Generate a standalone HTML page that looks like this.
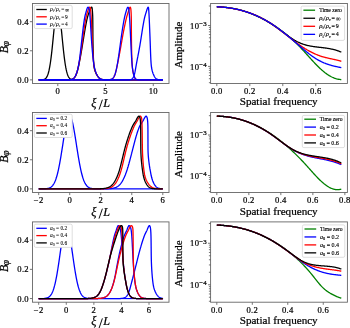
<!DOCTYPE html><html><head><meta charset="utf-8"><style>html,body{margin:0;padding:0;background:#fff;width:350px;height:328px;overflow:hidden}svg{display:block;will-change:transform}</style></head><body><svg width="350" height="328" viewBox="0 0 350 328">
<style>text{font-family:"Liberation Serif", serif;fill:#000;stroke:#000;stroke-width:0.22px}.t{font-size:8.6px;letter-spacing:0.25px}.l{font-size:10.8px}.lg{fill:#000;stroke-width:0.2px}</style>
<rect width="350" height="328" fill="#fff"/>
<clipPath id="cl0"><rect x="32.5" y="3.5" width="136.5" height="80.0"/></clipPath>
<path d="M38.7 79.86 L42.68 79.73 L43.08 79.63 L43.48 79.55 L43.88 79.44 L44.28 79.3 L44.68 79.12 L45.08 78.88 L45.48 78.58 L45.88 78.21 L46.28 77.73 L46.68 77.15 L47.08 76.43 L47.48 75.56 L47.88 74.52 L48.28 73.29 L48.68 71.83 L49.08 70.15 L49.48 68.2 L49.88 65.99 L50.28 63.51 L50.68 60.74 L51.08 57.7 L51.48 54.4 L51.88 50.85 L52.28 47.1 L52.68 43.18 L53.08 39.15 L53.48 35.06 L53.88 30.99 L54.28 27 L54.68 23.19 L55.08 19.62 L55.48 16.38 L55.88 13.54 L56.28 11.17 L56.68 9.33 L57.08 8.07 L57.48 7.42 L57.88 7.38 L58.28 7.97 L58.68 9.17 L59.08 10.95 L59.48 13.26 L59.88 16.05 L60.28 19.26 L60.68 22.79 L61.08 26.59 L61.48 30.56 L61.88 34.62 L62.28 38.71 L62.68 42.75 L63.08 46.69 L63.48 50.46 L63.88 54.03 L64.28 57.36 L64.68 60.43 L65.08 63.23 L65.48 65.74 L65.88 67.98 L66.28 69.95 L66.68 71.67 L67.08 73.14 L67.48 74.4 L67.88 75.46 L68.28 76.35 L68.68 77.08 L69.08 77.68 L69.48 78.16 L69.88 78.55 L70.28 78.86 L70.68 79.1 L71.08 79.29 L71.48 79.43 L71.88 79.54 L72.28 79.62 L72.68 79.73 L162.8 79.86" fill="none" stroke="#000" stroke-width="1.3" stroke-linejoin="round" stroke-linecap="butt" clip-path="url(#cl0)"/>
<path d="M38.7 79.86 L68.86 79.79 L69.31 79.76 L69.76 79.73 L70.21 79.68 L70.65 79.62 L71.1 79.53 L71.55 79.42 L71.93 79.31 L72.32 79.16 L72.7 78.99 L73.08 78.77 L73.47 78.51 L73.79 78.26 L74.11 77.96 L74.43 77.62 L74.68 77.31 L74.94 76.96 L75.19 76.57 L75.45 76.14 L75.7 75.67 L75.89 75.28 L76.08 74.86 L76.26 74.41 L76.45 73.93 L76.63 73.42 L76.81 72.88 L76.94 72.49 L77.06 72.09 L77.18 71.67 L77.31 71.24 L77.43 70.79 L77.56 70.32 L77.69 69.83 L77.82 69.32 L77.95 68.8 L78.08 68.25 L78.21 67.69 L78.35 67.11 L78.48 66.51 L78.62 65.89 L78.76 65.24 L78.9 64.58 L79.05 63.9 L79.19 63.2 L79.34 62.48 L79.49 61.74 L79.64 60.97 L79.79 60.19 L79.87 59.79 L79.95 59.39 L80.03 58.98 L80.1 58.57 L80.18 58.15 L80.26 57.73 L80.34 57.3 L80.42 56.87 L80.5 56.44 L80.58 55.99 L80.66 55.55 L80.74 55.1 L80.82 54.64 L80.9 54.19 L80.99 53.72 L81.07 53.26 L81.15 52.78 L81.23 52.31 L81.32 51.83 L81.4 51.35 L81.48 50.86 L81.57 50.37 L81.65 49.87 L81.74 49.37 L81.82 48.87 L81.91 48.37 L81.99 47.86 L82.08 47.35 L82.16 46.83 L82.25 46.31 L82.33 45.79 L82.42 45.27 L82.51 44.74 L82.59 44.22 L82.68 43.69 L82.77 43.15 L82.85 42.62 L82.94 42.08 L83.03 41.54 L83.12 41 L83.2 40.46 L83.29 39.92 L83.38 39.37 L83.47 38.83 L83.56 38.28 L83.64 37.73 L83.73 37.18 L83.82 36.64 L83.91 36.09 L84 35.54 L84.09 34.99 L84.18 34.44 L84.27 33.89 L84.36 33.35 L84.46 32.8 L84.55 32.25 L84.64 31.71 L84.73 31.17 L84.82 30.62 L84.92 30.08 L85.01 29.55 L85.1 29.01 L85.2 28.48 L85.29 27.94 L85.39 27.42 L85.48 26.89 L85.58 26.37 L85.67 25.85 L85.77 25.33 L85.87 24.82 L85.97 24.31 L86.06 23.8 L86.16 23.3 L86.26 22.8 L86.36 22.31 L86.46 21.83 L86.56 21.34 L86.66 20.87 L86.77 20.39 L86.87 19.93 L86.97 19.47 L87.07 19.01 L87.18 18.56 L87.28 18.12 L87.39 17.68 L87.5 17.25 L87.61 16.83 L87.73 16.41 L87.84 16.01 L87.96 15.6 L88.08 15.21 L88.2 14.82 L88.45 14.08 L88.69 13.36 L88.93 12.68 L89.16 12.03 L89.37 11.42 L89.58 10.84 L89.77 10.31 L89.95 9.81 L90.14 9.35 L90.32 8.94 L90.49 8.56 L90.75 8.08 L90.99 7.7 L91.29 7.34 L91.7 7.14 L91.95 7.5 L92.06 7.94 L92.14 8.39 L92.22 8.94 L92.27 9.35 L92.32 9.81 L92.36 10.31 L92.41 10.84 L92.45 11.42 L92.49 12.03 L92.53 12.68 L92.57 13.36 L92.61 14.08 L92.65 14.82 L92.68 15.6 L92.7 16.01 L92.71 16.41 L92.72 16.83 L92.73 17.25 L92.74 17.68 L92.75 18.12 L92.76 18.56 L92.77 19.01 L92.77 19.47 L92.78 19.93 L92.79 20.39 L92.79 20.87 L92.8 21.34 L92.8 21.83 L92.81 22.31 L92.81 22.8 L92.82 23.3 L92.82 23.8 L92.83 24.31 L92.83 24.82 L92.83 25.33 L92.84 25.85 L92.84 26.37 L92.84 26.89 L92.85 27.42 L92.85 27.94 L92.86 28.48 L92.86 29.01 L92.86 29.55 L92.87 30.08 L92.87 30.62 L92.87 31.17 L92.88 31.71 L92.88 32.25 L92.88 32.8 L92.89 33.35 L92.89 33.89 L92.89 34.44 L92.9 34.99 L92.9 35.54 L92.91 36.09 L92.91 36.64 L92.92 37.18 L92.92 37.73 L92.93 38.28 L92.94 38.83 L92.94 39.37 L92.95 39.92 L92.96 40.46 L92.97 41 L92.97 41.54 L92.98 42.08 L92.99 42.62 L93 43.15 L93.01 43.69 L93.02 44.22 L93.03 44.74 L93.04 45.27 L93.05 45.79 L93.06 46.31 L93.07 46.83 L93.08 47.35 L93.09 47.86 L93.1 48.37 L93.11 48.87 L93.13 49.37 L93.14 49.87 L93.15 50.37 L93.16 50.86 L93.18 51.35 L93.19 51.83 L93.21 52.31 L93.22 52.78 L93.23 53.26 L93.25 53.72 L93.27 54.19 L93.28 54.64 L93.3 55.1 L93.31 55.55 L93.33 55.99 L93.35 56.44 L93.37 56.87 L93.38 57.3 L93.4 57.73 L93.42 58.15 L93.44 58.57 L93.46 58.98 L93.48 59.39 L93.5 59.79 L93.54 60.59 L93.58 61.36 L93.63 62.11 L93.68 62.84 L93.72 63.55 L93.77 64.24 L93.83 64.92 L93.89 65.57 L93.97 66.2 L94.06 66.81 L94.15 67.4 L94.26 67.98 L94.38 68.53 L94.51 69.06 L94.64 69.58 L94.78 70.07 L94.93 70.55 L95.08 71.01 L95.24 71.46 L95.41 71.88 L95.57 72.29 L95.74 72.68 L95.91 73.06 L96.17 73.6 L96.43 74.1 L96.69 74.57 L96.94 75 L97.18 75.41 L97.42 75.79 L97.64 76.14 L97.93 76.57 L98.21 76.96 L98.5 77.31 L98.78 77.62 L99.14 77.96 L99.5 78.26 L99.85 78.51 L100.21 78.73 L100.57 78.92 L100.99 79.11 L101.42 79.26 L101.85 79.39 L102.28 79.49 L102.7 79.57 L103.13 79.64 L103.56 79.69 L103.98 79.73 L104.41 79.76 L104.84 79.78 L104.98 79.79 L162.8 79.86" fill="none" stroke="#000" stroke-width="1.3" stroke-linejoin="round" stroke-linecap="butt" clip-path="url(#cl0)"/>
<path d="M38.7 79.86 L68.76 79.79 L69.21 79.76 L69.66 79.73 L70.11 79.68 L70.55 79.62 L71 79.53 L71.45 79.42 L71.83 79.31 L72.22 79.16 L72.6 78.99 L72.98 78.77 L73.37 78.51 L73.69 78.26 L74.01 77.96 L74.33 77.62 L74.58 77.31 L74.84 76.96 L75.09 76.57 L75.35 76.14 L75.54 75.79 L75.73 75.41 L75.92 75 L76.11 74.57 L76.3 74.1 L76.49 73.6 L76.68 73.06 L76.87 72.49 L76.99 72.09 L77.12 71.67 L77.24 71.24 L77.37 70.79 L77.5 70.32 L77.63 69.83 L77.75 69.32 L77.88 68.8 L78.01 68.25 L78.14 67.69 L78.27 67.11 L78.4 66.51 L78.54 65.89 L78.67 65.24 L78.8 64.58 L78.94 63.9 L79.07 63.2 L79.21 62.48 L79.34 61.74 L79.48 60.97 L79.61 60.19 L79.68 59.79 L79.75 59.39 L79.82 58.98 L79.89 58.57 L79.95 58.15 L80.02 57.73 L80.09 57.3 L80.16 56.87 L80.23 56.44 L80.3 55.99 L80.37 55.55 L80.44 55.1 L80.51 54.64 L80.58 54.19 L80.65 53.72 L80.72 53.26 L80.79 52.78 L80.86 52.31 L80.93 51.83 L81 51.35 L81.07 50.86 L81.14 50.37 L81.21 49.87 L81.28 49.37 L81.36 48.87 L81.43 48.37 L81.5 47.86 L81.57 47.35 L81.64 46.83 L81.71 46.31 L81.79 45.79 L81.86 45.27 L81.93 44.74 L82 44.22 L82.08 43.69 L82.15 43.15 L82.22 42.62 L82.3 42.08 L82.37 41.54 L82.44 41 L82.52 40.46 L82.59 39.92 L82.67 39.37 L82.74 38.83 L82.82 38.28 L82.89 37.73 L82.96 37.18 L83.04 36.64 L83.11 36.09 L83.19 35.54 L83.26 34.99 L83.33 34.44 L83.41 33.89 L83.48 33.35 L83.56 32.8 L83.63 32.25 L83.71 31.71 L83.78 31.17 L83.86 30.62 L83.93 30.08 L84.01 29.55 L84.09 29.01 L84.16 28.48 L84.24 27.94 L84.32 27.42 L84.39 26.89 L84.47 26.37 L84.55 25.85 L84.63 25.33 L84.71 24.82 L84.79 24.31 L84.87 23.8 L84.95 23.3 L85.03 22.8 L85.12 22.31 L85.2 21.83 L85.28 21.34 L85.37 20.87 L85.45 20.39 L85.54 19.93 L85.62 19.47 L85.71 19.01 L85.8 18.56 L85.89 18.12 L85.98 17.68 L86.07 17.25 L86.16 16.83 L86.26 16.41 L86.36 16.01 L86.46 15.6 L86.57 15.21 L86.67 14.82 L86.88 14.08 L87.09 13.36 L87.3 12.68 L87.5 12.03 L87.69 11.42 L87.88 10.84 L88.05 10.31 L88.22 9.81 L88.39 9.35 L88.56 8.94 L88.72 8.56 L88.96 8.08 L89.19 7.7 L89.49 7.34 L89.9 7.14 L90.17 7.5 L90.3 7.94 L90.39 8.39 L90.48 8.94 L90.54 9.35 L90.59 9.81 L90.65 10.31 L90.71 10.84 L90.76 11.42 L90.81 12.03 L90.86 12.68 L90.91 13.36 L90.96 14.08 L91.01 14.82 L91.06 15.6 L91.08 16.01 L91.11 16.41 L91.13 16.83 L91.16 17.25 L91.18 17.68 L91.2 18.12 L91.23 18.56 L91.25 19.01 L91.28 19.47 L91.3 19.93 L91.32 20.39 L91.35 20.87 L91.37 21.34 L91.39 21.83 L91.42 22.31 L91.44 22.8 L91.46 23.3 L91.49 23.8 L91.51 24.31 L91.53 24.82 L91.55 25.33 L91.58 25.85 L91.6 26.37 L91.62 26.89 L91.65 27.42 L91.67 27.94 L91.69 28.48 L91.71 29.01 L91.74 29.55 L91.76 30.08 L91.78 30.62 L91.81 31.17 L91.83 31.71 L91.85 32.25 L91.88 32.8 L91.9 33.35 L91.93 33.89 L91.95 34.44 L91.97 34.99 L92 35.54 L92.02 36.09 L92.05 36.64 L92.07 37.18 L92.1 37.73 L92.12 38.28 L92.15 38.83 L92.18 39.37 L92.2 39.92 L92.23 40.46 L92.26 41 L92.28 41.54 L92.31 42.08 L92.33 42.62 L92.36 43.15 L92.39 43.69 L92.41 44.22 L92.44 44.74 L92.46 45.27 L92.49 45.79 L92.51 46.31 L92.54 46.83 L92.57 47.35 L92.59 47.86 L92.62 48.37 L92.64 48.87 L92.67 49.37 L92.7 49.87 L92.72 50.37 L92.75 50.86 L92.78 51.35 L92.81 51.83 L92.83 52.31 L92.86 52.78 L92.89 53.26 L92.92 53.72 L92.95 54.19 L92.97 54.64 L93 55.1 L93.03 55.55 L93.06 55.99 L93.09 56.44 L93.12 56.87 L93.16 57.3 L93.19 57.73 L93.22 58.15 L93.25 58.57 L93.28 58.98 L93.32 59.39 L93.35 59.79 L93.42 60.59 L93.49 61.36 L93.57 62.11 L93.64 62.84 L93.72 63.55 L93.81 64.24 L93.89 64.92 L93.99 65.57 L94.09 66.2 L94.2 66.81 L94.31 67.4 L94.43 67.98 L94.56 68.53 L94.69 69.06 L94.83 69.58 L94.97 70.07 L95.12 70.55 L95.27 71.01 L95.42 71.46 L95.57 71.88 L95.73 72.29 L95.89 72.68 L96.05 73.06 L96.29 73.6 L96.53 74.1 L96.77 74.57 L97.01 75 L97.25 75.41 L97.47 75.79 L97.69 76.14 L97.98 76.57 L98.26 76.96 L98.55 77.31 L98.83 77.62 L99.19 77.96 L99.55 78.26 L99.9 78.51 L100.26 78.73 L100.62 78.92 L101.04 79.11 L101.47 79.26 L101.9 79.39 L102.33 79.49 L102.75 79.57 L103.18 79.64 L103.61 79.69 L104.03 79.73 L104.46 79.76 L104.89 79.78 L105.03 79.79 L162.8 79.86" fill="none" stroke="#ff0000" stroke-width="1.3" stroke-linejoin="round" stroke-linecap="butt" clip-path="url(#cl0)"/>
<path d="M38.7 79.86 L108.51 79.79 L108.96 79.76 L109.42 79.72 L109.87 79.65 L110.27 79.58 L110.66 79.49 L111.06 79.37 L111.46 79.22 L111.85 79.02 L112.25 78.77 L112.59 78.51 L112.93 78.2 L113.21 77.9 L113.49 77.54 L113.78 77.14 L114 76.77 L114.23 76.36 L114.46 75.91 L114.62 75.54 L114.78 75.14 L114.94 74.71 L115.1 74.26 L115.26 73.77 L115.42 73.24 L115.58 72.68 L115.69 72.29 L115.79 71.88 L115.9 71.46 L116.01 71.01 L116.12 70.55 L116.23 70.07 L116.35 69.58 L116.46 69.06 L116.58 68.53 L116.7 67.98 L116.82 67.4 L116.94 66.81 L117.07 66.2 L117.2 65.57 L117.33 64.92 L117.47 64.24 L117.61 63.55 L117.75 62.84 L117.9 62.11 L118.05 61.36 L118.2 60.59 L118.28 60.19 L118.36 59.79 L118.44 59.39 L118.52 58.98 L118.6 58.57 L118.68 58.15 L118.76 57.73 L118.84 57.3 L118.92 56.87 L119.01 56.44 L119.09 55.99 L119.18 55.55 L119.26 55.1 L119.35 54.64 L119.43 54.19 L119.52 53.72 L119.61 53.26 L119.69 52.78 L119.78 52.31 L119.87 51.83 L119.96 51.35 L120.05 50.86 L120.14 50.37 L120.23 49.87 L120.32 49.37 L120.41 48.87 L120.5 48.37 L120.59 47.86 L120.68 47.35 L120.78 46.83 L120.87 46.31 L120.96 45.79 L121.05 45.27 L121.15 44.74 L121.24 44.22 L121.33 43.69 L121.43 43.15 L121.52 42.62 L121.61 42.08 L121.71 41.54 L121.8 41 L121.9 40.46 L121.99 39.92 L122.09 39.37 L122.18 38.83 L122.28 38.28 L122.37 37.73 L122.47 37.18 L122.57 36.64 L122.67 36.09 L122.77 35.54 L122.87 34.99 L122.97 34.44 L123.07 33.89 L123.17 33.35 L123.28 32.8 L123.38 32.25 L123.48 31.71 L123.59 31.17 L123.69 30.62 L123.8 30.08 L123.9 29.55 L124.01 29.01 L124.12 28.48 L124.22 27.94 L124.33 27.42 L124.44 26.89 L124.55 26.37 L124.65 25.85 L124.76 25.33 L124.87 24.82 L124.98 24.31 L125.08 23.8 L125.19 23.3 L125.3 22.8 L125.41 22.31 L125.52 21.83 L125.63 21.34 L125.73 20.87 L125.84 20.39 L125.95 19.93 L126.06 19.47 L126.17 19.01 L126.27 18.56 L126.38 18.12 L126.49 17.68 L126.6 17.25 L126.72 16.83 L126.83 16.41 L126.95 16.01 L127.07 15.6 L127.19 15.21 L127.31 14.82 L127.54 14.08 L127.78 13.36 L128 12.68 L128.21 12.03 L128.4 11.42 L128.58 10.84 L128.74 10.31 L128.89 9.81 L129.05 9.35 L129.19 8.94 L129.33 8.56 L129.54 8.08 L129.72 7.7 L129.94 7.34 L130.32 7.19 L130.54 7.59 L130.67 8.08 L130.76 8.56 L130.84 9.14 L130.89 9.58 L130.94 10.05 L130.98 10.57 L131.02 11.12 L131.06 11.72 L131.1 12.35 L131.14 13.01 L131.17 13.71 L131.2 14.45 L131.23 15.21 L131.26 16.01 L131.27 16.41 L131.28 16.83 L131.29 17.25 L131.29 17.68 L131.3 18.12 L131.31 18.56 L131.31 19.01 L131.32 19.47 L131.32 19.93 L131.33 20.39 L131.33 20.87 L131.34 21.34 L131.34 21.83 L131.34 22.31 L131.35 22.8 L131.35 23.3 L131.35 23.8 L131.36 24.31 L131.36 24.82 L131.36 25.33 L131.37 25.85 L131.37 26.37 L131.37 26.89 L131.37 27.42 L131.38 27.94 L131.38 28.48 L131.38 29.01 L131.38 29.55 L131.39 30.08 L131.39 30.62 L131.39 31.17 L131.39 31.71 L131.4 32.25 L131.4 32.8 L131.4 33.35 L131.41 33.89 L131.41 34.44 L131.41 34.99 L131.42 35.54 L131.42 36.09 L131.42 36.64 L131.43 37.18 L131.43 37.73 L131.44 38.28 L131.44 38.83 L131.45 39.37 L131.45 39.92 L131.46 40.46 L131.46 41 L131.47 41.54 L131.48 42.08 L131.48 42.62 L131.49 43.15 L131.5 43.69 L131.5 44.22 L131.51 44.74 L131.52 45.27 L131.53 45.79 L131.54 46.31 L131.55 46.83 L131.56 47.35 L131.57 47.86 L131.58 48.37 L131.59 48.87 L131.6 49.37 L131.61 49.87 L131.62 50.37 L131.63 50.86 L131.65 51.35 L131.66 51.83 L131.67 52.31 L131.68 52.78 L131.7 53.26 L131.71 53.72 L131.72 54.19 L131.74 54.64 L131.75 55.1 L131.76 55.55 L131.78 55.99 L131.79 56.44 L131.81 56.87 L131.82 57.3 L131.84 57.73 L131.85 58.15 L131.87 58.57 L131.88 58.98 L131.9 59.39 L131.92 59.79 L131.95 60.59 L131.99 61.36 L132.02 62.11 L132.06 62.84 L132.09 63.55 L132.13 64.24 L132.17 64.92 L132.21 65.57 L132.26 66.2 L132.31 66.81 L132.37 67.4 L132.43 67.98 L132.49 68.53 L132.56 69.06 L132.63 69.58 L132.7 70.07 L132.78 70.55 L132.85 71.01 L132.93 71.46 L133.01 71.88 L133.1 72.29 L133.18 72.68 L133.31 73.24 L133.43 73.77 L133.56 74.26 L133.69 74.71 L133.81 75.14 L133.93 75.54 L134.08 76.03 L134.23 76.47 L134.38 76.86 L134.56 77.31 L134.74 77.69 L134.96 78.08 L135.22 78.47 L135.47 78.77 L135.77 79.05 L136.09 79.29 L136.46 79.47 L136.86 79.62 L137.26 79.71 L137.67 79.77 L137.88 79.79 L162.8 79.86" fill="none" stroke="#ff0000" stroke-width="1.3" stroke-linejoin="round" stroke-linecap="butt" clip-path="url(#cl0)"/>
<path d="M38.7 79.86 L68.66 79.79 L69.11 79.76 L69.56 79.73 L70.01 79.68 L70.45 79.62 L70.9 79.53 L71.35 79.42 L71.73 79.31 L72.12 79.16 L72.5 78.99 L72.88 78.77 L73.27 78.51 L73.59 78.26 L73.91 77.96 L74.23 77.62 L74.48 77.31 L74.74 76.96 L74.99 76.57 L75.25 76.14 L75.44 75.79 L75.64 75.41 L75.83 75 L76.02 74.57 L76.22 74.1 L76.42 73.6 L76.61 73.06 L76.81 72.49 L76.94 72.09 L77.06 71.67 L77.19 71.24 L77.32 70.79 L77.45 70.32 L77.58 69.83 L77.71 69.32 L77.83 68.8 L77.96 68.25 L78.09 67.69 L78.21 67.11 L78.33 66.51 L78.46 65.89 L78.58 65.24 L78.7 64.58 L78.82 63.9 L78.94 63.2 L79.06 62.48 L79.17 61.74 L79.29 60.97 L79.4 60.19 L79.46 59.79 L79.52 59.39 L79.57 58.98 L79.63 58.57 L79.68 58.15 L79.74 57.73 L79.8 57.3 L79.85 56.87 L79.91 56.44 L79.96 55.99 L80.02 55.55 L80.07 55.1 L80.13 54.64 L80.18 54.19 L80.24 53.72 L80.29 53.26 L80.35 52.78 L80.41 52.31 L80.46 51.83 L80.52 51.35 L80.57 50.86 L80.63 50.37 L80.68 49.87 L80.74 49.37 L80.8 48.87 L80.85 48.37 L80.91 47.86 L80.97 47.35 L81.02 46.83 L81.08 46.31 L81.14 45.79 L81.2 45.27 L81.25 44.74 L81.31 44.22 L81.37 43.69 L81.43 43.15 L81.49 42.62 L81.55 42.08 L81.61 41.54 L81.67 41 L81.73 40.46 L81.79 39.92 L81.86 39.37 L81.92 38.83 L81.98 38.28 L82.04 37.73 L82.1 37.18 L82.16 36.64 L82.23 36.09 L82.29 35.54 L82.35 34.99 L82.41 34.44 L82.47 33.89 L82.54 33.35 L82.6 32.8 L82.66 32.25 L82.72 31.71 L82.79 31.17 L82.85 30.62 L82.91 30.08 L82.98 29.55 L83.04 29.01 L83.11 28.48 L83.17 27.94 L83.24 27.42 L83.3 26.89 L83.37 26.37 L83.44 25.85 L83.5 25.33 L83.57 24.82 L83.64 24.31 L83.71 23.8 L83.78 23.3 L83.85 22.8 L83.92 22.31 L83.99 21.83 L84.06 21.34 L84.14 20.87 L84.21 20.39 L84.28 19.93 L84.36 19.47 L84.43 19.01 L84.51 18.56 L84.59 18.12 L84.67 17.68 L84.75 17.25 L84.83 16.83 L84.92 16.41 L85.01 16.01 L85.11 15.6 L85.2 15.21 L85.39 14.45 L85.59 13.71 L85.78 13.01 L85.96 12.35 L86.14 11.72 L86.3 11.12 L86.46 10.57 L86.6 10.05 L86.74 9.58 L86.88 9.14 L87.02 8.74 L87.22 8.23 L87.4 7.81 L87.64 7.41 L87.95 7.14 L88.38 7.34 L88.61 7.7 L88.78 8.08 L88.94 8.56 L89.09 9.14 L89.19 9.58 L89.28 10.05 L89.37 10.57 L89.45 11.12 L89.53 11.72 L89.6 12.35 L89.68 13.01 L89.74 13.71 L89.81 14.45 L89.88 15.21 L89.94 16.01 L89.97 16.41 L90.01 16.83 L90.04 17.25 L90.07 17.68 L90.11 18.12 L90.14 18.56 L90.17 19.01 L90.21 19.47 L90.24 19.93 L90.27 20.39 L90.31 20.87 L90.34 21.34 L90.37 21.83 L90.4 22.31 L90.43 22.8 L90.47 23.3 L90.5 23.8 L90.53 24.31 L90.56 24.82 L90.59 25.33 L90.63 25.85 L90.66 26.37 L90.69 26.89 L90.72 27.42 L90.75 27.94 L90.78 28.48 L90.82 29.01 L90.85 29.55 L90.88 30.08 L90.91 30.62 L90.95 31.17 L90.98 31.71 L91.01 32.25 L91.04 32.8 L91.08 33.35 L91.11 33.89 L91.15 34.44 L91.18 34.99 L91.21 35.54 L91.25 36.09 L91.28 36.64 L91.32 37.18 L91.36 37.73 L91.39 38.28 L91.43 38.83 L91.47 39.37 L91.5 39.92 L91.54 40.46 L91.58 41 L91.62 41.54 L91.66 42.08 L91.69 42.62 L91.73 43.15 L91.77 43.69 L91.81 44.22 L91.85 44.74 L91.89 45.27 L91.93 45.79 L91.97 46.31 L92.01 46.83 L92.05 47.35 L92.09 47.86 L92.13 48.37 L92.17 48.87 L92.21 49.37 L92.25 49.87 L92.29 50.37 L92.33 50.86 L92.37 51.35 L92.42 51.83 L92.46 52.31 L92.5 52.78 L92.54 53.26 L92.59 53.72 L92.63 54.19 L92.68 54.64 L92.72 55.1 L92.76 55.55 L92.81 55.99 L92.85 56.44 L92.9 56.87 L92.95 57.3 L92.99 57.73 L93.04 58.15 L93.09 58.57 L93.13 58.98 L93.18 59.39 L93.23 59.79 L93.28 60.19 L93.38 60.97 L93.48 61.74 L93.58 62.48 L93.68 63.2 L93.79 63.9 L93.9 64.58 L94.01 65.24 L94.13 65.89 L94.25 66.51 L94.37 67.11 L94.5 67.69 L94.63 68.25 L94.77 68.8 L94.9 69.32 L95.05 69.83 L95.19 70.32 L95.33 70.79 L95.48 71.24 L95.63 71.67 L95.78 72.09 L95.93 72.49 L96.09 72.88 L96.32 73.42 L96.55 73.93 L96.78 74.41 L97 74.86 L97.23 75.28 L97.45 75.67 L97.67 76.03 L97.96 76.47 L98.24 76.86 L98.53 77.22 L98.81 77.54 L99.1 77.83 L99.45 78.14 L99.81 78.42 L100.17 78.65 L100.52 78.85 L100.95 79.05 L101.38 79.22 L101.81 79.35 L102.23 79.46 L102.66 79.55 L103.09 79.62 L103.52 79.67 L103.94 79.72 L104.37 79.75 L104.8 79.78 L105.08 79.79 L162.8 79.86" fill="none" stroke="#0000ff" stroke-width="1.3" stroke-linejoin="round" stroke-linecap="butt" clip-path="url(#cl0)"/>
<path d="M38.7 79.86 L108.41 79.79 L108.86 79.76 L109.32 79.72 L109.77 79.65 L110.17 79.58 L110.56 79.49 L110.96 79.37 L111.36 79.22 L111.75 79.02 L112.15 78.77 L112.49 78.51 L112.83 78.2 L113.11 77.9 L113.39 77.54 L113.68 77.14 L113.9 76.77 L114.13 76.36 L114.36 75.91 L114.52 75.54 L114.69 75.14 L114.86 74.71 L115.02 74.26 L115.19 73.77 L115.35 73.24 L115.52 72.68 L115.63 72.29 L115.74 71.88 L115.85 71.46 L115.96 71.01 L116.08 70.55 L116.19 70.07 L116.3 69.58 L116.42 69.06 L116.53 68.53 L116.65 67.98 L116.76 67.4 L116.88 66.81 L117 66.2 L117.12 65.57 L117.24 64.92 L117.36 64.24 L117.49 63.55 L117.61 62.84 L117.73 62.11 L117.86 61.36 L117.98 60.59 L118.11 59.79 L118.17 59.39 L118.23 58.98 L118.3 58.57 L118.36 58.15 L118.43 57.73 L118.49 57.3 L118.55 56.87 L118.62 56.44 L118.68 55.99 L118.75 55.55 L118.81 55.1 L118.88 54.64 L118.94 54.19 L119.01 53.72 L119.08 53.26 L119.14 52.78 L119.21 52.31 L119.27 51.83 L119.34 51.35 L119.41 50.86 L119.48 50.37 L119.54 49.87 L119.61 49.37 L119.68 48.87 L119.75 48.37 L119.82 47.86 L119.89 47.35 L119.96 46.83 L120.03 46.31 L120.1 45.79 L120.17 45.27 L120.24 44.74 L120.31 44.22 L120.38 43.69 L120.45 43.15 L120.53 42.62 L120.6 42.08 L120.67 41.54 L120.75 41 L120.82 40.46 L120.89 39.92 L120.97 39.37 L121.04 38.83 L121.12 38.28 L121.19 37.73 L121.27 37.18 L121.35 36.64 L121.43 36.09 L121.5 35.54 L121.58 34.99 L121.66 34.44 L121.74 33.89 L121.82 33.35 L121.9 32.8 L121.98 32.25 L122.06 31.71 L122.15 31.17 L122.23 30.62 L122.31 30.08 L122.39 29.55 L122.48 29.01 L122.56 28.48 L122.64 27.94 L122.73 27.42 L122.81 26.89 L122.9 26.37 L122.98 25.85 L123.07 25.33 L123.16 24.82 L123.24 24.31 L123.33 23.8 L123.42 23.3 L123.5 22.8 L123.59 22.31 L123.68 21.83 L123.76 21.34 L123.85 20.87 L123.94 20.39 L124.03 19.93 L124.12 19.47 L124.21 19.01 L124.3 18.56 L124.39 18.12 L124.48 17.68 L124.57 17.25 L124.66 16.83 L124.76 16.41 L124.86 16.01 L124.96 15.6 L125.06 15.21 L125.26 14.45 L125.46 13.71 L125.65 13.01 L125.84 12.35 L126.03 11.72 L126.2 11.12 L126.36 10.57 L126.51 10.05 L126.66 9.58 L126.81 9.14 L126.96 8.74 L127.17 8.23 L127.36 7.81 L127.61 7.41 L127.95 7.14 L128.3 7.41 L128.46 7.81 L128.58 8.23 L128.69 8.74 L128.76 9.14 L128.84 9.58 L128.91 10.05 L128.97 10.57 L129.04 11.12 L129.11 11.72 L129.17 12.35 L129.23 13.01 L129.29 13.71 L129.35 14.45 L129.41 15.21 L129.46 16.01 L129.49 16.41 L129.52 16.83 L129.55 17.25 L129.58 17.68 L129.6 18.12 L129.63 18.56 L129.66 19.01 L129.69 19.47 L129.72 19.93 L129.74 20.39 L129.77 20.87 L129.8 21.34 L129.82 21.83 L129.85 22.31 L129.88 22.8 L129.9 23.3 L129.93 23.8 L129.96 24.31 L129.98 24.82 L130.01 25.33 L130.04 25.85 L130.06 26.37 L130.09 26.89 L130.11 27.42 L130.14 27.94 L130.16 28.48 L130.19 29.01 L130.22 29.55 L130.24 30.08 L130.27 30.62 L130.29 31.17 L130.32 31.71 L130.34 32.25 L130.37 32.8 L130.39 33.35 L130.42 33.89 L130.45 34.44 L130.47 34.99 L130.5 35.54 L130.52 36.09 L130.55 36.64 L130.57 37.18 L130.6 37.73 L130.62 38.28 L130.65 38.83 L130.68 39.37 L130.7 39.92 L130.73 40.46 L130.75 41 L130.78 41.54 L130.81 42.08 L130.83 42.62 L130.86 43.15 L130.88 43.69 L130.91 44.22 L130.93 44.74 L130.95 45.27 L130.98 45.79 L131 46.31 L131.03 46.83 L131.05 47.35 L131.08 47.86 L131.1 48.37 L131.12 48.87 L131.15 49.37 L131.17 49.87 L131.2 50.37 L131.22 50.86 L131.25 51.35 L131.27 51.83 L131.29 52.31 L131.32 52.78 L131.34 53.26 L131.37 53.72 L131.39 54.19 L131.42 54.64 L131.44 55.1 L131.47 55.55 L131.49 55.99 L131.52 56.44 L131.54 56.87 L131.57 57.3 L131.59 57.73 L131.62 58.15 L131.65 58.57 L131.67 58.98 L131.7 59.39 L131.73 59.79 L131.78 60.59 L131.84 61.36 L131.89 62.11 L131.95 62.84 L132.01 63.55 L132.07 64.24 L132.13 64.92 L132.19 65.57 L132.26 66.2 L132.33 66.81 L132.4 67.4 L132.47 67.98 L132.54 68.53 L132.62 69.06 L132.69 69.58 L132.77 70.07 L132.84 70.55 L132.92 71.01 L133 71.46 L133.08 71.88 L133.16 72.29 L133.24 72.68 L133.37 73.24 L133.49 73.77 L133.61 74.26 L133.73 74.71 L133.85 75.14 L133.97 75.54 L134.13 76.03 L134.29 76.47 L134.44 76.86 L134.63 77.31 L134.82 77.69 L135.05 78.08 L135.28 78.42 L135.55 78.73 L135.86 79.02 L136.2 79.26 L136.59 79.46 L136.97 79.59 L137.39 79.69 L137.81 79.76 L138.12 79.79 L162.8 79.86" fill="none" stroke="#0000ff" stroke-width="1.3" stroke-linejoin="round" stroke-linecap="butt" clip-path="url(#cl0)"/>
<path d="M38.7 79.86 L129.13 79.79 L129.54 79.76 L129.95 79.7 L130.36 79.63 L130.78 79.52 L131.19 79.37 L131.55 79.19 L131.92 78.95 L132.24 78.69 L132.56 78.36 L132.83 78.02 L133.06 77.69 L133.29 77.31 L133.52 76.86 L133.7 76.47 L133.88 76.03 L134.06 75.54 L134.18 75.14 L134.31 74.71 L134.44 74.26 L134.56 73.77 L134.68 73.24 L134.81 72.68 L134.89 72.29 L134.98 71.88 L135.06 71.46 L135.15 71.01 L135.24 70.55 L135.33 70.07 L135.42 69.58 L135.51 69.06 L135.61 68.53 L135.71 67.98 L135.81 67.4 L135.91 66.81 L136.02 66.2 L136.13 65.57 L136.24 64.92 L136.36 64.24 L136.49 63.55 L136.62 62.84 L136.75 62.11 L136.9 61.36 L137.04 60.59 L137.12 60.19 L137.2 59.79 L137.27 59.39 L137.35 58.98 L137.43 58.57 L137.51 58.15 L137.6 57.73 L137.68 57.3 L137.76 56.87 L137.85 56.44 L137.93 55.99 L138.02 55.55 L138.1 55.1 L138.19 54.64 L138.28 54.19 L138.37 53.72 L138.46 53.26 L138.55 52.78 L138.63 52.31 L138.72 51.83 L138.82 51.35 L138.91 50.86 L139 50.37 L139.09 49.87 L139.18 49.37 L139.27 48.87 L139.36 48.37 L139.45 47.86 L139.54 47.35 L139.63 46.83 L139.73 46.31 L139.82 45.79 L139.91 45.27 L140 44.74 L140.09 44.22 L140.18 43.69 L140.27 43.15 L140.36 42.62 L140.44 42.08 L140.53 41.54 L140.62 41 L140.71 40.46 L140.79 39.92 L140.88 39.37 L140.96 38.83 L141.05 38.28 L141.13 37.73 L141.22 37.18 L141.3 36.64 L141.39 36.09 L141.47 35.54 L141.56 34.99 L141.64 34.44 L141.73 33.89 L141.81 33.35 L141.9 32.8 L141.98 32.25 L142.07 31.71 L142.15 31.17 L142.24 30.62 L142.32 30.08 L142.41 29.55 L142.49 29.01 L142.58 28.48 L142.67 27.94 L142.75 27.42 L142.84 26.89 L142.93 26.37 L143.02 25.85 L143.1 25.33 L143.19 24.82 L143.28 24.31 L143.37 23.8 L143.46 23.3 L143.55 22.8 L143.64 22.31 L143.73 21.83 L143.82 21.34 L143.92 20.87 L144.01 20.39 L144.1 19.93 L144.2 19.47 L144.29 19.01 L144.39 18.56 L144.48 18.12 L144.58 17.68 L144.68 17.25 L144.79 16.83 L144.9 16.41 L145.01 16.01 L145.12 15.6 L145.23 15.21 L145.34 14.82 L145.57 14.08 L145.79 13.36 L146.01 12.68 L146.22 12.03 L146.41 11.42 L146.58 10.84 L146.74 10.31 L146.89 9.81 L147.04 9.35 L147.18 8.94 L147.39 8.39 L147.59 7.94 L147.82 7.5 L148.12 7.16 L148.4 7.5 L148.49 7.94 L148.56 8.39 L148.63 8.94 L148.67 9.35 L148.72 9.81 L148.76 10.31 L148.81 10.84 L148.85 11.42 L148.89 12.03 L148.93 12.68 L148.97 13.36 L149.01 14.08 L149.04 14.82 L149.08 15.6 L149.1 16.01 L149.12 16.41 L149.14 16.83 L149.16 17.25 L149.18 17.68 L149.2 18.12 L149.22 18.56 L149.24 19.01 L149.27 19.47 L149.29 19.93 L149.31 20.39 L149.33 20.87 L149.35 21.34 L149.37 21.83 L149.39 22.31 L149.41 22.8 L149.43 23.3 L149.46 23.8 L149.48 24.31 L149.5 24.82 L149.52 25.33 L149.54 25.85 L149.56 26.37 L149.59 26.89 L149.61 27.42 L149.63 27.94 L149.65 28.48 L149.67 29.01 L149.69 29.55 L149.72 30.08 L149.74 30.62 L149.76 31.17 L149.78 31.71 L149.8 32.25 L149.82 32.8 L149.85 33.35 L149.87 33.89 L149.89 34.44 L149.91 34.99 L149.93 35.54 L149.95 36.09 L149.98 36.64 L150 37.18 L150.02 37.73 L150.04 38.28 L150.06 38.83 L150.08 39.37 L150.1 39.92 L150.12 40.46 L150.14 41 L150.16 41.54 L150.18 42.08 L150.2 42.62 L150.22 43.15 L150.24 43.69 L150.26 44.22 L150.28 44.74 L150.29 45.27 L150.31 45.79 L150.33 46.31 L150.35 46.83 L150.36 47.35 L150.38 47.86 L150.4 48.37 L150.42 48.87 L150.43 49.37 L150.45 49.87 L150.47 50.37 L150.49 50.86 L150.5 51.35 L150.52 51.83 L150.54 52.31 L150.55 52.78 L150.57 53.26 L150.59 53.72 L150.61 54.19 L150.63 54.64 L150.64 55.1 L150.66 55.55 L150.68 55.99 L150.7 56.44 L150.72 56.87 L150.74 57.3 L150.76 57.73 L150.78 58.15 L150.8 58.57 L150.82 58.98 L150.84 59.39 L150.86 59.79 L150.91 60.59 L150.96 61.36 L151.01 62.11 L151.06 62.84 L151.11 63.55 L151.17 64.24 L151.23 64.92 L151.3 65.57 L151.37 66.2 L151.45 66.81 L151.54 67.4 L151.63 67.98 L151.73 68.53 L151.84 69.06 L151.95 69.58 L152.06 70.07 L152.17 70.55 L152.29 71.01 L152.42 71.46 L152.54 71.88 L152.67 72.29 L152.8 72.68 L152.99 73.24 L153.19 73.77 L153.39 74.26 L153.58 74.71 L153.77 75.14 L153.96 75.54 L154.14 75.91 L154.37 76.36 L154.6 76.77 L154.82 77.14 L155.11 77.54 L155.39 77.9 L155.67 78.2 L156.01 78.51 L156.35 78.77 L156.69 78.99 L157.09 79.19 L157.48 79.35 L157.88 79.47 L158.28 79.57 L158.67 79.65 L159.07 79.7 L159.52 79.75 L159.98 79.78 L160.09 79.79 L162.8 79.86" fill="none" stroke="#0000ff" stroke-width="1.3" stroke-linejoin="round" stroke-linecap="butt" clip-path="url(#cl0)"/>
<rect x="32.5" y="3.5" width="136.5" height="80.0" fill="none" stroke="#666" stroke-width="0.9"/>
<line x1="57.8" y1="83.5" x2="57.8" y2="86.1" stroke="#666" stroke-width="0.9"/>
<text x="57.8" y="94.3" text-anchor="middle" class="t">0</text>
<line x1="105.52" y1="83.5" x2="105.52" y2="86.1" stroke="#666" stroke-width="0.9"/>
<text x="105.52" y="94.3" text-anchor="middle" class="t">5</text>
<line x1="153.25" y1="83.5" x2="153.25" y2="86.1" stroke="#666" stroke-width="0.9"/>
<text x="153.25" y="94.3" text-anchor="middle" class="t">10</text>
<line x1="29.9" y1="79.86" x2="32.5" y2="79.86" stroke="#666" stroke-width="0.9"/>
<text x="28.85" y="82.86" text-anchor="end" class="t">0.0</text>
<line x1="29.9" y1="50.77" x2="32.5" y2="50.77" stroke="#666" stroke-width="0.9"/>
<text x="28.85" y="53.77" text-anchor="end" class="t">0.2</text>
<line x1="29.9" y1="21.68" x2="32.5" y2="21.68" stroke="#666" stroke-width="0.9"/>
<text x="28.85" y="24.68" text-anchor="end" class="t">0.4</text>
<text transform="translate(7.8 53.3) rotate(-90)" style="font-size:11.8px"><tspan font-style="italic">B</tspan><tspan font-style="italic" font-size="10" dx="-0.5" dy="1.0">φ</tspan></text>
<text y="106.7" style="font-size:12.2px"><tspan x="91.2" font-style="italic">ξ</tspan><tspan x="103.2" font-style="italic">L</tspan></text>
<line x1="102.4" y1="99.7" x2="99.0" y2="109.6" stroke="#000" stroke-width="0.95"/>
<rect x="34.3" y="5.4" width="37.9" height="23.2" rx="1.5" fill="#fff" stroke="#d6d6d6" stroke-width="0.8"/>
<line x1="36.3" y1="9.5" x2="46.8" y2="9.5" stroke="#000" stroke-width="1.3"/>
<text x="50" y="11.28" font-size="5.4" class="lg" style="stroke-width:0.06px"><tspan font-style="italic" font-size="6.05">ρ</tspan><tspan font-size="3.89" dy="1.08">i</tspan><tspan dy="-1.08" dx="0.2">/</tspan><tspan font-style="italic" font-size="6.05" dx="0.2">ρ</tspan><tspan font-size="3.89" dy="1.08">e</tspan><tspan dy="-1.08" dx="0.6">=</tspan><tspan dx="0.8"><tspan font-size="6.05" dy="0.3">∞</tspan></tspan></text>
<line x1="36.3" y1="16.8" x2="46.8" y2="16.8" stroke="#ff0000" stroke-width="1.3"/>
<text x="50" y="18.58" font-size="5.4" class="lg" style="stroke-width:0.06px"><tspan font-style="italic" font-size="6.05">ρ</tspan><tspan font-size="3.89" dy="1.08">i</tspan><tspan dy="-1.08" dx="0.2">/</tspan><tspan font-style="italic" font-size="6.05" dx="0.2">ρ</tspan><tspan font-size="3.89" dy="1.08">e</tspan><tspan dy="-1.08" dx="0.6">=</tspan><tspan dx="0.8">9</tspan></text>
<line x1="36.3" y1="24.1" x2="46.8" y2="24.1" stroke="#0000ff" stroke-width="1.3"/>
<text x="50" y="25.88" font-size="5.4" class="lg" style="stroke-width:0.06px"><tspan font-style="italic" font-size="6.05">ρ</tspan><tspan font-size="3.89" dy="1.08">i</tspan><tspan dy="-1.08" dx="0.2">/</tspan><tspan font-style="italic" font-size="6.05" dx="0.2">ρ</tspan><tspan font-size="3.89" dy="1.08">e</tspan><tspan dy="-1.08" dx="0.6">=</tspan><tspan dx="0.8">4</tspan></text>
<clipPath id="cl1"><rect x="32.5" y="112.5" width="136.5" height="80.0"/></clipPath>
<path d="M38.7 188.86 L45.6 188.74 L46 188.67 L46.4 188.62 L46.8 188.57 L47.2 188.52 L47.6 188.44 L48 188.36 L48.4 188.26 L48.8 188.14 L49.2 188.01 L49.6 187.85 L50 187.66 L50.4 187.44 L50.8 187.2 L51.2 186.91 L51.6 186.58 L52 186.21 L52.4 185.78 L52.8 185.3 L53.2 184.75 L53.6 184.15 L54 183.46 L54.4 182.7 L54.8 181.86 L55.2 180.93 L55.6 179.91 L56 178.79 L56.4 177.57 L56.8 176.24 L57.2 174.81 L57.6 173.26 L58 171.61 L58.4 169.84 L58.8 167.97 L59.2 165.99 L59.6 163.9 L60 161.72 L60.4 159.45 L60.8 157.1 L61.2 154.68 L61.6 152.2 L62 149.67 L62.4 147.11 L62.8 144.54 L63.2 141.97 L63.6 139.42 L64 136.9 L64.4 134.45 L64.8 132.07 L65.2 129.8 L65.6 127.64 L66 125.62 L66.4 123.75 L66.8 122.06 L67.2 120.55 L67.6 119.26 L68 118.18 L68.4 117.32 L68.8 116.71 L69.2 116.34 L69.6 116.22 L70 116.34 L70.4 116.7 L70.8 117.31 L71.2 118.16 L71.6 119.23 L72 120.52 L72.4 122.02 L72.8 123.71 L73.2 125.57 L73.6 127.59 L74 129.75 L74.4 132.02 L74.8 134.4 L75.2 136.85 L75.6 139.36 L76 141.91 L76.4 144.49 L76.8 147.06 L77.2 149.62 L77.6 152.15 L78 154.63 L78.4 157.05 L78.8 159.4 L79.2 161.68 L79.6 163.86 L80 165.94 L80.4 167.93 L80.8 169.8 L81.2 171.57 L81.6 173.23 L82 174.77 L82.4 176.21 L82.8 177.54 L83.2 178.76 L83.6 179.89 L84 180.91 L84.4 181.84 L84.8 182.69 L85.2 183.45 L85.6 184.13 L86 184.74 L86.4 185.29 L86.8 185.77 L87.2 186.2 L87.6 186.57 L88 186.9 L88.4 187.19 L88.8 187.44 L89.2 187.66 L89.6 187.84 L90 188 L90.4 188.14 L90.8 188.26 L91.2 188.36 L91.6 188.44 L92 188.51 L92.4 188.57 L92.8 188.62 L93.2 188.67 L93.6 188.74 L162.8 188.86" fill="none" stroke="#0000ff" stroke-width="1.3" stroke-linejoin="round" stroke-linecap="butt" clip-path="url(#cl1)"/>
<path d="M38.7 188.86 L106.88 188.79 L107.36 188.78 L107.84 188.76 L108.32 188.74 L108.81 188.72 L109.29 188.69 L109.77 188.65 L110.25 188.62 L110.73 188.57 L111.22 188.52 L111.7 188.46 L112.18 188.39 L112.66 188.31 L113.15 188.22 L113.63 188.11 L114.11 187.99 L114.59 187.85 L115.07 187.69 L115.56 187.51 L116.04 187.31 L116.52 187.08 L116.88 186.9 L117.24 186.69 L117.61 186.47 L117.97 186.22 L118.33 185.96 L118.69 185.67 L119.05 185.36 L119.41 185.03 L119.77 184.67 L120.13 184.28 L120.49 183.86 L120.85 183.41 L121.21 182.93 L121.45 182.6 L121.68 182.24 L121.92 181.88 L122.16 181.49 L122.4 181.09 L122.64 180.67 L122.88 180.24 L123.12 179.79 L123.36 179.32 L123.6 178.83 L123.84 178.32 L124.08 177.8 L124.33 177.25 L124.57 176.69 L124.81 176.11 L125.06 175.51 L125.31 174.89 L125.55 174.24 L125.8 173.58 L126.05 172.9 L126.3 172.2 L126.55 171.48 L126.8 170.74 L127.05 169.97 L127.17 169.59 L127.3 169.19 L127.42 168.79 L127.55 168.39 L127.67 167.98 L127.8 167.57 L127.92 167.15 L128.05 166.73 L128.17 166.3 L128.3 165.87 L128.42 165.44 L128.55 164.99 L128.68 164.55 L128.8 164.1 L128.93 163.64 L129.06 163.19 L129.18 162.72 L129.31 162.26 L129.44 161.78 L129.57 161.31 L129.7 160.83 L129.83 160.35 L129.95 159.86 L130.08 159.37 L130.21 158.87 L130.35 158.37 L130.48 157.87 L130.61 157.37 L130.74 156.86 L130.87 156.35 L131.01 155.83 L131.14 155.31 L131.27 154.79 L131.41 154.27 L131.54 153.74 L131.68 153.22 L131.81 152.69 L131.95 152.15 L132.09 151.62 L132.23 151.08 L132.37 150.54 L132.51 150 L132.65 149.46 L132.79 148.92 L132.93 148.37 L133.07 147.83 L133.21 147.28 L133.35 146.73 L133.49 146.18 L133.63 145.64 L133.78 145.09 L133.92 144.54 L134.06 143.99 L134.2 143.44 L134.35 142.89 L134.49 142.35 L134.63 141.8 L134.78 141.25 L134.92 140.71 L135.07 140.17 L135.22 139.62 L135.36 139.08 L135.51 138.55 L135.66 138.01 L135.81 137.48 L135.96 136.94 L136.11 136.42 L136.27 135.89 L136.42 135.37 L136.58 134.85 L136.73 134.33 L136.89 133.82 L137.05 133.31 L137.21 132.8 L137.37 132.3 L137.54 131.8 L137.7 131.31 L137.87 130.83 L138.04 130.34 L138.21 129.87 L138.38 129.39 L138.55 128.93 L138.73 128.47 L138.91 128.01 L139.09 127.56 L139.27 127.12 L139.46 126.68 L139.66 126.25 L139.87 125.83 L140.09 125.41 L140.32 125.01 L140.56 124.6 L140.8 124.21 L141.05 123.82 L141.29 123.45 L141.54 123.08 L141.78 122.71 L142.02 122.36 L142.25 122.01 L142.47 121.68 L142.89 121.03 L143.26 120.42 L143.57 119.84 L143.82 119.31 L144.07 118.81 L144.32 118.35 L144.55 117.94 L144.78 117.56 L145.09 117.08 L145.36 116.7 L145.65 116.34 L146.07 116.16 L146.47 116.41 L146.76 116.81 L146.95 117.23 L147.13 117.74 L147.23 118.14 L147.32 118.58 L147.41 119.05 L147.48 119.57 L147.54 120.12 L147.59 120.72 L147.65 121.35 L147.7 122.01 L147.75 122.71 L147.79 123.45 L147.82 124.21 L147.85 125.01 L147.87 125.41 L147.88 125.83 L147.89 126.25 L147.9 126.68 L147.9 127.12 L147.91 127.56 L147.91 128.01 L147.91 128.47 L147.92 128.93 L147.92 129.39 L147.92 129.87 L147.93 130.34 L147.93 130.83 L147.93 131.31 L147.93 131.8 L147.94 132.3 L147.94 132.8 L147.94 133.31 L147.94 133.82 L147.94 134.33 L147.94 134.85 L147.95 135.37 L147.95 135.89 L147.95 136.42 L147.95 136.94 L147.95 137.48 L147.95 138.01 L147.95 138.55 L147.96 139.08 L147.96 139.62 L147.96 140.17 L147.96 140.71 L147.96 141.25 L147.96 141.8 L147.97 142.35 L147.97 142.89 L147.97 143.44 L147.97 143.99 L147.97 144.54 L147.98 145.09 L147.98 145.64 L147.98 146.18 L147.99 146.73 L147.99 147.28 L147.99 147.83 L148 148.37 L148 148.92 L148.01 149.46 L148.02 150 L148.03 150.54 L148.04 151.08 L148.06 151.62 L148.08 152.15 L148.11 152.69 L148.13 153.22 L148.16 153.74 L148.19 154.27 L148.22 154.79 L148.26 155.31 L148.3 155.83 L148.34 156.35 L148.38 156.86 L148.42 157.37 L148.47 157.87 L148.52 158.37 L148.57 158.87 L148.62 159.37 L148.67 159.86 L148.73 160.35 L148.78 160.83 L148.84 161.31 L148.9 161.78 L148.96 162.26 L149.02 162.72 L149.08 163.19 L149.14 163.64 L149.21 164.1 L149.27 164.55 L149.34 164.99 L149.4 165.44 L149.47 165.87 L149.53 166.3 L149.6 166.73 L149.67 167.15 L149.74 167.57 L149.81 167.98 L149.87 168.39 L149.94 168.79 L150.01 169.19 L150.15 169.97 L150.28 170.74 L150.42 171.48 L150.55 172.2 L150.67 172.9 L150.8 173.58 L150.92 174.24 L151.05 174.89 L151.18 175.51 L151.32 176.11 L151.46 176.69 L151.6 177.25 L151.74 177.8 L151.89 178.32 L152.03 178.83 L152.19 179.32 L152.34 179.79 L152.49 180.24 L152.65 180.67 L152.8 181.09 L152.96 181.49 L153.12 181.88 L153.28 182.24 L153.52 182.77 L153.75 183.26 L153.99 183.71 L154.23 184.14 L154.46 184.54 L154.69 184.91 L154.92 185.25 L155.22 185.67 L155.52 186.05 L155.82 186.39 L156.12 186.69 L156.41 186.96 L156.79 187.26 L157.16 187.51 L157.54 187.73 L157.91 187.92 L158.29 188.08 L158.74 188.24 L159.19 188.37 L159.63 188.47 L160.08 188.56 L160.53 188.63 L160.98 188.68 L161.43 188.72 L161.88 188.76 L162.33 188.78 L162.56 188.79 L162.8 188.86" fill="none" stroke="#0000ff" stroke-width="1.3" stroke-linejoin="round" stroke-linecap="butt" clip-path="url(#cl1)"/>
<path d="M38.7 188.86 L102.32 188.79 L102.78 188.78 L103.23 188.76 L103.68 188.74 L104.14 188.72 L104.59 188.69 L105.04 188.65 L105.49 188.62 L105.95 188.57 L106.4 188.52 L106.85 188.46 L107.31 188.39 L107.76 188.31 L108.21 188.22 L108.67 188.11 L109.12 187.99 L109.57 187.85 L110.02 187.69 L110.48 187.51 L110.93 187.31 L111.38 187.08 L111.84 186.83 L112.18 186.62 L112.52 186.39 L112.86 186.14 L113.19 185.86 L113.53 185.57 L113.87 185.25 L114.21 184.91 L114.55 184.54 L114.89 184.14 L115.23 183.71 L115.57 183.26 L115.91 182.77 L116.13 182.42 L116.36 182.06 L116.58 181.68 L116.81 181.29 L117.03 180.88 L117.26 180.46 L117.49 180.01 L117.71 179.55 L117.94 179.07 L118.17 178.58 L118.39 178.06 L118.62 177.53 L118.85 176.98 L119.07 176.4 L119.3 175.81 L119.53 175.2 L119.76 174.57 L119.99 173.92 L120.22 173.24 L120.44 172.55 L120.67 171.84 L120.89 171.11 L121.11 170.36 L121.33 169.59 L121.44 169.19 L121.55 168.79 L121.65 168.39 L121.76 167.98 L121.87 167.57 L121.98 167.15 L122.09 166.73 L122.19 166.3 L122.3 165.87 L122.41 165.44 L122.52 164.99 L122.63 164.55 L122.74 164.1 L122.85 163.64 L122.96 163.19 L123.07 162.72 L123.18 162.26 L123.29 161.78 L123.4 161.31 L123.51 160.83 L123.63 160.35 L123.74 159.86 L123.86 159.37 L123.97 158.87 L124.09 158.37 L124.2 157.87 L124.32 157.37 L124.44 156.86 L124.56 156.35 L124.68 155.83 L124.81 155.31 L124.93 154.79 L125.06 154.27 L125.18 153.74 L125.31 153.22 L125.44 152.69 L125.57 152.15 L125.7 151.62 L125.84 151.08 L125.97 150.54 L126.11 150 L126.25 149.46 L126.39 148.92 L126.53 148.37 L126.67 147.83 L126.82 147.28 L126.97 146.73 L127.12 146.18 L127.28 145.64 L127.44 145.09 L127.59 144.54 L127.76 143.99 L127.92 143.44 L128.09 142.89 L128.25 142.35 L128.42 141.8 L128.59 141.25 L128.76 140.71 L128.94 140.17 L129.11 139.62 L129.29 139.08 L129.47 138.55 L129.65 138.01 L129.83 137.48 L130.01 136.94 L130.19 136.42 L130.38 135.89 L130.56 135.37 L130.75 134.85 L130.93 134.33 L131.12 133.82 L131.31 133.31 L131.5 132.8 L131.69 132.3 L131.88 131.8 L132.06 131.31 L132.25 130.83 L132.44 130.34 L132.63 129.87 L132.82 129.39 L133.01 128.93 L133.2 128.47 L133.39 128.01 L133.58 127.56 L133.77 127.12 L133.96 126.68 L134.16 126.25 L134.37 125.83 L134.58 125.41 L134.79 125.01 L135.01 124.6 L135.24 124.21 L135.46 123.82 L135.68 123.45 L135.9 123.08 L136.12 122.71 L136.34 122.36 L136.55 122.01 L136.94 121.35 L137.31 120.72 L137.63 120.12 L137.9 119.57 L138.15 119.05 L138.4 118.58 L138.64 118.14 L138.87 117.74 L139.09 117.39 L139.39 116.94 L139.66 116.59 L139.96 116.28 L140.37 116.16 L140.79 116.41 L141.08 116.81 L141.28 117.23 L141.46 117.74 L141.56 118.14 L141.65 118.58 L141.72 119.05 L141.78 119.57 L141.83 120.12 L141.87 120.72 L141.91 121.35 L141.94 122.01 L141.97 122.71 L142 123.45 L142.03 124.21 L142.05 125.01 L142.06 125.41 L142.07 125.83 L142.08 126.25 L142.09 126.68 L142.1 127.12 L142.11 127.56 L142.12 128.01 L142.13 128.47 L142.14 128.93 L142.15 129.39 L142.15 129.87 L142.16 130.34 L142.17 130.83 L142.17 131.31 L142.18 131.8 L142.19 132.3 L142.19 132.8 L142.2 133.31 L142.21 133.82 L142.21 134.33 L142.22 134.85 L142.22 135.37 L142.23 135.89 L142.23 136.42 L142.24 136.94 L142.24 137.48 L142.25 138.01 L142.25 138.55 L142.26 139.08 L142.26 139.62 L142.27 140.17 L142.28 140.71 L142.28 141.25 L142.29 141.8 L142.29 142.35 L142.3 142.89 L142.31 143.44 L142.32 143.99 L142.32 144.54 L142.33 145.09 L142.34 145.64 L142.35 146.18 L142.36 146.73 L142.37 147.28 L142.38 147.83 L142.39 148.37 L142.4 148.92 L142.41 149.46 L142.43 150 L142.44 150.54 L142.46 151.08 L142.48 151.62 L142.49 152.15 L142.51 152.69 L142.53 153.22 L142.56 153.74 L142.58 154.27 L142.6 154.79 L142.63 155.31 L142.65 155.83 L142.68 156.35 L142.71 156.86 L142.74 157.37 L142.77 157.87 L142.8 158.37 L142.83 158.87 L142.87 159.37 L142.9 159.86 L142.93 160.35 L142.97 160.83 L143.01 161.31 L143.04 161.78 L143.08 162.26 L143.12 162.72 L143.16 163.19 L143.2 163.64 L143.24 164.1 L143.28 164.55 L143.33 164.99 L143.37 165.44 L143.41 165.87 L143.46 166.3 L143.5 166.73 L143.55 167.15 L143.59 167.57 L143.64 167.98 L143.69 168.39 L143.74 168.79 L143.79 169.19 L143.88 169.97 L143.98 170.74 L144.09 171.48 L144.19 172.2 L144.29 172.9 L144.4 173.58 L144.51 174.24 L144.63 174.89 L144.77 175.51 L144.91 176.11 L145.07 176.69 L145.23 177.25 L145.4 177.8 L145.58 178.32 L145.77 178.83 L145.96 179.32 L146.16 179.79 L146.36 180.24 L146.57 180.67 L146.78 181.09 L146.99 181.49 L147.21 181.88 L147.42 182.24 L147.64 182.6 L147.86 182.93 L148.18 183.41 L148.51 183.86 L148.82 184.28 L149.13 184.67 L149.43 185.03 L149.72 185.36 L150 185.67 L150.29 185.96 L150.67 186.31 L151.05 186.62 L151.43 186.9 L151.81 187.14 L152.19 187.36 L152.57 187.56 L152.95 187.73 L153.33 187.89 L153.71 188.02 L154.18 188.16 L154.66 188.29 L155.13 188.39 L155.61 188.47 L156.08 188.55 L156.56 188.61 L157.03 188.65 L157.5 188.69 L157.98 188.73 L158.45 188.76 L158.93 188.78 L159.31 188.79 L162.8 188.86" fill="none" stroke="#ff0000" stroke-width="1.3" stroke-linejoin="round" stroke-linecap="butt" clip-path="url(#cl1)"/>
<path d="M38.7 188.86 L99.38 188.79 L99.86 188.78 L100.34 188.76 L100.82 188.74 L101.31 188.72 L101.79 188.69 L102.27 188.65 L102.75 188.62 L103.23 188.57 L103.72 188.52 L104.2 188.46 L104.68 188.39 L105.16 188.31 L105.65 188.22 L106.13 188.11 L106.61 187.99 L107.09 187.85 L107.57 187.69 L108.06 187.51 L108.54 187.31 L109.02 187.08 L109.38 186.9 L109.74 186.69 L110.11 186.47 L110.47 186.22 L110.83 185.96 L111.19 185.67 L111.55 185.36 L111.91 185.03 L112.28 184.67 L112.64 184.28 L113 183.86 L113.36 183.41 L113.72 182.93 L113.97 182.6 L114.21 182.24 L114.45 181.88 L114.69 181.49 L114.93 181.09 L115.17 180.67 L115.42 180.24 L115.66 179.79 L115.9 179.32 L116.14 178.83 L116.38 178.32 L116.62 177.8 L116.86 177.25 L117.1 176.69 L117.34 176.11 L117.58 175.51 L117.82 174.89 L118.06 174.24 L118.3 173.58 L118.54 172.9 L118.78 172.2 L119.01 171.48 L119.24 170.74 L119.46 169.97 L119.58 169.59 L119.69 169.19 L119.8 168.79 L119.91 168.39 L120.02 167.98 L120.14 167.57 L120.25 167.15 L120.36 166.73 L120.47 166.3 L120.58 165.87 L120.69 165.44 L120.8 164.99 L120.92 164.55 L121.03 164.1 L121.14 163.64 L121.25 163.19 L121.37 162.72 L121.48 162.26 L121.59 161.78 L121.71 161.31 L121.82 160.83 L121.94 160.35 L122.05 159.86 L122.17 159.37 L122.29 158.87 L122.41 158.37 L122.53 157.87 L122.65 157.37 L122.77 156.86 L122.89 156.35 L123.01 155.83 L123.14 155.31 L123.26 154.79 L123.39 154.27 L123.52 153.74 L123.65 153.22 L123.78 152.69 L123.91 152.15 L124.04 151.62 L124.18 151.08 L124.32 150.54 L124.45 150 L124.59 149.46 L124.74 148.92 L124.88 148.37 L125.03 147.83 L125.17 147.28 L125.32 146.73 L125.48 146.18 L125.63 145.64 L125.79 145.09 L125.94 144.54 L126.1 143.99 L126.26 143.44 L126.43 142.89 L126.59 142.35 L126.76 141.8 L126.93 141.25 L127.1 140.71 L127.27 140.17 L127.44 139.62 L127.61 139.08 L127.79 138.55 L127.96 138.01 L128.14 137.48 L128.32 136.94 L128.5 136.42 L128.68 135.89 L128.86 135.37 L129.04 134.85 L129.23 134.33 L129.41 133.82 L129.6 133.31 L129.79 132.8 L129.97 132.3 L130.16 131.8 L130.35 131.31 L130.54 130.83 L130.73 130.34 L130.92 129.87 L131.11 129.39 L131.3 128.93 L131.49 128.47 L131.68 128.01 L131.88 127.56 L132.07 127.12 L132.26 126.68 L132.47 126.25 L132.68 125.83 L132.91 125.41 L133.13 125.01 L133.36 124.6 L133.6 124.21 L133.83 123.82 L134.07 123.45 L134.31 123.08 L134.54 122.71 L134.76 122.36 L134.99 122.01 L135.41 121.35 L135.79 120.72 L136.12 120.12 L136.4 119.57 L136.66 119.05 L136.91 118.58 L137.15 118.14 L137.39 117.74 L137.61 117.39 L137.92 116.94 L138.19 116.59 L138.47 116.28 L138.87 116.16 L139.28 116.41 L139.57 116.81 L139.77 117.23 L139.94 117.74 L140.04 118.14 L140.14 118.58 L140.21 119.05 L140.28 119.57 L140.33 120.12 L140.38 120.72 L140.43 121.35 L140.47 122.01 L140.51 122.71 L140.55 123.45 L140.58 124.21 L140.6 125.01 L140.62 125.41 L140.63 125.83 L140.64 126.25 L140.64 126.68 L140.65 127.12 L140.66 127.56 L140.66 128.01 L140.67 128.47 L140.67 128.93 L140.68 129.39 L140.68 129.87 L140.69 130.34 L140.69 130.83 L140.69 131.31 L140.7 131.8 L140.7 132.3 L140.7 132.8 L140.71 133.31 L140.71 133.82 L140.71 134.33 L140.71 134.85 L140.72 135.37 L140.72 135.89 L140.72 136.42 L140.72 136.94 L140.73 137.48 L140.73 138.01 L140.73 138.55 L140.73 139.08 L140.73 139.62 L140.74 140.17 L140.74 140.71 L140.74 141.25 L140.74 141.8 L140.75 142.35 L140.75 142.89 L140.75 143.44 L140.76 143.99 L140.76 144.54 L140.76 145.09 L140.77 145.64 L140.77 146.18 L140.78 146.73 L140.78 147.28 L140.79 147.83 L140.79 148.37 L140.8 148.92 L140.81 149.46 L140.82 150 L140.83 150.54 L140.84 151.08 L140.86 151.62 L140.88 152.15 L140.89 152.69 L140.92 153.22 L140.94 153.74 L140.96 154.27 L140.99 154.79 L141.02 155.31 L141.04 155.83 L141.07 156.35 L141.11 156.86 L141.14 157.37 L141.17 157.87 L141.21 158.37 L141.25 158.87 L141.29 159.37 L141.33 159.86 L141.37 160.35 L141.41 160.83 L141.45 161.31 L141.49 161.78 L141.54 162.26 L141.59 162.72 L141.63 163.19 L141.68 163.64 L141.73 164.1 L141.78 164.55 L141.83 164.99 L141.88 165.44 L141.93 165.87 L141.98 166.3 L142.03 166.73 L142.08 167.15 L142.14 167.57 L142.19 167.98 L142.24 168.39 L142.3 168.79 L142.35 169.19 L142.46 169.97 L142.57 170.74 L142.68 171.48 L142.78 172.2 L142.89 172.9 L143 173.58 L143.11 174.24 L143.22 174.89 L143.35 175.51 L143.47 176.11 L143.61 176.69 L143.75 177.25 L143.89 177.8 L144.04 178.32 L144.19 178.83 L144.34 179.32 L144.5 179.79 L144.66 180.24 L144.82 180.67 L144.99 181.09 L145.15 181.49 L145.32 181.88 L145.49 182.24 L145.74 182.77 L146 183.26 L146.25 183.71 L146.5 184.14 L146.74 184.54 L146.98 184.91 L147.22 185.25 L147.52 185.67 L147.83 186.05 L148.14 186.39 L148.44 186.69 L148.75 186.96 L149.14 187.26 L149.52 187.51 L149.9 187.73 L150.29 187.92 L150.67 188.08 L151.05 188.22 L151.44 188.33 L151.9 188.44 L152.36 188.53 L152.82 188.61 L153.28 188.66 L153.74 188.71 L154.2 188.74 L154.66 188.77 L155.04 188.79 L162.8 188.86" fill="none" stroke="#000" stroke-width="1.3" stroke-linejoin="round" stroke-linecap="butt" clip-path="url(#cl1)"/>
<rect x="32.5" y="112.5" width="136.5" height="80.0" fill="none" stroke="#666" stroke-width="0.9"/>
<line x1="38.7" y1="192.5" x2="38.7" y2="195.1" stroke="#666" stroke-width="0.9"/>
<text x="38.7" y="203.3" text-anchor="middle" class="t">−2</text>
<line x1="69.73" y1="192.5" x2="69.73" y2="195.1" stroke="#666" stroke-width="0.9"/>
<text x="69.73" y="203.3" text-anchor="middle" class="t">0</text>
<line x1="100.75" y1="192.5" x2="100.75" y2="195.1" stroke="#666" stroke-width="0.9"/>
<text x="100.75" y="203.3" text-anchor="middle" class="t">2</text>
<line x1="131.77" y1="192.5" x2="131.77" y2="195.1" stroke="#666" stroke-width="0.9"/>
<text x="131.77" y="203.3" text-anchor="middle" class="t">4</text>
<line x1="162.8" y1="192.5" x2="162.8" y2="195.1" stroke="#666" stroke-width="0.9"/>
<text x="162.8" y="203.3" text-anchor="middle" class="t">6</text>
<line x1="29.9" y1="188.86" x2="32.5" y2="188.86" stroke="#666" stroke-width="0.9"/>
<text x="28.85" y="191.86" text-anchor="end" class="t">0.0</text>
<line x1="29.9" y1="159.77" x2="32.5" y2="159.77" stroke="#666" stroke-width="0.9"/>
<text x="28.85" y="162.77" text-anchor="end" class="t">0.2</text>
<line x1="29.9" y1="130.68" x2="32.5" y2="130.68" stroke="#666" stroke-width="0.9"/>
<text x="28.85" y="133.68" text-anchor="end" class="t">0.4</text>
<text transform="translate(7.8 162.7) rotate(-90)" style="font-size:11.8px"><tspan font-style="italic">B</tspan><tspan font-style="italic" font-size="10" dx="-0.5" dy="1.0">φ</tspan></text>
<text y="215.7" style="font-size:12.2px"><tspan x="91.2" font-style="italic">ξ</tspan><tspan x="103.2" font-style="italic">L</tspan></text>
<line x1="102.4" y1="208.7" x2="99.0" y2="218.6" stroke="#000" stroke-width="0.95"/>
<rect x="34.3" y="114.3" width="37.9" height="23.2" rx="1.5" fill="#fff" stroke="#d6d6d6" stroke-width="0.8"/>
<line x1="36.3" y1="118.4" x2="46.8" y2="118.4" stroke="#0000ff" stroke-width="1.3"/>
<text x="50" y="120.18" font-size="5.4" class="lg" style="stroke-width:0.06px"><tspan font-style="italic">a</tspan><tspan font-size="3.89" dy="1.08">0</tspan><tspan dy="-1.08"> = 0.2</tspan></text>
<line x1="36.3" y1="125.7" x2="46.8" y2="125.7" stroke="#ff0000" stroke-width="1.3"/>
<text x="50" y="127.48" font-size="5.4" class="lg" style="stroke-width:0.06px"><tspan font-style="italic">a</tspan><tspan font-size="3.89" dy="1.08">0</tspan><tspan dy="-1.08"> = 0.4</tspan></text>
<line x1="36.3" y1="133" x2="46.8" y2="133" stroke="#000" stroke-width="1.3"/>
<text x="50" y="134.78" font-size="5.4" class="lg" style="stroke-width:0.06px"><tspan font-style="italic">a</tspan><tspan font-size="3.89" dy="1.08">0</tspan><tspan dy="-1.08"> = 0.6</tspan></text>
<clipPath id="cl2"><rect x="32.5" y="221.9" width="136.5" height="80.3"/></clipPath>
<path d="M38.7 298.55 L44.24 298.43 L44.64 298.35 L45.04 298.29 L45.44 298.24 L45.84 298.17 L46.24 298.09 L46.64 297.99 L47.04 297.87 L47.44 297.73 L47.84 297.56 L48.24 297.36 L48.64 297.13 L49.04 296.85 L49.44 296.53 L49.84 296.17 L50.24 295.74 L50.64 295.25 L51.04 294.69 L51.44 294.06 L51.84 293.35 L52.24 292.54 L52.64 291.64 L53.04 290.63 L53.44 289.51 L53.84 288.28 L54.24 286.92 L54.64 285.45 L55.04 283.84 L55.44 282.1 L55.84 280.23 L56.24 278.23 L56.64 276.1 L57.04 273.85 L57.44 271.48 L57.84 269.01 L58.24 266.44 L58.64 263.78 L59.04 261.06 L59.44 258.29 L59.84 255.49 L60.24 252.68 L60.64 249.88 L61.04 247.12 L61.44 244.43 L61.84 241.82 L62.24 239.32 L62.64 236.97 L63.04 234.78 L63.44 232.78 L63.84 230.99 L64.24 229.43 L64.64 228.12 L65.04 227.08 L65.44 226.31 L65.84 225.83 L66.24 225.65 L66.64 225.75 L67.04 226.14 L67.44 226.83 L67.84 227.79 L68.24 229.03 L68.64 230.51 L69.04 232.24 L69.44 234.18 L69.84 236.32 L70.24 238.63 L70.64 241.08 L71.04 243.66 L71.44 246.33 L71.84 249.08 L72.24 251.87 L72.64 254.67 L73.04 257.48 L73.44 260.26 L73.84 263 L74.24 265.67 L74.64 268.27 L75.04 270.77 L75.44 273.17 L75.84 275.46 L76.24 277.62 L76.64 279.66 L77.04 281.57 L77.44 283.35 L77.84 284.99 L78.24 286.51 L78.64 287.9 L79.04 289.17 L79.44 290.32 L79.84 291.36 L80.24 292.29 L80.64 293.12 L81.04 293.86 L81.44 294.52 L81.84 295.1 L82.24 295.61 L82.64 296.05 L83.04 296.43 L83.44 296.77 L83.84 297.05 L84.24 297.3 L84.64 297.51 L85.04 297.68 L85.44 297.83 L85.84 297.96 L86.24 298.06 L86.64 298.15 L87.04 298.22 L87.44 298.28 L87.84 298.33 L88.24 298.4 L162.8 298.55" fill="none" stroke="#0000ff" stroke-width="1.3" stroke-linejoin="round" stroke-linecap="butt" clip-path="url(#cl2)"/>
<path d="M38.7 298.55 L87.92 298.48 L88.41 298.46 L88.9 298.44 L89.4 298.41 L89.89 298.37 L90.38 298.33 L90.88 298.28 L91.37 298.22 L91.86 298.14 L92.26 298.07 L92.65 297.99 L93.05 297.9 L93.44 297.79 L93.84 297.67 L94.23 297.53 L94.62 297.37 L95.02 297.2 L95.41 296.99 L95.81 296.76 L96.2 296.51 L96.6 296.22 L96.99 295.9 L97.39 295.54 L97.68 295.24 L97.98 294.93 L98.27 294.58 L98.57 294.21 L98.86 293.81 L99.15 293.38 L99.43 292.92 L99.72 292.43 L100.01 291.9 L100.2 291.54 L100.39 291.15 L100.59 290.75 L100.78 290.33 L100.97 289.89 L101.17 289.44 L101.36 288.97 L101.56 288.48 L101.76 287.97 L101.96 287.44 L102.16 286.9 L102.36 286.33 L102.57 285.75 L102.77 285.14 L102.98 284.52 L103.19 283.88 L103.4 283.21 L103.62 282.53 L103.84 281.82 L104.06 281.1 L104.28 280.35 L104.51 279.59 L104.63 279.2 L104.74 278.8 L104.86 278.41 L104.97 278 L105.09 277.59 L105.21 277.18 L105.32 276.76 L105.44 276.33 L105.56 275.91 L105.68 275.47 L105.8 275.03 L105.92 274.59 L106.04 274.14 L106.16 273.69 L106.28 273.24 L106.4 272.78 L106.52 272.31 L106.64 271.84 L106.76 271.37 L106.88 270.89 L107 270.41 L107.12 269.92 L107.24 269.44 L107.36 268.94 L107.48 268.45 L107.6 267.95 L107.72 267.44 L107.83 266.93 L107.95 266.42 L108.07 265.91 L108.19 265.39 L108.31 264.87 L108.43 264.35 L108.54 263.83 L108.66 263.3 L108.78 262.77 L108.89 262.24 L109.01 261.7 L109.12 261.16 L109.24 260.63 L109.35 260.08 L109.47 259.54 L109.58 259 L109.69 258.45 L109.8 257.91 L109.91 257.36 L110.02 256.81 L110.13 256.26 L110.24 255.71 L110.35 255.16 L110.45 254.61 L110.56 254.06 L110.67 253.51 L110.77 252.96 L110.88 252.41 L110.98 251.86 L111.09 251.31 L111.19 250.76 L111.3 250.21 L111.4 249.67 L111.51 249.13 L111.61 248.58 L111.72 248.04 L111.82 247.51 L111.92 246.97 L112.03 246.44 L112.13 245.9 L112.24 245.38 L112.34 244.85 L112.45 244.33 L112.55 243.81 L112.66 243.3 L112.76 242.79 L112.87 242.28 L112.97 241.78 L113.08 241.28 L113.19 240.78 L113.3 240.29 L113.4 239.81 L113.51 239.33 L113.62 238.86 L113.73 238.39 L113.84 237.93 L113.96 237.47 L114.07 237.02 L114.18 236.57 L114.3 236.14 L114.42 235.7 L114.54 235.28 L114.66 234.86 L114.79 234.45 L114.92 234.05 L115.05 233.65 L115.18 233.27 L115.31 232.89 L115.57 232.15 L115.82 231.45 L116.06 230.78 L116.29 230.15 L116.49 229.55 L116.66 229 L116.83 228.48 L117 228 L117.16 227.56 L117.31 227.16 L117.53 226.65 L117.74 226.23 L117.98 225.83 L118.3 225.55 L118.75 225.69 L119.09 226.01 L119.34 226.36 L119.57 226.81 L119.79 227.36 L119.93 227.77 L120.06 228.23 L120.19 228.73 L120.32 229.27 L120.43 229.85 L120.54 230.46 L120.65 231.11 L120.75 231.8 L120.85 232.51 L120.95 233.27 L121.04 234.05 L121.09 234.45 L121.13 234.86 L121.18 235.28 L121.22 235.7 L121.26 236.14 L121.31 236.57 L121.35 237.02 L121.39 237.47 L121.43 237.93 L121.48 238.39 L121.52 238.86 L121.55 239.33 L121.59 239.81 L121.63 240.29 L121.67 240.78 L121.71 241.28 L121.74 241.78 L121.78 242.28 L121.82 242.79 L121.85 243.3 L121.89 243.81 L121.92 244.33 L121.96 244.85 L121.99 245.38 L122.03 245.9 L122.06 246.44 L122.1 246.97 L122.13 247.51 L122.17 248.04 L122.2 248.58 L122.24 249.13 L122.27 249.67 L122.31 250.21 L122.34 250.76 L122.38 251.31 L122.42 251.86 L122.45 252.41 L122.49 252.96 L122.53 253.51 L122.57 254.06 L122.61 254.61 L122.65 255.16 L122.69 255.71 L122.73 256.26 L122.77 256.81 L122.82 257.36 L122.86 257.91 L122.9 258.45 L122.95 259 L123 259.54 L123.04 260.08 L123.09 260.63 L123.14 261.16 L123.19 261.7 L123.24 262.24 L123.29 262.77 L123.34 263.3 L123.39 263.83 L123.45 264.35 L123.5 264.87 L123.55 265.39 L123.61 265.91 L123.66 266.42 L123.72 266.93 L123.77 267.44 L123.83 267.95 L123.88 268.45 L123.94 268.94 L124 269.44 L124.06 269.92 L124.11 270.41 L124.17 270.89 L124.23 271.37 L124.29 271.84 L124.35 272.31 L124.41 272.78 L124.47 273.24 L124.53 273.69 L124.59 274.14 L124.65 274.59 L124.71 275.03 L124.77 275.47 L124.83 275.91 L124.89 276.33 L124.96 276.76 L125.02 277.18 L125.08 277.59 L125.14 278 L125.2 278.41 L125.26 278.8 L125.39 279.59 L125.51 280.35 L125.63 281.1 L125.76 281.82 L125.88 282.53 L126 283.21 L126.12 283.88 L126.24 284.52 L126.37 285.14 L126.49 285.75 L126.61 286.33 L126.74 286.9 L126.87 287.44 L126.99 287.97 L127.12 288.48 L127.25 288.97 L127.38 289.44 L127.51 289.89 L127.64 290.33 L127.76 290.75 L127.89 291.15 L128.02 291.54 L128.22 292.08 L128.42 292.6 L128.61 293.08 L128.81 293.53 L129 293.95 L129.19 294.34 L129.39 294.7 L129.64 295.14 L129.9 295.54 L130.15 295.9 L130.41 296.22 L130.73 296.57 L131.05 296.88 L131.37 297.15 L131.75 297.42 L132.14 297.64 L132.52 297.82 L132.9 297.97 L133.29 298.09 L133.73 298.2 L134.18 298.29 L134.63 298.36 L135.08 298.41 L135.52 298.45 L135.97 298.47 L136.04 298.48 L162.8 298.55" fill="none" stroke="#0000ff" stroke-width="1.3" stroke-linejoin="round" stroke-linecap="butt" clip-path="url(#cl2)"/>
<path d="M38.7 298.55 L97.92 298.48 L98.41 298.46 L98.9 298.44 L99.4 298.41 L99.89 298.37 L100.38 298.33 L100.88 298.28 L101.37 298.22 L101.86 298.14 L102.26 298.07 L102.65 297.99 L103.05 297.9 L103.44 297.79 L103.84 297.67 L104.23 297.53 L104.62 297.37 L105.02 297.2 L105.41 296.99 L105.81 296.76 L106.2 296.51 L106.6 296.22 L106.99 295.9 L107.39 295.54 L107.68 295.24 L107.98 294.93 L108.27 294.58 L108.57 294.21 L108.87 293.81 L109.17 293.38 L109.47 292.92 L109.77 292.43 L110.06 291.9 L110.26 291.54 L110.46 291.15 L110.66 290.75 L110.86 290.33 L111.06 289.89 L111.26 289.44 L111.46 288.97 L111.65 288.48 L111.85 287.97 L112.05 287.44 L112.24 286.9 L112.44 286.33 L112.63 285.75 L112.83 285.14 L113.02 284.52 L113.21 283.88 L113.4 283.21 L113.59 282.53 L113.78 281.82 L113.96 281.1 L114.14 280.35 L114.32 279.59 L114.5 278.8 L114.58 278.41 L114.67 278 L114.76 277.59 L114.85 277.18 L114.93 276.76 L115.02 276.33 L115.11 275.91 L115.19 275.47 L115.28 275.03 L115.37 274.59 L115.45 274.14 L115.54 273.69 L115.62 273.24 L115.71 272.78 L115.8 272.31 L115.89 271.84 L115.97 271.37 L116.06 270.89 L116.15 270.41 L116.24 269.92 L116.33 269.44 L116.42 268.94 L116.51 268.45 L116.6 267.95 L116.69 267.44 L116.78 266.93 L116.88 266.42 L116.97 265.91 L117.07 265.39 L117.16 264.87 L117.26 264.35 L117.35 263.83 L117.45 263.3 L117.55 262.77 L117.65 262.24 L117.75 261.7 L117.86 261.16 L117.96 260.63 L118.07 260.08 L118.17 259.54 L118.28 259 L118.39 258.45 L118.5 257.91 L118.61 257.36 L118.73 256.81 L118.84 256.26 L118.96 255.71 L119.07 255.16 L119.19 254.61 L119.31 254.06 L119.44 253.51 L119.56 252.96 L119.68 252.41 L119.81 251.86 L119.94 251.31 L120.06 250.76 L120.19 250.21 L120.32 249.67 L120.45 249.13 L120.59 248.58 L120.72 248.04 L120.85 247.51 L120.99 246.97 L121.12 246.44 L121.26 245.9 L121.4 245.38 L121.54 244.85 L121.68 244.33 L121.82 243.81 L121.96 243.3 L122.1 242.79 L122.24 242.28 L122.38 241.78 L122.52 241.28 L122.67 240.78 L122.81 240.29 L122.96 239.81 L123.1 239.33 L123.25 238.86 L123.39 238.39 L123.54 237.93 L123.68 237.47 L123.83 237.02 L123.98 236.57 L124.12 236.14 L124.28 235.7 L124.45 235.28 L124.62 234.86 L124.79 234.45 L124.97 234.05 L125.15 233.65 L125.33 233.27 L125.51 232.89 L125.69 232.51 L125.87 232.15 L126.21 231.45 L126.53 230.78 L126.82 230.15 L127.07 229.55 L127.27 229 L127.46 228.48 L127.64 228 L127.82 227.56 L127.99 227.16 L128.23 226.65 L128.44 226.23 L128.67 225.83 L129 225.56 L129.41 225.69 L129.78 226.01 L130.04 226.36 L130.29 226.81 L130.52 227.36 L130.65 227.77 L130.78 228.23 L130.9 228.73 L131.01 229.27 L131.11 229.85 L131.21 230.46 L131.3 231.11 L131.38 231.8 L131.46 232.51 L131.53 233.27 L131.6 234.05 L131.64 234.45 L131.67 234.86 L131.7 235.28 L131.74 235.7 L131.77 236.14 L131.81 236.57 L131.84 237.02 L131.87 237.47 L131.9 237.93 L131.94 238.39 L131.97 238.86 L132 239.33 L132.03 239.81 L132.06 240.29 L132.09 240.78 L132.11 241.28 L132.14 241.78 L132.17 242.28 L132.2 242.79 L132.22 243.3 L132.25 243.81 L132.28 244.33 L132.3 244.85 L132.33 245.38 L132.36 245.9 L132.38 246.44 L132.41 246.97 L132.44 247.51 L132.46 248.04 L132.49 248.58 L132.51 249.13 L132.54 249.67 L132.57 250.21 L132.59 250.76 L132.62 251.31 L132.65 251.86 L132.68 252.41 L132.7 252.96 L132.73 253.51 L132.76 254.06 L132.79 254.61 L132.82 255.16 L132.85 255.71 L132.88 256.26 L132.91 256.81 L132.94 257.36 L132.97 257.91 L133 258.45 L133.04 259 L133.07 259.54 L133.1 260.08 L133.13 260.63 L133.17 261.16 L133.2 261.7 L133.23 262.24 L133.27 262.77 L133.3 263.3 L133.33 263.83 L133.37 264.35 L133.4 264.87 L133.44 265.39 L133.47 265.91 L133.5 266.42 L133.54 266.93 L133.57 267.44 L133.61 267.95 L133.64 268.45 L133.68 268.94 L133.72 269.44 L133.75 269.92 L133.79 270.41 L133.82 270.89 L133.86 271.37 L133.9 271.84 L133.94 272.31 L133.97 272.78 L134.01 273.24 L134.05 273.69 L134.09 274.14 L134.13 274.59 L134.17 275.03 L134.21 275.47 L134.25 275.91 L134.29 276.33 L134.33 276.76 L134.37 277.18 L134.41 277.59 L134.45 278 L134.5 278.41 L134.54 278.8 L134.63 279.59 L134.72 280.35 L134.81 281.1 L134.9 281.82 L135 282.53 L135.1 283.21 L135.2 283.88 L135.31 284.52 L135.42 285.14 L135.54 285.75 L135.66 286.33 L135.79 286.9 L135.92 287.44 L136.05 287.97 L136.19 288.48 L136.33 288.97 L136.47 289.44 L136.62 289.89 L136.76 290.33 L136.91 290.75 L137.06 291.15 L137.21 291.54 L137.44 292.08 L137.67 292.6 L137.89 293.08 L138.12 293.53 L138.34 293.95 L138.56 294.34 L138.78 294.7 L139.05 295.14 L139.33 295.54 L139.61 295.9 L139.89 296.22 L140.23 296.57 L140.58 296.88 L140.93 297.15 L141.28 297.37 L141.69 297.6 L142.11 297.79 L142.52 297.95 L142.94 298.07 L143.36 298.17 L143.77 298.26 L144.19 298.32 L144.61 298.37 L145.02 298.41 L145.44 298.45 L145.86 298.47 L146 298.48 L162.8 298.55" fill="none" stroke="#0000ff" stroke-width="1.3" stroke-linejoin="round" stroke-linecap="butt" clip-path="url(#cl2)"/>
<path d="M38.7 298.55 L120.5 298.48 L120.92 298.45 L121.34 298.43 L121.75 298.39 L122.17 298.34 L122.59 298.28 L123 298.2 L123.42 298.11 L123.84 297.99 L124.25 297.85 L124.67 297.67 L125.09 297.46 L125.43 297.24 L125.78 296.99 L126.13 296.7 L126.47 296.37 L126.75 296.06 L127.03 295.72 L127.31 295.35 L127.58 294.93 L127.79 294.58 L127.99 294.21 L128.19 293.81 L128.38 293.38 L128.57 292.92 L128.77 292.43 L128.96 291.9 L129.15 291.34 L129.28 290.95 L129.41 290.54 L129.54 290.11 L129.67 289.67 L129.8 289.21 L129.94 288.72 L130.08 288.23 L130.22 287.71 L130.37 287.17 L130.51 286.62 L130.67 286.04 L130.82 285.45 L130.98 284.83 L131.15 284.2 L131.32 283.55 L131.49 282.87 L131.67 282.18 L131.86 281.46 L132.05 280.73 L132.25 279.97 L132.45 279.2 L132.55 278.8 L132.66 278.41 L132.76 278 L132.87 277.59 L132.98 277.18 L133.09 276.76 L133.2 276.33 L133.31 275.91 L133.42 275.47 L133.54 275.03 L133.65 274.59 L133.77 274.14 L133.88 273.69 L134 273.24 L134.12 272.78 L134.24 272.31 L134.36 271.84 L134.48 271.37 L134.6 270.89 L134.72 270.41 L134.85 269.92 L134.97 269.44 L135.09 268.94 L135.22 268.45 L135.35 267.95 L135.47 267.44 L135.6 266.93 L135.73 266.42 L135.85 265.91 L135.98 265.39 L136.11 264.87 L136.24 264.35 L136.37 263.83 L136.5 263.3 L136.63 262.77 L136.76 262.24 L136.89 261.7 L137.03 261.16 L137.16 260.63 L137.29 260.08 L137.42 259.54 L137.55 259 L137.69 258.45 L137.82 257.91 L137.96 257.36 L138.09 256.81 L138.23 256.26 L138.37 255.71 L138.51 255.16 L138.65 254.61 L138.79 254.06 L138.94 253.51 L139.08 252.96 L139.23 252.41 L139.38 251.86 L139.52 251.31 L139.67 250.76 L139.82 250.21 L139.97 249.67 L140.13 249.13 L140.28 248.58 L140.43 248.04 L140.59 247.51 L140.74 246.97 L140.9 246.44 L141.05 245.9 L141.21 245.38 L141.37 244.85 L141.53 244.33 L141.68 243.81 L141.84 243.3 L142 242.79 L142.16 242.28 L142.32 241.78 L142.48 241.28 L142.64 240.78 L142.8 240.29 L142.96 239.81 L143.12 239.33 L143.28 238.86 L143.44 238.39 L143.6 237.93 L143.76 237.47 L143.91 237.02 L144.07 236.57 L144.23 236.14 L144.4 235.7 L144.57 235.28 L144.75 234.86 L144.93 234.45 L145.11 234.05 L145.3 233.65 L145.48 233.27 L145.67 232.89 L145.85 232.51 L146.03 232.15 L146.38 231.45 L146.71 230.78 L147 230.15 L147.26 229.55 L147.48 229 L147.68 228.48 L147.88 228 L148.07 227.56 L148.26 227.16 L148.52 226.65 L148.75 226.23 L149.01 225.83 L149.37 225.56 L149.75 225.83 L149.98 226.23 L150.13 226.65 L150.28 227.16 L150.36 227.56 L150.44 228 L150.51 228.48 L150.58 229 L150.63 229.55 L150.69 230.15 L150.74 230.78 L150.78 231.45 L150.83 232.15 L150.87 232.89 L150.9 233.65 L150.94 234.45 L150.95 234.86 L150.96 235.28 L150.98 235.7 L150.99 236.14 L151 236.57 L151.01 237.02 L151.02 237.47 L151.03 237.93 L151.04 238.39 L151.05 238.86 L151.06 239.33 L151.07 239.81 L151.07 240.29 L151.08 240.78 L151.09 241.28 L151.09 241.78 L151.1 242.28 L151.11 242.79 L151.11 243.3 L151.12 243.81 L151.12 244.33 L151.13 244.85 L151.13 245.38 L151.14 245.9 L151.14 246.44 L151.15 246.97 L151.15 247.51 L151.16 248.04 L151.17 248.58 L151.17 249.13 L151.18 249.67 L151.18 250.21 L151.19 250.76 L151.19 251.31 L151.2 251.86 L151.21 252.41 L151.21 252.96 L151.22 253.51 L151.23 254.06 L151.23 254.61 L151.24 255.16 L151.25 255.71 L151.26 256.26 L151.27 256.81 L151.28 257.36 L151.29 257.91 L151.3 258.45 L151.31 259 L151.33 259.54 L151.34 260.08 L151.35 260.63 L151.37 261.16 L151.39 261.7 L151.41 262.24 L151.42 262.77 L151.44 263.3 L151.46 263.83 L151.49 264.35 L151.51 264.87 L151.53 265.39 L151.55 265.91 L151.58 266.42 L151.6 266.93 L151.63 267.44 L151.66 267.95 L151.68 268.45 L151.71 268.94 L151.74 269.44 L151.77 269.92 L151.8 270.41 L151.83 270.89 L151.87 271.37 L151.9 271.84 L151.93 272.31 L151.96 272.78 L152 273.24 L152.03 273.69 L152.07 274.14 L152.1 274.59 L152.14 275.03 L152.18 275.47 L152.22 275.91 L152.25 276.33 L152.29 276.76 L152.33 277.18 L152.37 277.59 L152.41 278 L152.45 278.41 L152.49 278.8 L152.57 279.59 L152.65 280.35 L152.74 281.1 L152.82 281.82 L152.91 282.53 L153 283.21 L153.09 283.88 L153.19 284.52 L153.3 285.14 L153.41 285.75 L153.53 286.33 L153.66 286.9 L153.79 287.44 L153.93 287.97 L154.08 288.48 L154.22 288.97 L154.38 289.44 L154.53 289.89 L154.69 290.33 L154.85 290.75 L155.01 291.15 L155.17 291.54 L155.34 291.9 L155.59 292.43 L155.84 292.92 L156.08 293.38 L156.32 293.81 L156.56 294.21 L156.79 294.58 L157.02 294.93 L157.31 295.35 L157.6 295.72 L157.89 296.06 L158.19 296.37 L158.55 296.7 L158.92 296.99 L159.28 297.24 L159.65 297.46 L160.01 297.64 L160.45 297.82 L160.89 297.97 L161.33 298.09 L161.77 298.19 L162.2 298.27 L162.64 298.33 L162.8 298.55" fill="none" stroke="#0000ff" stroke-width="1.3" stroke-linejoin="round" stroke-linecap="butt" clip-path="url(#cl2)"/>
<path d="M38.7 298.55 L87.92 298.48 L88.41 298.46 L88.9 298.44 L89.4 298.41 L89.89 298.37 L90.38 298.33 L90.88 298.28 L91.37 298.22 L91.86 298.14 L92.26 298.07 L92.65 297.99 L93.05 297.9 L93.44 297.79 L93.84 297.67 L94.23 297.53 L94.62 297.37 L95.02 297.2 L95.41 296.99 L95.81 296.76 L96.2 296.51 L96.6 296.22 L96.99 295.9 L97.39 295.54 L97.68 295.24 L97.98 294.93 L98.27 294.58 L98.57 294.21 L98.86 293.81 L99.15 293.38 L99.43 292.92 L99.72 292.43 L100.01 291.9 L100.2 291.54 L100.39 291.15 L100.59 290.75 L100.78 290.33 L100.97 289.89 L101.17 289.44 L101.36 288.97 L101.56 288.48 L101.76 287.97 L101.96 287.44 L102.16 286.9 L102.36 286.33 L102.57 285.75 L102.77 285.14 L102.98 284.52 L103.19 283.88 L103.4 283.21 L103.62 282.53 L103.83 281.82 L104.05 281.1 L104.27 280.35 L104.49 279.59 L104.61 279.2 L104.72 278.8 L104.83 278.41 L104.94 278 L105.06 277.59 L105.17 277.18 L105.28 276.76 L105.4 276.33 L105.51 275.91 L105.63 275.47 L105.74 275.03 L105.86 274.59 L105.97 274.14 L106.09 273.69 L106.21 273.24 L106.32 272.78 L106.44 272.31 L106.56 271.84 L106.68 271.37 L106.79 270.89 L106.91 270.41 L107.03 269.92 L107.15 269.44 L107.27 268.94 L107.39 268.45 L107.51 267.95 L107.63 267.44 L107.75 266.93 L107.87 266.42 L107.99 265.91 L108.11 265.39 L108.23 264.87 L108.35 264.35 L108.47 263.83 L108.59 263.3 L108.71 262.77 L108.83 262.24 L108.96 261.7 L109.08 261.16 L109.2 260.63 L109.32 260.08 L109.44 259.54 L109.57 259 L109.69 258.45 L109.81 257.91 L109.93 257.36 L110.06 256.81 L110.18 256.26 L110.31 255.71 L110.43 255.16 L110.56 254.61 L110.68 254.06 L110.81 253.51 L110.94 252.96 L111.06 252.41 L111.19 251.86 L111.32 251.31 L111.45 250.76 L111.57 250.21 L111.7 249.67 L111.83 249.13 L111.96 248.58 L112.09 248.04 L112.22 247.51 L112.35 246.97 L112.48 246.44 L112.61 245.9 L112.74 245.38 L112.87 244.85 L113 244.33 L113.13 243.81 L113.26 243.3 L113.39 242.79 L113.52 242.28 L113.65 241.78 L113.78 241.28 L113.91 240.78 L114.04 240.29 L114.17 239.81 L114.3 239.33 L114.43 238.86 L114.56 238.39 L114.69 237.93 L114.82 237.47 L114.95 237.02 L115.08 236.57 L115.21 236.14 L115.34 235.7 L115.47 235.28 L115.61 234.86 L115.75 234.45 L115.88 234.05 L116.02 233.65 L116.16 233.27 L116.3 232.89 L116.57 232.15 L116.84 231.45 L117.09 230.78 L117.34 230.15 L117.57 229.55 L117.78 229 L117.98 228.48 L118.18 228 L118.38 227.56 L118.57 227.16 L118.84 226.65 L119.1 226.23 L119.34 225.91 L119.64 225.64 L120.08 225.57 L120.49 225.83 L120.79 226.23 L121 226.65 L121.18 227.16 L121.3 227.56 L121.4 228 L121.49 228.48 L121.57 229 L121.64 229.55 L121.71 230.15 L121.76 230.78 L121.82 231.45 L121.86 232.15 L121.91 232.89 L121.95 233.65 L122 234.45 L122.02 234.86 L122.04 235.28 L122.06 235.7 L122.08 236.14 L122.1 236.57 L122.13 237.02 L122.15 237.47 L122.17 237.93 L122.19 238.39 L122.21 238.86 L122.23 239.33 L122.25 239.81 L122.27 240.29 L122.28 240.78 L122.3 241.28 L122.32 241.78 L122.34 242.28 L122.36 242.79 L122.37 243.3 L122.39 243.81 L122.41 244.33 L122.42 244.85 L122.44 245.38 L122.46 245.9 L122.48 246.44 L122.49 246.97 L122.51 247.51 L122.53 248.04 L122.55 248.58 L122.56 249.13 L122.58 249.67 L122.6 250.21 L122.62 250.76 L122.64 251.31 L122.66 251.86 L122.68 252.41 L122.7 252.96 L122.72 253.51 L122.75 254.06 L122.77 254.61 L122.79 255.16 L122.82 255.71 L122.84 256.26 L122.87 256.81 L122.9 257.36 L122.92 257.91 L122.95 258.45 L122.98 259 L123.02 259.54 L123.05 260.08 L123.08 260.63 L123.12 261.16 L123.16 261.7 L123.2 262.24 L123.24 262.77 L123.29 263.3 L123.33 263.83 L123.38 264.35 L123.43 264.87 L123.47 265.39 L123.53 265.91 L123.58 266.42 L123.63 266.93 L123.68 267.44 L123.74 267.95 L123.79 268.45 L123.85 268.94 L123.91 269.44 L123.97 269.92 L124.03 270.41 L124.09 270.89 L124.15 271.37 L124.21 271.84 L124.27 272.31 L124.33 272.78 L124.39 273.24 L124.46 273.69 L124.52 274.14 L124.59 274.59 L124.65 275.03 L124.72 275.47 L124.78 275.91 L124.85 276.33 L124.91 276.76 L124.98 277.18 L125.04 277.59 L125.11 278 L125.17 278.41 L125.24 278.8 L125.31 279.2 L125.44 279.97 L125.56 280.73 L125.69 281.46 L125.82 282.18 L125.94 282.87 L126.06 283.55 L126.18 284.2 L126.3 284.83 L126.42 285.45 L126.55 286.04 L126.67 286.62 L126.8 287.17 L126.93 287.71 L127.05 288.23 L127.18 288.72 L127.31 289.21 L127.44 289.67 L127.57 290.11 L127.7 290.54 L127.83 290.95 L127.96 291.34 L128.15 291.9 L128.35 292.43 L128.54 292.92 L128.74 293.38 L128.93 293.81 L129.13 294.21 L129.32 294.58 L129.58 295.03 L129.83 295.44 L130.09 295.81 L130.35 296.14 L130.67 296.51 L130.98 296.82 L131.3 297.1 L131.69 297.37 L132.07 297.6 L132.46 297.79 L132.84 297.95 L133.22 298.07 L133.67 298.19 L134.12 298.28 L134.56 298.35 L135.01 298.4 L135.46 298.44 L135.91 298.47 L136.04 298.48 L162.8 298.55" fill="none" stroke="#ff0000" stroke-width="1.3" stroke-linejoin="round" stroke-linecap="butt" clip-path="url(#cl2)"/>
<path d="M38.7 298.55 L97.73 298.48 L98.13 298.46 L98.53 298.45 L98.94 298.43 L99.34 298.4 L99.74 298.37 L100.14 298.34 L100.54 298.3 L100.94 298.26 L101.35 298.2 L101.75 298.14 L102.15 298.07 L102.55 297.99 L102.95 297.9 L103.36 297.79 L103.76 297.67 L104.16 297.53 L104.56 297.37 L104.96 297.2 L105.37 296.99 L105.77 296.76 L106.17 296.51 L106.57 296.22 L106.97 295.9 L107.27 295.63 L107.58 295.35 L107.88 295.03 L108.18 294.7 L108.48 294.34 L108.78 293.95 L109.08 293.53 L109.38 293.08 L109.68 292.6 L109.98 292.08 L110.18 291.72 L110.38 291.34 L110.58 290.95 L110.78 290.54 L110.98 290.11 L111.18 289.67 L111.38 289.21 L111.58 288.72 L111.78 288.23 L111.98 287.71 L112.19 287.17 L112.39 286.62 L112.59 286.04 L112.79 285.45 L112.99 284.83 L113.2 284.2 L113.4 283.55 L113.6 282.87 L113.81 282.18 L114.01 281.46 L114.2 280.73 L114.4 279.97 L114.59 279.2 L114.69 278.8 L114.79 278.41 L114.89 278 L114.98 277.59 L115.08 277.18 L115.18 276.76 L115.27 276.33 L115.37 275.91 L115.47 275.47 L115.56 275.03 L115.66 274.59 L115.76 274.14 L115.86 273.69 L115.95 273.24 L116.05 272.78 L116.15 272.31 L116.25 271.84 L116.35 271.37 L116.45 270.89 L116.55 270.41 L116.65 269.92 L116.75 269.44 L116.86 268.94 L116.96 268.45 L117.06 267.95 L117.17 267.44 L117.27 266.93 L117.38 266.42 L117.48 265.91 L117.59 265.39 L117.7 264.87 L117.81 264.35 L117.92 263.83 L118.03 263.3 L118.14 262.77 L118.26 262.24 L118.37 261.7 L118.49 261.16 L118.61 260.63 L118.72 260.08 L118.84 259.54 L118.97 259 L119.09 258.45 L119.21 257.91 L119.34 257.36 L119.47 256.81 L119.6 256.26 L119.73 255.71 L119.86 255.16 L119.99 254.61 L120.13 254.06 L120.27 253.51 L120.41 252.96 L120.55 252.41 L120.69 251.86 L120.83 251.31 L120.98 250.76 L121.12 250.21 L121.27 249.67 L121.42 249.13 L121.57 248.58 L121.72 248.04 L121.87 247.51 L122.02 246.97 L122.18 246.44 L122.33 245.9 L122.49 245.38 L122.64 244.85 L122.8 244.33 L122.96 243.81 L123.12 243.3 L123.27 242.79 L123.43 242.28 L123.59 241.78 L123.75 241.28 L123.91 240.78 L124.08 240.29 L124.24 239.81 L124.4 239.33 L124.56 238.86 L124.72 238.39 L124.89 237.93 L125.05 237.47 L125.21 237.02 L125.37 236.57 L125.54 236.14 L125.71 235.7 L125.89 235.28 L126.07 234.86 L126.26 234.45 L126.45 234.05 L126.64 233.65 L126.83 233.27 L127.03 232.89 L127.22 232.51 L127.41 232.15 L127.59 231.8 L127.96 231.11 L128.29 230.46 L128.6 229.85 L128.87 229.27 L129.11 228.73 L129.34 228.23 L129.57 227.77 L129.78 227.36 L129.99 226.98 L130.29 226.5 L130.56 226.11 L130.87 225.75 L131.3 225.56 L131.76 225.75 L132.1 226.11 L132.32 226.5 L132.51 226.98 L132.68 227.56 L132.76 228 L132.83 228.48 L132.89 229 L132.92 229.55 L132.95 230.15 L132.98 230.78 L133 231.45 L133.02 232.15 L133.04 232.89 L133.05 233.65 L133.07 234.45 L133.07 234.86 L133.08 235.28 L133.09 235.7 L133.09 236.14 L133.1 236.57 L133.11 237.02 L133.11 237.47 L133.12 237.93 L133.13 238.39 L133.13 238.86 L133.14 239.33 L133.14 239.81 L133.14 240.29 L133.15 240.78 L133.15 241.28 L133.16 241.78 L133.16 242.28 L133.17 242.79 L133.17 243.3 L133.17 243.81 L133.18 244.33 L133.18 244.85 L133.18 245.38 L133.19 245.9 L133.19 246.44 L133.19 246.97 L133.2 247.51 L133.2 248.04 L133.2 248.58 L133.21 249.13 L133.21 249.67 L133.21 250.21 L133.22 250.76 L133.22 251.31 L133.23 251.86 L133.23 252.41 L133.24 252.96 L133.24 253.51 L133.25 254.06 L133.25 254.61 L133.26 255.16 L133.26 255.71 L133.27 256.26 L133.28 256.81 L133.29 257.36 L133.29 257.91 L133.3 258.45 L133.31 259 L133.32 259.54 L133.33 260.08 L133.35 260.63 L133.36 261.16 L133.38 261.7 L133.4 262.24 L133.41 262.77 L133.43 263.3 L133.46 263.83 L133.48 264.35 L133.5 264.87 L133.53 265.39 L133.56 265.91 L133.58 266.42 L133.61 266.93 L133.64 267.44 L133.67 267.95 L133.7 268.45 L133.74 268.94 L133.77 269.44 L133.81 269.92 L133.84 270.41 L133.88 270.89 L133.91 271.37 L133.95 271.84 L133.99 272.31 L134.03 272.78 L134.07 273.24 L134.11 273.69 L134.15 274.14 L134.19 274.59 L134.24 275.03 L134.28 275.47 L134.32 275.91 L134.37 276.33 L134.41 276.76 L134.46 277.18 L134.5 277.59 L134.55 278 L134.59 278.41 L134.64 278.8 L134.73 279.59 L134.82 280.35 L134.92 281.1 L135.01 281.82 L135.11 282.53 L135.2 283.21 L135.3 283.88 L135.4 284.52 L135.51 285.14 L135.62 285.75 L135.74 286.33 L135.86 286.9 L135.99 287.44 L136.13 287.97 L136.26 288.48 L136.4 288.97 L136.55 289.44 L136.69 289.89 L136.84 290.33 L136.99 290.75 L137.14 291.15 L137.29 291.54 L137.45 291.9 L137.68 292.43 L137.91 292.92 L138.14 293.38 L138.36 293.81 L138.59 294.21 L138.8 294.58 L139.02 294.93 L139.29 295.35 L139.57 295.72 L139.85 296.06 L140.13 296.37 L140.47 296.7 L140.82 296.99 L141.17 297.24 L141.51 297.46 L141.93 297.67 L142.35 297.85 L142.76 297.99 L143.18 298.11 L143.6 298.2 L144.01 298.28 L144.43 298.34 L144.85 298.39 L145.26 298.43 L145.68 298.45 L146.1 298.48 L146.1 298.48 L162.8 298.55" fill="none" stroke="#ff0000" stroke-width="1.3" stroke-linejoin="round" stroke-linecap="butt" clip-path="url(#cl2)"/>
<path d="M38.7 298.55 L87.92 298.48 L88.41 298.46 L88.9 298.44 L89.4 298.41 L89.89 298.37 L90.38 298.33 L90.88 298.28 L91.37 298.22 L91.86 298.14 L92.26 298.07 L92.65 297.99 L93.05 297.9 L93.44 297.79 L93.84 297.67 L94.23 297.53 L94.62 297.37 L95.02 297.2 L95.41 296.99 L95.81 296.76 L96.2 296.51 L96.6 296.22 L96.99 295.9 L97.39 295.54 L97.68 295.24 L97.98 294.93 L98.27 294.58 L98.57 294.21 L98.86 293.81 L99.15 293.38 L99.43 292.92 L99.72 292.43 L100.01 291.9 L100.2 291.54 L100.39 291.15 L100.59 290.75 L100.78 290.33 L100.97 289.89 L101.17 289.44 L101.36 288.97 L101.56 288.48 L101.76 287.97 L101.96 287.44 L102.16 286.9 L102.36 286.33 L102.57 285.75 L102.77 285.14 L102.98 284.52 L103.19 283.88 L103.4 283.21 L103.62 282.53 L103.83 281.82 L104.04 281.1 L104.26 280.35 L104.48 279.59 L104.58 279.2 L104.69 278.8 L104.8 278.41 L104.91 278 L105.02 277.59 L105.13 277.18 L105.24 276.76 L105.35 276.33 L105.46 275.91 L105.57 275.47 L105.68 275.03 L105.79 274.59 L105.91 274.14 L106.02 273.69 L106.13 273.24 L106.24 272.78 L106.36 272.31 L106.47 271.84 L106.59 271.37 L106.7 270.89 L106.82 270.41 L106.94 269.92 L107.05 269.44 L107.17 268.94 L107.29 268.45 L107.41 267.95 L107.53 267.44 L107.65 266.93 L107.77 266.42 L107.89 265.91 L108.02 265.39 L108.14 264.87 L108.26 264.35 L108.39 263.83 L108.52 263.3 L108.64 262.77 L108.77 262.24 L108.9 261.7 L109.03 261.16 L109.16 260.63 L109.29 260.08 L109.42 259.54 L109.55 259 L109.69 258.45 L109.82 257.91 L109.96 257.36 L110.1 256.81 L110.24 256.26 L110.39 255.71 L110.54 255.16 L110.69 254.61 L110.84 254.06 L110.99 253.51 L111.15 252.96 L111.3 252.41 L111.46 251.86 L111.62 251.31 L111.78 250.76 L111.94 250.21 L112.11 249.67 L112.27 249.13 L112.43 248.58 L112.6 248.04 L112.77 247.51 L112.93 246.97 L113.1 246.44 L113.26 245.9 L113.43 245.38 L113.59 244.85 L113.76 244.33 L113.93 243.81 L114.09 243.3 L114.25 242.79 L114.42 242.28 L114.58 241.78 L114.74 241.28 L114.9 240.78 L115.06 240.29 L115.22 239.81 L115.38 239.33 L115.53 238.86 L115.68 238.39 L115.83 237.93 L115.98 237.47 L116.13 237.02 L116.28 236.57 L116.42 236.14 L116.56 235.7 L116.71 235.28 L116.85 234.86 L116.99 234.45 L117.14 234.05 L117.28 233.65 L117.42 233.27 L117.56 232.89 L117.83 232.15 L118.1 231.45 L118.36 230.78 L118.61 230.15 L118.86 229.55 L119.08 229 L119.31 228.48 L119.53 228 L119.74 227.56 L119.95 227.16 L120.16 226.81 L120.46 226.36 L120.74 226.01 L121.1 225.69 L121.5 225.55 L121.89 225.75 L122.13 226.11 L122.29 226.5 L122.42 226.98 L122.54 227.56 L122.6 228 L122.65 228.48 L122.69 229 L122.72 229.55 L122.74 230.15 L122.76 230.78 L122.77 231.45 L122.79 232.15 L122.8 232.89 L122.81 233.65 L122.83 234.45 L122.83 234.86 L122.84 235.28 L122.84 235.7 L122.85 236.14 L122.85 236.57 L122.86 237.02 L122.86 237.47 L122.86 237.93 L122.87 238.39 L122.87 238.86 L122.88 239.33 L122.88 239.81 L122.88 240.29 L122.89 240.78 L122.89 241.28 L122.89 241.78 L122.9 242.28 L122.9 242.79 L122.9 243.3 L122.9 243.81 L122.91 244.33 L122.91 244.85 L122.91 245.38 L122.91 245.9 L122.92 246.44 L122.92 246.97 L122.92 247.51 L122.92 248.04 L122.93 248.58 L122.93 249.13 L122.93 249.67 L122.93 250.21 L122.94 250.76 L122.94 251.31 L122.94 251.86 L122.95 252.41 L122.95 252.96 L122.95 253.51 L122.96 254.06 L122.96 254.61 L122.97 255.16 L122.97 255.71 L122.98 256.26 L122.98 256.81 L122.99 257.36 L122.99 257.91 L123 258.45 L123.01 259 L123.02 259.54 L123.04 260.08 L123.05 260.63 L123.08 261.16 L123.1 261.7 L123.13 262.24 L123.16 262.77 L123.19 263.3 L123.23 263.83 L123.26 264.35 L123.31 264.87 L123.35 265.39 L123.39 265.91 L123.44 266.42 L123.49 266.93 L123.54 267.44 L123.59 267.95 L123.65 268.45 L123.71 268.94 L123.76 269.44 L123.82 269.92 L123.89 270.41 L123.95 270.89 L124.01 271.37 L124.08 271.84 L124.14 272.31 L124.21 272.78 L124.28 273.24 L124.35 273.69 L124.42 274.14 L124.49 274.59 L124.56 275.03 L124.63 275.47 L124.7 275.91 L124.77 276.33 L124.84 276.76 L124.92 277.18 L124.99 277.59 L125.06 278 L125.13 278.41 L125.2 278.8 L125.27 279.2 L125.41 279.97 L125.55 280.73 L125.68 281.46 L125.81 282.18 L125.94 282.87 L126.06 283.55 L126.18 284.2 L126.3 284.83 L126.42 285.45 L126.55 286.04 L126.67 286.62 L126.79 287.17 L126.92 287.71 L127.05 288.23 L127.18 288.72 L127.3 289.21 L127.43 289.67 L127.56 290.11 L127.69 290.54 L127.82 290.95 L127.95 291.34 L128.15 291.9 L128.35 292.43 L128.54 292.92 L128.74 293.38 L128.93 293.81 L129.13 294.21 L129.32 294.58 L129.58 295.03 L129.83 295.44 L130.09 295.81 L130.35 296.14 L130.67 296.51 L130.98 296.82 L131.3 297.1 L131.69 297.37 L132.07 297.6 L132.46 297.79 L132.84 297.95 L133.22 298.07 L133.67 298.19 L134.12 298.28 L134.56 298.35 L135.01 298.4 L135.46 298.44 L135.91 298.47 L136.04 298.48 L162.8 298.55" fill="none" stroke="#000" stroke-width="1.3" stroke-linejoin="round" stroke-linecap="butt" clip-path="url(#cl2)"/>
<rect x="32.5" y="221.9" width="136.5" height="80.3" fill="none" stroke="#666" stroke-width="0.9"/>
<line x1="38.7" y1="302.2" x2="38.7" y2="304.8" stroke="#666" stroke-width="0.9"/>
<text x="38.7" y="313" text-anchor="middle" class="t">−2</text>
<line x1="66.28" y1="302.2" x2="66.28" y2="304.8" stroke="#666" stroke-width="0.9"/>
<text x="66.28" y="313" text-anchor="middle" class="t">0</text>
<line x1="93.86" y1="302.2" x2="93.86" y2="304.8" stroke="#666" stroke-width="0.9"/>
<text x="93.86" y="313" text-anchor="middle" class="t">2</text>
<line x1="121.43" y1="302.2" x2="121.43" y2="304.8" stroke="#666" stroke-width="0.9"/>
<text x="121.43" y="313" text-anchor="middle" class="t">4</text>
<line x1="149.01" y1="302.2" x2="149.01" y2="304.8" stroke="#666" stroke-width="0.9"/>
<text x="149.01" y="313" text-anchor="middle" class="t">6</text>
<line x1="29.9" y1="298.55" x2="32.5" y2="298.55" stroke="#666" stroke-width="0.9"/>
<text x="28.85" y="301.55" text-anchor="end" class="t">0.0</text>
<line x1="29.9" y1="269.35" x2="32.5" y2="269.35" stroke="#666" stroke-width="0.9"/>
<text x="28.85" y="272.35" text-anchor="end" class="t">0.2</text>
<line x1="29.9" y1="240.15" x2="32.5" y2="240.15" stroke="#666" stroke-width="0.9"/>
<text x="28.85" y="243.15" text-anchor="end" class="t">0.4</text>
<text transform="translate(7.8 272.1) rotate(-90)" style="font-size:11.8px"><tspan font-style="italic">B</tspan><tspan font-style="italic" font-size="10" dx="-0.5" dy="1.0">φ</tspan></text>
<text y="325.4" style="font-size:12.2px"><tspan x="91.2" font-style="italic">ξ</tspan><tspan x="103.2" font-style="italic">L</tspan></text>
<line x1="102.4" y1="318.4" x2="99.0" y2="328.3" stroke="#000" stroke-width="0.95"/>
<rect x="34.3" y="224.2" width="37.9" height="23.2" rx="1.5" fill="#fff" stroke="#d6d6d6" stroke-width="0.8"/>
<line x1="36.3" y1="228.3" x2="46.8" y2="228.3" stroke="#0000ff" stroke-width="1.3"/>
<text x="50" y="230.08" font-size="5.4" class="lg" style="stroke-width:0.06px"><tspan font-style="italic">a</tspan><tspan font-size="3.89" dy="1.08">0</tspan><tspan dy="-1.08"> = 0.2</tspan></text>
<line x1="36.3" y1="235.6" x2="46.8" y2="235.6" stroke="#ff0000" stroke-width="1.3"/>
<text x="50" y="237.38" font-size="5.4" class="lg" style="stroke-width:0.06px"><tspan font-style="italic">a</tspan><tspan font-size="3.89" dy="1.08">0</tspan><tspan dy="-1.08"> = 0.4</tspan></text>
<line x1="36.3" y1="242.9" x2="46.8" y2="242.9" stroke="#000" stroke-width="1.3"/>
<text x="50" y="244.68" font-size="5.4" class="lg" style="stroke-width:0.06px"><tspan font-style="italic">a</tspan><tspan font-size="3.89" dy="1.08">0</tspan><tspan dy="-1.08"> = 0.6</tspan></text>
<clipPath id="cr0"><rect x="210.6" y="3.5" width="136.79999999999998" height="80.0"/></clipPath>
<path d="M216.82 6.85 L217.32 6.86 L217.82 6.87 L218.32 6.88 L218.82 6.89 L219.32 6.91 L219.82 6.93 L220.32 6.95 L220.82 6.98 L221.32 7.01 L221.82 7.04 L222.32 7.07 L222.82 7.11 L223.32 7.15 L223.82 7.19 L224.32 7.23 L224.82 7.28 L225.32 7.33 L225.82 7.38 L226.32 7.44 L226.82 7.49 L227.32 7.55 L227.82 7.62 L228.32 7.68 L228.82 7.75 L229.32 7.82 L229.82 7.9 L230.32 7.97 L230.82 8.05 L231.32 8.13 L231.82 8.22 L232.32 8.31 L232.82 8.4 L233.32 8.49 L233.82 8.59 L234.32 8.68 L234.82 8.78 L235.32 8.89 L235.82 9 L236.32 9.1 L236.82 9.22 L237.32 9.33 L237.82 9.45 L238.32 9.57 L238.82 9.69 L239.32 9.82 L239.82 9.95 L240.32 10.08 L240.82 10.21 L241.32 10.35 L241.82 10.49 L242.32 10.63 L242.82 10.78 L243.32 10.93 L243.82 11.08 L244.32 11.23 L244.82 11.39 L245.32 11.55 L245.82 11.71 L246.32 11.87 L246.82 12.04 L247.32 12.21 L247.82 12.39 L248.32 12.56 L248.82 12.74 L249.32 12.92 L249.82 13.11 L250.32 13.29 L250.82 13.49 L251.32 13.68 L251.82 13.87 L252.32 14.07 L252.82 14.27 L253.32 14.48 L253.82 14.69 L254.32 14.9 L254.82 15.11 L255.32 15.32 L255.82 15.54 L256.32 15.76 L256.82 15.99 L257.32 16.22 L257.82 16.45 L258.32 16.68 L258.82 16.91 L259.32 17.15 L259.82 17.39 L260.32 17.64 L260.82 17.88 L261.32 18.13 L261.82 18.39 L262.32 18.64 L262.82 18.9 L263.32 19.16 L263.82 19.43 L264.32 19.69 L264.82 19.96 L265.32 20.24 L265.82 20.51 L266.32 20.79 L266.82 21.07 L267.32 21.36 L267.82 21.65 L268.32 21.94 L268.82 22.23 L269.32 22.53 L269.82 22.82 L270.32 23.13 L270.82 23.43 L271.32 23.74 L271.82 24.05 L272.32 24.36 L272.82 24.68 L273.32 25 L273.82 25.32 L274.32 25.65 L274.82 25.98 L275.32 26.31 L275.82 26.64 L276.32 26.98 L276.82 27.32 L277.32 27.66 L277.82 28.01 L278.32 28.36 L278.82 28.72 L279.32 29.07 L279.82 29.43 L280.32 29.8 L280.82 30.16 L281.32 30.53 L281.82 30.91 L282.32 31.28 L282.82 31.66 L283.32 32.05 L283.82 32.44 L284.32 32.83 L284.82 33.22 L285.32 33.62 L285.82 34.02 L286.32 34.43 L286.82 34.84 L287.32 35.25 L287.82 35.67 L288.32 36.09 L288.82 36.51 L289.32 36.94 L289.82 37.37 L290.32 37.81 L290.82 38.25 L291.32 38.69 L291.82 39.14 L292.32 39.59 L292.82 40.05 L293.32 40.51 L293.82 40.97 L294.32 41.44 L294.82 41.91 L295.32 42.39 L295.82 42.87 L296.32 43.36 L296.82 43.84 L297.32 44.34 L297.82 44.84 L298.32 45.34 L298.82 45.85 L299.32 46.36 L299.82 46.87 L300.32 47.39 L300.82 47.92 L301.32 48.44 L301.82 48.98 L302.32 49.51 L302.82 50.05 L303.32 50.59 L303.82 51.14 L304.32 51.68 L304.82 52.23 L305.32 52.78 L305.82 53.33 L306.32 53.89 L306.82 54.44 L307.32 54.99 L307.82 55.55 L308.32 56.1 L308.82 56.66 L309.32 57.21 L309.82 57.76 L310.32 58.31 L310.82 58.86 L311.32 59.41 L311.82 59.96 L312.32 60.5 L312.82 61.04 L313.32 61.58 L313.82 62.12 L314.32 62.65 L314.82 63.18 L315.32 63.7 L315.82 64.22 L316.32 64.74 L316.82 65.25 L317.32 65.75 L317.82 66.25 L318.32 66.74 L318.82 67.23 L319.32 67.71 L319.82 68.19 L320.32 68.66 L320.82 69.12 L321.32 69.57 L321.82 70.02 L322.32 70.45 L322.82 70.88 L323.32 71.3 L323.82 71.71 L324.32 72.12 L324.82 72.51 L325.32 72.9 L325.82 73.27 L326.32 73.64 L326.82 74 L327.32 74.35 L327.82 74.68 L328.32 75.01 L328.82 75.33 L329.32 75.64 L329.82 75.93 L330.32 76.22 L330.82 76.5 L331.32 76.76 L331.82 77.02 L332.32 77.26 L332.82 77.49 L333.32 77.71 L333.82 77.92 L334.32 78.12 L334.82 78.3 L335.32 78.48 L335.82 78.64 L336.32 78.78 L336.82 78.92 L337.32 79.04 L337.82 79.15 L338.32 79.25 L338.82 79.34 L339.32 79.41 L339.82 79.46 L340.32 79.51 L340.82 79.54 L341.32 79.55" fill="none" stroke="#008000" stroke-width="1.3" stroke-linejoin="round" stroke-linecap="butt" clip-path="url(#cr0)"/>
<path d="M216.82 6.77 L217.32 6.79 L217.82 6.82 L218.32 6.84 L218.82 6.86 L219.32 6.89 L219.82 6.92 L220.32 6.95 L220.82 6.99 L221.32 7.02 L221.82 7.06 L222.32 7.1 L222.82 7.14 L223.32 7.19 L223.82 7.23 L224.32 7.28 L224.82 7.33 L225.32 7.39 L225.82 7.44 L226.32 7.5 L226.82 7.56 L227.32 7.62 L227.82 7.68 L228.32 7.75 L228.82 7.82 L229.32 7.89 L229.82 7.96 L230.32 8.04 L230.82 8.12 L231.32 8.2 L231.82 8.28 L232.32 8.37 L232.82 8.46 L233.32 8.55 L233.82 8.64 L234.32 8.73 L234.82 8.83 L235.32 8.93 L235.82 9.04 L236.32 9.14 L236.82 9.25 L237.32 9.36 L237.82 9.47 L238.32 9.59 L238.82 9.71 L239.32 9.83 L239.82 9.95 L240.32 10.08 L240.82 10.21 L241.32 10.34 L241.82 10.48 L242.32 10.61 L242.82 10.75 L243.32 10.9 L243.82 11.04 L244.32 11.19 L244.82 11.34 L245.32 11.5 L245.82 11.65 L246.32 11.82 L246.82 11.98 L247.32 12.14 L247.82 12.31 L248.32 12.49 L248.82 12.66 L249.32 12.84 L249.82 13.02 L250.32 13.2 L250.82 13.39 L251.32 13.58 L251.82 13.77 L252.32 13.97 L252.82 14.17 L253.32 14.37 L253.82 14.58 L254.32 14.78 L254.82 15 L255.32 15.21 L255.82 15.43 L256.32 15.65 L256.82 15.87 L257.32 16.1 L257.82 16.33 L258.32 16.57 L258.82 16.81 L259.32 17.05 L259.82 17.29 L260.32 17.54 L260.82 17.79 L261.32 18.04 L261.82 18.3 L262.32 18.56 L262.82 18.83 L263.32 19.09 L263.82 19.37 L264.32 19.64 L264.82 19.92 L265.32 20.2 L265.82 20.49 L266.32 20.78 L266.82 21.07 L267.32 21.36 L267.82 21.66 L268.32 21.97 L268.82 22.27 L269.32 22.59 L269.82 22.9 L270.32 23.22 L270.82 23.54 L271.32 23.86 L271.82 24.19 L272.32 24.53 L272.82 24.86 L273.32 25.2 L273.82 25.55 L274.32 25.89 L274.82 26.24 L275.32 26.6 L275.82 26.95 L276.32 27.31 L276.82 27.67 L277.32 28.03 L277.82 28.4 L278.32 28.76 L278.82 29.13 L279.32 29.5 L279.82 29.87 L280.32 30.24 L280.82 30.61 L281.32 30.98 L281.82 31.36 L282.32 31.73 L282.82 32.1 L283.32 32.47 L283.82 32.84 L284.32 33.21 L284.82 33.58 L285.32 33.94 L285.82 34.31 L286.32 34.67 L286.82 35.03 L287.32 35.39 L287.82 35.75 L288.32 36.1 L288.82 36.46 L289.32 36.81 L289.82 37.15 L290.32 37.49 L290.82 37.83 L291.32 38.16 L291.82 38.49 L292.32 38.82 L292.82 39.14 L293.32 39.45 L293.82 39.76 L294.32 40.06 L294.82 40.36 L295.32 40.64 L295.82 40.93 L296.32 41.2 L296.82 41.47 L297.32 41.73 L297.82 41.98 L298.32 42.23 L298.82 42.46 L299.32 42.69 L299.82 42.91 L300.32 43.12 L300.82 43.33 L301.32 43.53 L301.82 43.72 L302.32 43.9 L302.82 44.08 L303.32 44.25 L303.82 44.41 L304.32 44.57 L304.82 44.72 L305.32 44.86 L305.82 45 L306.32 45.14 L306.82 45.27 L307.32 45.39 L307.82 45.51 L308.32 45.62 L308.82 45.73 L309.32 45.83 L309.82 45.93 L310.32 46.03 L310.82 46.12 L311.32 46.21 L311.82 46.3 L312.32 46.38 L312.82 46.46 L313.32 46.53 L313.82 46.61 L314.32 46.68 L314.82 46.75 L315.32 46.81 L315.82 46.88 L316.32 46.94 L316.82 47 L317.32 47.06 L317.82 47.12 L318.32 47.18 L318.82 47.24 L319.32 47.3 L319.82 47.35 L320.32 47.41 L320.82 47.47 L321.32 47.52 L321.82 47.58 L322.32 47.64 L322.82 47.7 L323.32 47.76 L323.82 47.82 L324.32 47.88 L324.82 47.94 L325.32 48.01 L325.82 48.08 L326.32 48.15 L326.82 48.22 L327.32 48.29 L327.82 48.37 L328.32 48.45 L328.82 48.54 L329.32 48.62 L329.82 48.71 L330.32 48.81 L330.82 48.9 L331.32 49.01 L331.82 49.11 L332.32 49.22 L332.82 49.34 L333.32 49.46 L333.82 49.58 L334.32 49.71 L334.82 49.85 L335.32 49.99 L335.82 50.14 L336.32 50.29 L336.82 50.45 L337.32 50.62 L337.82 50.79 L338.32 50.97 L338.82 51.15 L339.32 51.35 L339.82 51.55 L340.32 51.76 L340.82 51.97 L341.32 52.2" fill="none" stroke="#000" stroke-width="1.3" stroke-linejoin="round" stroke-linecap="butt" clip-path="url(#cr0)"/>
<path d="M216.82 6.7 L217.32 6.73 L217.82 6.76 L218.32 6.79 L218.82 6.82 L219.32 6.86 L219.82 6.9 L220.32 6.93 L220.82 6.98 L221.32 7.02 L221.82 7.06 L222.32 7.11 L222.82 7.15 L223.32 7.2 L223.82 7.25 L224.32 7.31 L224.82 7.36 L225.32 7.42 L225.82 7.48 L226.32 7.54 L226.82 7.6 L227.32 7.67 L227.82 7.73 L228.32 7.8 L228.82 7.87 L229.32 7.94 L229.82 8.02 L230.32 8.1 L230.82 8.18 L231.32 8.26 L231.82 8.34 L232.32 8.43 L232.82 8.52 L233.32 8.61 L233.82 8.7 L234.32 8.79 L234.82 8.89 L235.32 8.99 L235.82 9.09 L236.32 9.2 L236.82 9.3 L237.32 9.41 L237.82 9.53 L238.32 9.64 L238.82 9.76 L239.32 9.88 L239.82 10 L240.32 10.12 L240.82 10.25 L241.32 10.38 L241.82 10.51 L242.32 10.65 L242.82 10.78 L243.32 10.92 L243.82 11.07 L244.32 11.21 L244.82 11.36 L245.32 11.51 L245.82 11.67 L246.32 11.82 L246.82 11.98 L247.32 12.15 L247.82 12.31 L248.32 12.48 L248.82 12.65 L249.32 12.83 L249.82 13 L250.32 13.18 L250.82 13.37 L251.32 13.55 L251.82 13.74 L252.32 13.93 L252.82 14.13 L253.32 14.33 L253.82 14.53 L254.32 14.74 L254.82 14.94 L255.32 15.16 L255.82 15.37 L256.32 15.59 L256.82 15.81 L257.32 16.03 L257.82 16.26 L258.32 16.49 L258.82 16.73 L259.32 16.97 L259.82 17.21 L260.32 17.45 L260.82 17.7 L261.32 17.95 L261.82 18.21 L262.32 18.47 L262.82 18.73 L263.32 18.99 L263.82 19.26 L264.32 19.54 L264.82 19.81 L265.32 20.09 L265.82 20.38 L266.32 20.66 L266.82 20.96 L267.32 21.25 L267.82 21.55 L268.32 21.85 L268.82 22.16 L269.32 22.47 L269.82 22.78 L270.32 23.1 L270.82 23.42 L271.32 23.75 L271.82 24.08 L272.32 24.41 L272.82 24.75 L273.32 25.09 L273.82 25.43 L274.32 25.78 L274.82 26.14 L275.32 26.49 L275.82 26.85 L276.32 27.21 L276.82 27.58 L277.32 27.95 L277.82 28.32 L278.32 28.69 L278.82 29.07 L279.32 29.45 L279.82 29.83 L280.32 30.21 L280.82 30.59 L281.32 30.98 L281.82 31.37 L282.32 31.75 L282.82 32.15 L283.32 32.54 L283.82 32.93 L284.32 33.32 L284.82 33.72 L285.32 34.11 L285.82 34.51 L286.32 34.9 L286.82 35.3 L287.32 35.69 L287.82 36.09 L288.32 36.48 L288.82 36.88 L289.32 37.27 L289.82 37.67 L290.32 38.06 L290.82 38.45 L291.32 38.84 L291.82 39.23 L292.32 39.62 L292.82 40.01 L293.32 40.39 L293.82 40.77 L294.32 41.16 L294.82 41.53 L295.32 41.91 L295.82 42.29 L296.32 42.66 L296.82 43.03 L297.32 43.39 L297.82 43.76 L298.32 44.12 L298.82 44.48 L299.32 44.83 L299.82 45.18 L300.32 45.53 L300.82 45.87 L301.32 46.21 L301.82 46.54 L302.32 46.88 L302.82 47.2 L303.32 47.53 L303.82 47.85 L304.32 48.16 L304.82 48.48 L305.32 48.78 L305.82 49.09 L306.32 49.39 L306.82 49.68 L307.32 49.98 L307.82 50.26 L308.32 50.55 L308.82 50.83 L309.32 51.1 L309.82 51.37 L310.32 51.64 L310.82 51.9 L311.32 52.16 L311.82 52.41 L312.32 52.66 L312.82 52.91 L313.32 53.15 L313.82 53.38 L314.32 53.61 L314.82 53.84 L315.32 54.06 L315.82 54.28 L316.32 54.49 L316.82 54.7 L317.32 54.9 L317.82 55.1 L318.32 55.29 L318.82 55.48 L319.32 55.66 L319.82 55.84 L320.32 56.02 L320.82 56.19 L321.32 56.35 L321.82 56.51 L322.32 56.66 L322.82 56.81 L323.32 56.96 L323.82 57.1 L324.32 57.23 L324.82 57.37 L325.32 57.5 L325.82 57.62 L326.32 57.74 L326.82 57.86 L327.32 57.98 L327.82 58.09 L328.32 58.21 L328.82 58.32 L329.32 58.43 L329.82 58.54 L330.32 58.64 L330.82 58.75 L331.32 58.86 L331.82 58.96 L332.32 59.07 L332.82 59.18 L333.32 59.28 L333.82 59.39 L334.32 59.5 L334.82 59.61 L335.32 59.72 L335.82 59.84 L336.32 59.96 L336.82 60.07 L337.32 60.2 L337.82 60.32 L338.32 60.45 L338.82 60.58 L339.32 60.72 L339.82 60.86 L340.32 61 L340.82 61.15 L341.32 61.3" fill="none" stroke="#ff0000" stroke-width="1.3" stroke-linejoin="round" stroke-linecap="butt" clip-path="url(#cr0)"/>
<path d="M216.82 6.75 L217.32 6.77 L217.82 6.8 L218.32 6.82 L218.82 6.85 L219.32 6.88 L219.82 6.91 L220.32 6.94 L220.82 6.98 L221.32 7.01 L221.82 7.05 L222.32 7.09 L222.82 7.14 L223.32 7.18 L223.82 7.23 L224.32 7.28 L224.82 7.33 L225.32 7.39 L225.82 7.44 L226.32 7.5 L226.82 7.56 L227.32 7.63 L227.82 7.69 L228.32 7.76 L228.82 7.83 L229.32 7.9 L229.82 7.98 L230.32 8.05 L230.82 8.13 L231.32 8.22 L231.82 8.3 L232.32 8.39 L232.82 8.48 L233.32 8.57 L233.82 8.66 L234.32 8.76 L234.82 8.86 L235.32 8.96 L235.82 9.06 L236.32 9.17 L236.82 9.28 L237.32 9.39 L237.82 9.5 L238.32 9.62 L238.82 9.74 L239.32 9.86 L239.82 9.98 L240.32 10.11 L240.82 10.24 L241.32 10.37 L241.82 10.51 L242.32 10.65 L242.82 10.79 L243.32 10.93 L243.82 11.08 L244.32 11.22 L244.82 11.38 L245.32 11.53 L245.82 11.69 L246.32 11.85 L246.82 12.01 L247.32 12.17 L247.82 12.34 L248.32 12.51 L248.82 12.69 L249.32 12.86 L249.82 13.04 L250.32 13.23 L250.82 13.41 L251.32 13.6 L251.82 13.79 L252.32 13.99 L252.82 14.18 L253.32 14.39 L253.82 14.59 L254.32 14.8 L254.82 15 L255.32 15.22 L255.82 15.43 L256.32 15.65 L256.82 15.87 L257.32 16.1 L257.82 16.33 L258.32 16.56 L258.82 16.79 L259.32 17.03 L259.82 17.27 L260.32 17.51 L260.82 17.76 L261.32 18.01 L261.82 18.27 L262.32 18.52 L262.82 18.78 L263.32 19.05 L263.82 19.31 L264.32 19.58 L264.82 19.86 L265.32 20.13 L265.82 20.41 L266.32 20.7 L266.82 20.98 L267.32 21.27 L267.82 21.57 L268.32 21.87 L268.82 22.17 L269.32 22.47 L269.82 22.78 L270.32 23.09 L270.82 23.4 L271.32 23.72 L271.82 24.04 L272.32 24.37 L272.82 24.7 L273.32 25.03 L273.82 25.36 L274.32 25.7 L274.82 26.05 L275.32 26.39 L275.82 26.74 L276.32 27.09 L276.82 27.45 L277.32 27.81 L277.82 28.17 L278.32 28.53 L278.82 28.9 L279.32 29.27 L279.82 29.64 L280.32 30.02 L280.82 30.4 L281.32 30.78 L281.82 31.16 L282.32 31.55 L282.82 31.94 L283.32 32.33 L283.82 32.72 L284.32 33.12 L284.82 33.51 L285.32 33.91 L285.82 34.31 L286.32 34.72 L286.82 35.12 L287.32 35.53 L287.82 35.94 L288.32 36.35 L288.82 36.76 L289.32 37.17 L289.82 37.59 L290.32 38 L290.82 38.42 L291.32 38.84 L291.82 39.26 L292.32 39.68 L292.82 40.11 L293.32 40.53 L293.82 40.95 L294.32 41.38 L294.82 41.81 L295.32 42.23 L295.82 42.66 L296.32 43.09 L296.82 43.52 L297.32 43.95 L297.82 44.38 L298.32 44.81 L298.82 45.24 L299.32 45.68 L299.82 46.11 L300.32 46.54 L300.82 46.97 L301.32 47.4 L301.82 47.84 L302.32 48.27 L302.82 48.7 L303.32 49.12 L303.82 49.55 L304.32 49.97 L304.82 50.4 L305.32 50.82 L305.82 51.23 L306.32 51.65 L306.82 52.06 L307.32 52.47 L307.82 52.87 L308.32 53.27 L308.82 53.66 L309.32 54.06 L309.82 54.44 L310.32 54.82 L310.82 55.2 L311.32 55.57 L311.82 55.93 L312.32 56.29 L312.82 56.64 L313.32 56.99 L313.82 57.33 L314.32 57.66 L314.82 57.99 L315.32 58.31 L315.82 58.63 L316.32 58.94 L316.82 59.24 L317.32 59.54 L317.82 59.83 L318.32 60.11 L318.82 60.39 L319.32 60.66 L319.82 60.93 L320.32 61.19 L320.82 61.44 L321.32 61.69 L321.82 61.92 L322.32 62.16 L322.82 62.38 L323.32 62.6 L323.82 62.82 L324.32 63.02 L324.82 63.22 L325.32 63.42 L325.82 63.61 L326.32 63.8 L326.82 63.98 L327.32 64.15 L327.82 64.32 L328.32 64.48 L328.82 64.64 L329.32 64.8 L329.82 64.95 L330.32 65.1 L330.82 65.24 L331.32 65.38 L331.82 65.52 L332.32 65.65 L332.82 65.78 L333.32 65.91 L333.82 66.03 L334.32 66.15 L334.82 66.27 L335.32 66.39 L335.82 66.5 L336.32 66.62 L336.82 66.73 L337.32 66.83 L337.82 66.94 L338.32 67.04 L338.82 67.15 L339.32 67.25 L339.82 67.35 L340.32 67.45 L340.82 67.56 L341.32 67.66" fill="none" stroke="#0000ff" stroke-width="1.3" stroke-linejoin="round" stroke-linecap="butt" clip-path="url(#cr0)"/>
<rect x="210.6" y="3.5" width="136.79999999999998" height="80.0" fill="none" stroke="#666" stroke-width="0.9"/>
<line x1="216.82" y1="83.5" x2="216.82" y2="86.1" stroke="#666" stroke-width="0.9"/>
<text x="216.82" y="94.3" text-anchor="middle" class="t">0.0</text>
<line x1="249.81" y1="83.5" x2="249.81" y2="86.1" stroke="#666" stroke-width="0.9"/>
<text x="249.81" y="94.3" text-anchor="middle" class="t">0.2</text>
<line x1="282.79" y1="83.5" x2="282.79" y2="86.1" stroke="#666" stroke-width="0.9"/>
<text x="282.79" y="94.3" text-anchor="middle" class="t">0.4</text>
<line x1="315.78" y1="83.5" x2="315.78" y2="86.1" stroke="#666" stroke-width="0.9"/>
<text x="315.78" y="94.3" text-anchor="middle" class="t">0.6</text>
<line x1="208.9" y1="82.68" x2="210.6" y2="82.68" stroke="#555" stroke-width="0.8"/>
<line x1="208.9" y1="78.71" x2="210.6" y2="78.71" stroke="#555" stroke-width="0.8"/>
<line x1="208.9" y1="75.47" x2="210.6" y2="75.47" stroke="#555" stroke-width="0.8"/>
<line x1="208.9" y1="72.74" x2="210.6" y2="72.74" stroke="#555" stroke-width="0.8"/>
<line x1="208.9" y1="70.36" x2="210.6" y2="70.36" stroke="#555" stroke-width="0.8"/>
<line x1="208.9" y1="68.27" x2="210.6" y2="68.27" stroke="#555" stroke-width="0.8"/>
<line x1="208" y1="66.4" x2="210.6" y2="66.4" stroke="#666" stroke-width="0.9"/>
<text x="190.1" y="69.6" class="t">10<tspan font-size="6.9" dy="-2.9">−4</tspan></text>
<line x1="208.9" y1="54.09" x2="210.6" y2="54.09" stroke="#555" stroke-width="0.8"/>
<line x1="208.9" y1="46.89" x2="210.6" y2="46.89" stroke="#555" stroke-width="0.8"/>
<line x1="208.9" y1="41.78" x2="210.6" y2="41.78" stroke="#555" stroke-width="0.8"/>
<line x1="208.9" y1="37.81" x2="210.6" y2="37.81" stroke="#555" stroke-width="0.8"/>
<line x1="208.9" y1="34.57" x2="210.6" y2="34.57" stroke="#555" stroke-width="0.8"/>
<line x1="208.9" y1="31.84" x2="210.6" y2="31.84" stroke="#555" stroke-width="0.8"/>
<line x1="208.9" y1="29.46" x2="210.6" y2="29.46" stroke="#555" stroke-width="0.8"/>
<line x1="208.9" y1="27.37" x2="210.6" y2="27.37" stroke="#555" stroke-width="0.8"/>
<line x1="208" y1="25.5" x2="210.6" y2="25.5" stroke="#666" stroke-width="0.9"/>
<text x="190.1" y="28.7" class="t">10<tspan font-size="6.9" dy="-2.9">−3</tspan></text>
<line x1="208.9" y1="13.19" x2="210.6" y2="13.19" stroke="#555" stroke-width="0.8"/>
<line x1="208.9" y1="5.99" x2="210.6" y2="5.99" stroke="#555" stroke-width="0.8"/>
<text transform="translate(182.3 45) rotate(-90)" text-anchor="middle" class="l" style="font-size:10.9px">Amplitude</text>
<text x="278.7" y="105.2" text-anchor="middle" class="l" style="font-size:11.1px">Spatial frequency</text>
<rect x="301.1" y="6.1" width="43.5" height="34.3" rx="1.5" fill="#fff" stroke="#d6d6d6" stroke-width="0.8"/>
<line x1="303.4" y1="10.2" x2="315.1" y2="10.2" stroke="#008000" stroke-width="1.3"/>
<text x="319.2" y="12.18" font-size="6.0" class="lg" style="stroke-width:0.14px"><tspan font-size="5.6">Time zero</tspan></text>
<line x1="303.4" y1="18.25" x2="315.1" y2="18.25" stroke="#000" stroke-width="1.3"/>
<text x="319.2" y="20.23" font-size="6.0" class="lg" style="stroke-width:0.14px"><tspan font-style="italic" font-size="6.72">ρ</tspan><tspan font-size="4.32" dy="1.2">i</tspan><tspan dy="-1.2" dx="0.2">/</tspan><tspan font-style="italic" font-size="6.72" dx="0.2">ρ</tspan><tspan font-size="4.32" dy="1.2">e</tspan><tspan dy="-1.2" dx="0.6">=</tspan><tspan dx="0.8"><tspan font-size="6.72" dy="0.3">∞</tspan></tspan></text>
<line x1="303.4" y1="26.3" x2="315.1" y2="26.3" stroke="#ff0000" stroke-width="1.3"/>
<text x="319.2" y="28.28" font-size="6.0" class="lg" style="stroke-width:0.14px"><tspan font-style="italic" font-size="6.72">ρ</tspan><tspan font-size="4.32" dy="1.2">i</tspan><tspan dy="-1.2" dx="0.2">/</tspan><tspan font-style="italic" font-size="6.72" dx="0.2">ρ</tspan><tspan font-size="4.32" dy="1.2">e</tspan><tspan dy="-1.2" dx="0.6">=</tspan><tspan dx="0.8">9</tspan></text>
<line x1="303.4" y1="34.35" x2="315.1" y2="34.35" stroke="#0000ff" stroke-width="1.3"/>
<text x="319.2" y="36.33" font-size="6.0" class="lg" style="stroke-width:0.14px"><tspan font-style="italic" font-size="6.72">ρ</tspan><tspan font-size="4.32" dy="1.2">i</tspan><tspan dy="-1.2" dx="0.2">/</tspan><tspan font-style="italic" font-size="6.72" dx="0.2">ρ</tspan><tspan font-size="4.32" dy="1.2">e</tspan><tspan dy="-1.2" dx="0.6">=</tspan><tspan dx="0.8">4</tspan></text>
<clipPath id="cr1"><rect x="210.6" y="112.5" width="136.79999999999998" height="80.0"/></clipPath>
<path d="M216.82 116.1 L217.32 116.11 L217.82 116.13 L218.32 116.15 L218.82 116.17 L219.32 116.19 L219.82 116.22 L220.32 116.25 L220.82 116.28 L221.32 116.31 L221.82 116.35 L222.32 116.39 L222.82 116.43 L223.32 116.48 L223.82 116.52 L224.32 116.57 L224.82 116.63 L225.32 116.68 L225.82 116.74 L226.32 116.8 L226.82 116.86 L227.32 116.93 L227.82 117 L228.32 117.07 L228.82 117.14 L229.32 117.22 L229.82 117.3 L230.32 117.38 L230.82 117.47 L231.32 117.55 L231.82 117.64 L232.32 117.74 L232.82 117.83 L233.32 117.93 L233.82 118.03 L234.32 118.14 L234.82 118.25 L235.32 118.35 L235.82 118.47 L236.32 118.58 L236.82 118.7 L237.32 118.82 L237.82 118.95 L238.32 119.07 L238.82 119.2 L239.32 119.34 L239.82 119.47 L240.32 119.61 L240.82 119.75 L241.32 119.9 L241.82 120.04 L242.32 120.19 L242.82 120.35 L243.32 120.5 L243.82 120.66 L244.32 120.82 L244.82 120.99 L245.32 121.15 L245.82 121.32 L246.32 121.5 L246.82 121.67 L247.32 121.85 L247.82 122.04 L248.32 122.22 L248.82 122.41 L249.32 122.6 L249.82 122.8 L250.32 122.99 L250.82 123.19 L251.32 123.4 L251.82 123.6 L252.32 123.81 L252.82 124.03 L253.32 124.24 L253.82 124.46 L254.32 124.68 L254.82 124.91 L255.32 125.14 L255.82 125.37 L256.32 125.6 L256.82 125.84 L257.32 126.08 L257.82 126.32 L258.32 126.57 L258.82 126.82 L259.32 127.07 L259.82 127.33 L260.32 127.59 L260.82 127.85 L261.32 128.12 L261.82 128.39 L262.32 128.66 L262.82 128.93 L263.32 129.21 L263.82 129.49 L264.32 129.78 L264.82 130.07 L265.32 130.36 L265.82 130.65 L266.32 130.95 L266.82 131.25 L267.32 131.56 L267.82 131.87 L268.32 132.18 L268.82 132.49 L269.32 132.81 L269.82 133.13 L270.32 133.45 L270.82 133.78 L271.32 134.11 L271.82 134.45 L272.32 134.79 L272.82 135.13 L273.32 135.47 L273.82 135.82 L274.32 136.17 L274.82 136.52 L275.32 136.88 L275.82 137.24 L276.32 137.61 L276.82 137.98 L277.32 138.35 L277.82 138.72 L278.32 139.1 L278.82 139.48 L279.32 139.87 L279.82 140.25 L280.32 140.64 L280.82 141.04 L281.32 141.44 L281.82 141.84 L282.32 142.24 L282.82 142.65 L283.32 143.06 L283.82 143.47 L284.32 143.89 L284.82 144.31 L285.32 144.73 L285.82 145.16 L286.32 145.59 L286.82 146.02 L287.32 146.46 L287.82 146.9 L288.32 147.34 L288.82 147.78 L289.32 148.23 L289.82 148.68 L290.32 149.14 L290.82 149.6 L291.32 150.06 L291.82 150.52 L292.32 150.99 L292.82 151.46 L293.32 151.93 L293.82 152.41 L294.32 152.89 L294.82 153.37 L295.32 153.86 L295.82 154.35 L296.32 154.84 L296.82 155.34 L297.32 155.84 L297.82 156.34 L298.32 156.84 L298.82 157.35 L299.32 157.86 L299.82 158.37 L300.32 158.89 L300.82 159.41 L301.32 159.93 L301.82 160.46 L302.32 160.99 L302.82 161.52 L303.32 162.05 L303.82 162.59 L304.32 163.13 L304.82 163.68 L305.32 164.22 L305.82 164.77 L306.32 165.32 L306.82 165.88 L307.32 166.44 L307.82 167 L308.32 167.56 L308.82 168.12 L309.32 168.68 L309.82 169.24 L310.32 169.8 L310.82 170.36 L311.32 170.92 L311.82 171.48 L312.32 172.04 L312.82 172.59 L313.32 173.15 L313.82 173.7 L314.32 174.24 L314.82 174.79 L315.32 175.33 L315.82 175.86 L316.32 176.39 L316.82 176.92 L317.32 177.44 L317.82 177.95 L318.32 178.46 L318.82 178.96 L319.32 179.46 L319.82 179.94 L320.32 180.42 L320.82 180.89 L321.32 181.36 L321.82 181.81 L322.32 182.26 L322.82 182.69 L323.32 183.12 L323.82 183.53 L324.32 183.94 L324.82 184.33 L325.32 184.71 L325.82 185.08 L326.32 185.44 L326.82 185.79 L327.32 186.12 L327.82 186.44 L328.32 186.75 L328.82 187.05 L329.32 187.33 L329.82 187.59 L330.32 187.85 L330.82 188.08 L331.32 188.31 L331.82 188.51 L332.32 188.71 L332.82 188.88 L333.32 189.04 L333.82 189.18 L334.32 189.31 L334.82 189.42 L335.32 189.51 L335.82 189.58 L336.32 189.63 L336.82 189.67 L337.32 189.69 L337.82 189.68 L338.32 189.66 L338.82 189.62 L339.32 189.56 L339.82 189.47 L340.32 189.37 L340.82 189.25 L341.32 189.1" fill="none" stroke="#008000" stroke-width="1.3" stroke-linejoin="round" stroke-linecap="butt" clip-path="url(#cr1)"/>
<path d="M216.82 116.3 L217.32 116.3 L217.82 116.29 L218.32 116.29 L218.82 116.3 L219.32 116.3 L219.82 116.31 L220.32 116.33 L220.82 116.34 L221.32 116.36 L221.82 116.38 L222.32 116.41 L222.82 116.44 L223.32 116.47 L223.82 116.51 L224.32 116.54 L224.82 116.59 L225.32 116.63 L225.82 116.68 L226.32 116.73 L226.82 116.78 L227.32 116.84 L227.82 116.9 L228.32 116.96 L228.82 117.03 L229.32 117.1 L229.82 117.18 L230.32 117.25 L230.82 117.33 L231.32 117.41 L231.82 117.5 L232.32 117.59 L232.82 117.68 L233.32 117.78 L233.82 117.88 L234.32 117.98 L234.82 118.08 L235.32 118.19 L235.82 118.3 L236.32 118.42 L236.82 118.54 L237.32 118.66 L237.82 118.78 L238.32 118.91 L238.82 119.04 L239.32 119.18 L239.82 119.31 L240.32 119.45 L240.82 119.6 L241.32 119.75 L241.82 119.9 L242.32 120.05 L242.82 120.21 L243.32 120.37 L243.82 120.53 L244.32 120.7 L244.82 120.87 L245.32 121.04 L245.82 121.21 L246.32 121.39 L246.82 121.58 L247.32 121.76 L247.82 121.95 L248.32 122.14 L248.82 122.34 L249.32 122.54 L249.82 122.74 L250.32 122.94 L250.82 123.15 L251.32 123.36 L251.82 123.58 L252.32 123.8 L252.82 124.02 L253.32 124.24 L253.82 124.47 L254.32 124.7 L254.82 124.94 L255.32 125.17 L255.82 125.41 L256.32 125.66 L256.82 125.91 L257.32 126.16 L257.82 126.41 L258.32 126.67 L258.82 126.93 L259.32 127.19 L259.82 127.46 L260.32 127.73 L260.82 128 L261.32 128.28 L261.82 128.56 L262.32 128.84 L262.82 129.13 L263.32 129.42 L263.82 129.71 L264.32 130.01 L264.82 130.31 L265.32 130.61 L265.82 130.91 L266.32 131.22 L266.82 131.54 L267.32 131.85 L267.82 132.17 L268.32 132.49 L268.82 132.82 L269.32 133.15 L269.82 133.48 L270.32 133.82 L270.82 134.15 L271.32 134.5 L271.82 134.84 L272.32 135.19 L272.82 135.54 L273.32 135.9 L273.82 136.26 L274.32 136.62 L274.82 136.98 L275.32 137.35 L275.82 137.71 L276.32 138.08 L276.82 138.46 L277.32 138.83 L277.82 139.2 L278.32 139.58 L278.82 139.95 L279.32 140.33 L279.82 140.7 L280.32 141.08 L280.82 141.46 L281.32 141.83 L281.82 142.2 L282.32 142.58 L282.82 142.95 L283.32 143.32 L283.82 143.69 L284.32 144.05 L284.82 144.42 L285.32 144.78 L285.82 145.14 L286.32 145.49 L286.82 145.85 L287.32 146.19 L287.82 146.54 L288.32 146.88 L288.82 147.22 L289.32 147.55 L289.82 147.88 L290.32 148.2 L290.82 148.52 L291.32 148.83 L291.82 149.14 L292.32 149.44 L292.82 149.74 L293.32 150.03 L293.82 150.32 L294.32 150.6 L294.82 150.87 L295.32 151.14 L295.82 151.41 L296.32 151.66 L296.82 151.91 L297.32 152.16 L297.82 152.4 L298.32 152.63 L298.82 152.86 L299.32 153.08 L299.82 153.29 L300.32 153.5 L300.82 153.7 L301.32 153.9 L301.82 154.09 L302.32 154.28 L302.82 154.46 L303.32 154.64 L303.82 154.81 L304.32 154.98 L304.82 155.14 L305.32 155.3 L305.82 155.45 L306.32 155.6 L306.82 155.75 L307.32 155.89 L307.82 156.03 L308.32 156.17 L308.82 156.3 L309.32 156.43 L309.82 156.55 L310.32 156.68 L310.82 156.8 L311.32 156.91 L311.82 157.03 L312.32 157.14 L312.82 157.25 L313.32 157.36 L313.82 157.47 L314.32 157.57 L314.82 157.67 L315.32 157.78 L315.82 157.88 L316.32 157.98 L316.82 158.07 L317.32 158.17 L317.82 158.27 L318.32 158.36 L318.82 158.46 L319.32 158.56 L319.82 158.65 L320.32 158.75 L320.82 158.84 L321.32 158.94 L321.82 159.03 L322.32 159.13 L322.82 159.23 L323.32 159.33 L323.82 159.43 L324.32 159.53 L324.82 159.63 L325.32 159.73 L325.82 159.84 L326.32 159.95 L326.82 160.05 L327.32 160.17 L327.82 160.28 L328.32 160.39 L328.82 160.51 L329.32 160.63 L329.82 160.76 L330.32 160.88 L330.82 161.01 L331.32 161.14 L331.82 161.28 L332.32 161.42 L332.82 161.56 L333.32 161.71 L333.82 161.86 L334.32 162.02 L334.82 162.18 L335.32 162.34 L335.82 162.51 L336.32 162.68 L336.82 162.86 L337.32 163.04 L337.82 163.23 L338.32 163.42 L338.82 163.62 L339.32 163.83 L339.82 164.03 L340.32 164.25 L340.82 164.47 L341.32 164.7" fill="none" stroke="#0000ff" stroke-width="1.3" stroke-linejoin="round" stroke-linecap="butt" clip-path="url(#cr1)"/>
<path d="M216.82 116.24 L217.32 116.24 L217.82 116.24 L218.32 116.25 L218.82 116.26 L219.32 116.27 L219.82 116.29 L220.32 116.31 L220.82 116.33 L221.32 116.35 L221.82 116.38 L222.32 116.41 L222.82 116.44 L223.32 116.48 L223.82 116.51 L224.32 116.56 L224.82 116.6 L225.32 116.65 L225.82 116.7 L226.32 116.75 L226.82 116.81 L227.32 116.87 L227.82 116.93 L228.32 117 L228.82 117.07 L229.32 117.14 L229.82 117.21 L230.32 117.29 L230.82 117.37 L231.32 117.46 L231.82 117.54 L232.32 117.63 L232.82 117.73 L233.32 117.82 L233.82 117.92 L234.32 118.02 L234.82 118.13 L235.32 118.24 L235.82 118.35 L236.32 118.46 L236.82 118.58 L237.32 118.7 L237.82 118.83 L238.32 118.95 L238.82 119.08 L239.32 119.22 L239.82 119.35 L240.32 119.49 L240.82 119.64 L241.32 119.78 L241.82 119.93 L242.32 120.08 L242.82 120.24 L243.32 120.4 L243.82 120.56 L244.32 120.72 L244.82 120.89 L245.32 121.06 L245.82 121.23 L246.32 121.41 L246.82 121.59 L247.32 121.78 L247.82 121.96 L248.32 122.15 L248.82 122.35 L249.32 122.54 L249.82 122.74 L250.32 122.95 L250.82 123.15 L251.32 123.36 L251.82 123.58 L252.32 123.79 L252.82 124.01 L253.32 124.23 L253.82 124.46 L254.32 124.69 L254.82 124.92 L255.32 125.16 L255.82 125.39 L256.32 125.64 L256.82 125.88 L257.32 126.13 L257.82 126.38 L258.32 126.64 L258.82 126.9 L259.32 127.16 L259.82 127.42 L260.32 127.69 L260.82 127.96 L261.32 128.24 L261.82 128.52 L262.32 128.8 L262.82 129.08 L263.32 129.37 L263.82 129.66 L264.32 129.96 L264.82 130.26 L265.32 130.56 L265.82 130.86 L266.32 131.17 L266.82 131.48 L267.32 131.8 L267.82 132.12 L268.32 132.44 L268.82 132.77 L269.32 133.09 L269.82 133.43 L270.32 133.76 L270.82 134.1 L271.32 134.44 L271.82 134.79 L272.32 135.14 L272.82 135.49 L273.32 135.85 L273.82 136.21 L274.32 136.57 L274.82 136.93 L275.32 137.3 L275.82 137.67 L276.32 138.04 L276.82 138.42 L277.32 138.79 L277.82 139.16 L278.32 139.54 L278.82 139.92 L279.32 140.29 L279.82 140.67 L280.32 141.05 L280.82 141.42 L281.32 141.8 L281.82 142.17 L282.32 142.55 L282.82 142.92 L283.32 143.29 L283.82 143.66 L284.32 144.02 L284.82 144.38 L285.32 144.74 L285.82 145.1 L286.32 145.45 L286.82 145.8 L287.32 146.15 L287.82 146.49 L288.32 146.83 L288.82 147.16 L289.32 147.49 L289.82 147.81 L290.32 148.12 L290.82 148.44 L291.32 148.74 L291.82 149.04 L292.32 149.34 L292.82 149.62 L293.32 149.91 L293.82 150.18 L294.32 150.46 L294.82 150.72 L295.32 150.98 L295.82 151.23 L296.32 151.48 L296.82 151.72 L297.32 151.95 L297.82 152.18 L298.32 152.4 L298.82 152.61 L299.32 152.82 L299.82 153.02 L300.32 153.22 L300.82 153.41 L301.32 153.59 L301.82 153.77 L302.32 153.95 L302.82 154.11 L303.32 154.28 L303.82 154.43 L304.32 154.59 L304.82 154.74 L305.32 154.88 L305.82 155.02 L306.32 155.16 L306.82 155.29 L307.32 155.42 L307.82 155.54 L308.32 155.66 L308.82 155.78 L309.32 155.9 L309.82 156.01 L310.32 156.12 L310.82 156.22 L311.32 156.33 L311.82 156.43 L312.32 156.53 L312.82 156.62 L313.32 156.72 L313.82 156.81 L314.32 156.91 L314.82 157 L315.32 157.08 L315.82 157.17 L316.32 157.26 L316.82 157.35 L317.32 157.43 L317.82 157.52 L318.32 157.6 L318.82 157.69 L319.32 157.77 L319.82 157.85 L320.32 157.94 L320.82 158.02 L321.32 158.11 L321.82 158.2 L322.32 158.29 L322.82 158.37 L323.32 158.46 L323.82 158.56 L324.32 158.65 L324.82 158.74 L325.32 158.84 L325.82 158.94 L326.32 159.04 L326.82 159.14 L327.32 159.25 L327.82 159.36 L328.32 159.47 L328.82 159.58 L329.32 159.7 L329.82 159.82 L330.32 159.94 L330.82 160.07 L331.32 160.2 L331.82 160.34 L332.32 160.48 L332.82 160.62 L333.32 160.77 L333.82 160.92 L334.32 161.08 L334.82 161.24 L335.32 161.41 L335.82 161.58 L336.32 161.76 L336.82 161.94 L337.32 162.13 L337.82 162.32 L338.32 162.52 L338.82 162.73 L339.32 162.94 L339.82 163.16 L340.32 163.39 L340.82 163.62 L341.32 163.86" fill="none" stroke="#ff0000" stroke-width="1.3" stroke-linejoin="round" stroke-linecap="butt" clip-path="url(#cr1)"/>
<path d="M216.82 116.18 L217.32 116.19 L217.82 116.2 L218.32 116.21 L218.82 116.22 L219.32 116.24 L219.82 116.26 L220.32 116.29 L220.82 116.31 L221.32 116.34 L221.82 116.37 L222.32 116.41 L222.82 116.44 L223.32 116.48 L223.82 116.53 L224.32 116.57 L224.82 116.62 L225.32 116.67 L225.82 116.72 L226.32 116.78 L226.82 116.84 L227.32 116.9 L227.82 116.97 L228.32 117.03 L228.82 117.1 L229.32 117.18 L229.82 117.25 L230.32 117.33 L230.82 117.41 L231.32 117.5 L231.82 117.59 L232.32 117.68 L232.82 117.77 L233.32 117.87 L233.82 117.97 L234.32 118.07 L234.82 118.17 L235.32 118.28 L235.82 118.39 L236.32 118.51 L236.82 118.62 L237.32 118.74 L237.82 118.87 L238.32 118.99 L238.82 119.12 L239.32 119.25 L239.82 119.39 L240.32 119.53 L240.82 119.67 L241.32 119.81 L241.82 119.96 L242.32 120.11 L242.82 120.26 L243.32 120.42 L243.82 120.58 L244.32 120.74 L244.82 120.91 L245.32 121.08 L245.82 121.25 L246.32 121.42 L246.82 121.6 L247.32 121.78 L247.82 121.97 L248.32 122.16 L248.82 122.35 L249.32 122.54 L249.82 122.74 L250.32 122.94 L250.82 123.14 L251.32 123.35 L251.82 123.56 L252.32 123.78 L252.82 123.99 L253.32 124.21 L253.82 124.44 L254.32 124.66 L254.82 124.89 L255.32 125.13 L255.82 125.36 L256.32 125.6 L256.82 125.85 L257.32 126.09 L257.82 126.34 L258.32 126.6 L258.82 126.85 L259.32 127.11 L259.82 127.38 L260.32 127.65 L260.82 127.92 L261.32 128.19 L261.82 128.47 L262.32 128.75 L262.82 129.03 L263.32 129.32 L263.82 129.61 L264.32 129.91 L264.82 130.2 L265.32 130.51 L265.82 130.81 L266.32 131.12 L266.82 131.43 L267.32 131.75 L267.82 132.07 L268.32 132.39 L268.82 132.71 L269.32 133.04 L269.82 133.38 L270.32 133.71 L270.82 134.06 L271.32 134.4 L271.82 134.75 L272.32 135.1 L272.82 135.45 L273.32 135.81 L273.82 136.17 L274.32 136.54 L274.82 136.91 L275.32 137.28 L275.82 137.65 L276.32 138.02 L276.82 138.4 L277.32 138.78 L277.82 139.15 L278.32 139.53 L278.82 139.91 L279.32 140.29 L279.82 140.67 L280.32 141.05 L280.82 141.43 L281.32 141.81 L281.82 142.18 L282.32 142.55 L282.82 142.93 L283.32 143.3 L283.82 143.66 L284.32 144.03 L284.82 144.39 L285.32 144.75 L285.82 145.1 L286.32 145.45 L286.82 145.8 L287.32 146.14 L287.82 146.48 L288.32 146.81 L288.82 147.14 L289.32 147.46 L289.82 147.77 L290.32 148.08 L290.82 148.38 L291.32 148.68 L291.82 148.97 L292.32 149.25 L292.82 149.53 L293.32 149.8 L293.82 150.06 L294.32 150.32 L294.82 150.57 L295.32 150.82 L295.82 151.06 L296.32 151.29 L296.82 151.51 L297.32 151.73 L297.82 151.95 L298.32 152.15 L298.82 152.35 L299.32 152.54 L299.82 152.73 L300.32 152.91 L300.82 153.08 L301.32 153.25 L301.82 153.42 L302.32 153.57 L302.82 153.73 L303.32 153.87 L303.82 154.02 L304.32 154.15 L304.82 154.29 L305.32 154.41 L305.82 154.54 L306.32 154.66 L306.82 154.78 L307.32 154.89 L307.82 155 L308.32 155.1 L308.82 155.21 L309.32 155.31 L309.82 155.4 L310.32 155.5 L310.82 155.59 L311.32 155.68 L311.82 155.76 L312.32 155.85 L312.82 155.93 L313.32 156.01 L313.82 156.09 L314.32 156.17 L314.82 156.25 L315.32 156.32 L315.82 156.4 L316.32 156.47 L316.82 156.54 L317.32 156.62 L317.82 156.69 L318.32 156.76 L318.82 156.84 L319.32 156.91 L319.82 156.98 L320.32 157.06 L320.82 157.13 L321.32 157.21 L321.82 157.29 L322.32 157.37 L322.82 157.45 L323.32 157.53 L323.82 157.61 L324.32 157.7 L324.82 157.78 L325.32 157.87 L325.82 157.97 L326.32 158.06 L326.82 158.16 L327.32 158.26 L327.82 158.36 L328.32 158.47 L328.82 158.58 L329.32 158.69 L329.82 158.81 L330.32 158.93 L330.82 159.06 L331.32 159.19 L331.82 159.33 L332.32 159.46 L332.82 159.61 L333.32 159.76 L333.82 159.91 L334.32 160.07 L334.82 160.24 L335.32 160.41 L335.82 160.58 L336.32 160.77 L336.82 160.96 L337.32 161.15 L337.82 161.35 L338.32 161.56 L338.82 161.77 L339.32 162 L339.82 162.23 L340.32 162.46 L340.82 162.71 L341.32 162.96" fill="none" stroke="#000" stroke-width="1.3" stroke-linejoin="round" stroke-linecap="butt" clip-path="url(#cr1)"/>
<rect x="210.6" y="112.5" width="136.79999999999998" height="80.0" fill="none" stroke="#666" stroke-width="0.9"/>
<line x1="216.82" y1="192.5" x2="216.82" y2="195.1" stroke="#666" stroke-width="0.9"/>
<text x="216.82" y="203.3" text-anchor="middle" class="t">0.0</text>
<line x1="248.83" y1="192.5" x2="248.83" y2="195.1" stroke="#666" stroke-width="0.9"/>
<text x="248.83" y="203.3" text-anchor="middle" class="t">0.2</text>
<line x1="280.84" y1="192.5" x2="280.84" y2="195.1" stroke="#666" stroke-width="0.9"/>
<text x="280.84" y="203.3" text-anchor="middle" class="t">0.4</text>
<line x1="312.85" y1="192.5" x2="312.85" y2="195.1" stroke="#666" stroke-width="0.9"/>
<text x="312.85" y="203.3" text-anchor="middle" class="t">0.6</text>
<line x1="344.86" y1="192.5" x2="344.86" y2="195.1" stroke="#666" stroke-width="0.9"/>
<text x="344.86" y="203.3" text-anchor="middle" class="t">0.8</text>
<line x1="208.9" y1="191.62" x2="210.6" y2="191.62" stroke="#555" stroke-width="0.8"/>
<line x1="208.9" y1="187.69" x2="210.6" y2="187.69" stroke="#555" stroke-width="0.8"/>
<line x1="208.9" y1="184.48" x2="210.6" y2="184.48" stroke="#555" stroke-width="0.8"/>
<line x1="208.9" y1="181.77" x2="210.6" y2="181.77" stroke="#555" stroke-width="0.8"/>
<line x1="208.9" y1="179.42" x2="210.6" y2="179.42" stroke="#555" stroke-width="0.8"/>
<line x1="208.9" y1="177.35" x2="210.6" y2="177.35" stroke="#555" stroke-width="0.8"/>
<line x1="208" y1="175.5" x2="210.6" y2="175.5" stroke="#666" stroke-width="0.9"/>
<text x="190.1" y="178.7" class="t">10<tspan font-size="6.9" dy="-2.9">−4</tspan></text>
<line x1="208.9" y1="163.31" x2="210.6" y2="163.31" stroke="#555" stroke-width="0.8"/>
<line x1="208.9" y1="156.18" x2="210.6" y2="156.18" stroke="#555" stroke-width="0.8"/>
<line x1="208.9" y1="151.12" x2="210.6" y2="151.12" stroke="#555" stroke-width="0.8"/>
<line x1="208.9" y1="147.19" x2="210.6" y2="147.19" stroke="#555" stroke-width="0.8"/>
<line x1="208.9" y1="143.98" x2="210.6" y2="143.98" stroke="#555" stroke-width="0.8"/>
<line x1="208.9" y1="141.27" x2="210.6" y2="141.27" stroke="#555" stroke-width="0.8"/>
<line x1="208.9" y1="138.92" x2="210.6" y2="138.92" stroke="#555" stroke-width="0.8"/>
<line x1="208.9" y1="136.85" x2="210.6" y2="136.85" stroke="#555" stroke-width="0.8"/>
<line x1="208" y1="135" x2="210.6" y2="135" stroke="#666" stroke-width="0.9"/>
<text x="190.1" y="138.2" class="t">10<tspan font-size="6.9" dy="-2.9">−3</tspan></text>
<line x1="208.9" y1="122.81" x2="210.6" y2="122.81" stroke="#555" stroke-width="0.8"/>
<line x1="208.9" y1="115.68" x2="210.6" y2="115.68" stroke="#555" stroke-width="0.8"/>
<text transform="translate(182.3 154.4) rotate(-90)" text-anchor="middle" class="l" style="font-size:10.9px">Amplitude</text>
<text x="278.7" y="214.6" text-anchor="middle" class="l" style="font-size:11.1px">Spatial frequency</text>
<rect x="302.3" y="115.4" width="42.3" height="32.2" rx="1.5" fill="#fff" stroke="#d6d6d6" stroke-width="0.8"/>
<line x1="304.3" y1="119.2" x2="316" y2="119.2" stroke="#008000" stroke-width="1.3"/>
<text x="319.8" y="121.18" font-size="6.0" class="lg" style="stroke-width:0.14px"><tspan font-size="5.6">Time zero</tspan></text>
<line x1="304.3" y1="127.1" x2="316" y2="127.1" stroke="#0000ff" stroke-width="1.3"/>
<text x="319.8" y="129.08" font-size="6.0" class="lg" style="stroke-width:0.14px"><tspan font-style="italic">a</tspan><tspan font-size="4.32" dy="1.2">0</tspan><tspan dy="-1.2"> = 0.2</tspan></text>
<line x1="304.3" y1="135" x2="316" y2="135" stroke="#ff0000" stroke-width="1.3"/>
<text x="319.8" y="136.98" font-size="6.0" class="lg" style="stroke-width:0.14px"><tspan font-style="italic">a</tspan><tspan font-size="4.32" dy="1.2">0</tspan><tspan dy="-1.2"> = 0.4</tspan></text>
<line x1="304.3" y1="142.9" x2="316" y2="142.9" stroke="#000" stroke-width="1.3"/>
<text x="319.8" y="144.88" font-size="6.0" class="lg" style="stroke-width:0.14px"><tspan font-style="italic">a</tspan><tspan font-size="4.32" dy="1.2">0</tspan><tspan dy="-1.2"> = 0.6</tspan></text>
<clipPath id="cr2"><rect x="210.6" y="221.9" width="136.79999999999998" height="80.3"/></clipPath>
<path d="M216.82 225.1 L217.32 225.11 L217.82 225.13 L218.32 225.14 L218.82 225.16 L219.32 225.18 L219.82 225.21 L220.32 225.23 L220.82 225.26 L221.32 225.29 L221.82 225.32 L222.32 225.36 L222.82 225.39 L223.32 225.43 L223.82 225.47 L224.32 225.51 L224.82 225.56 L225.32 225.61 L225.82 225.66 L226.32 225.71 L226.82 225.76 L227.32 225.82 L227.82 225.88 L228.32 225.94 L228.82 226 L229.32 226.06 L229.82 226.13 L230.32 226.2 L230.82 226.27 L231.32 226.34 L231.82 226.42 L232.32 226.5 L232.82 226.58 L233.32 226.66 L233.82 226.75 L234.32 226.84 L234.82 226.93 L235.32 227.02 L235.82 227.11 L236.32 227.21 L236.82 227.31 L237.32 227.41 L237.82 227.51 L238.32 227.62 L238.82 227.73 L239.32 227.84 L239.82 227.95 L240.32 228.07 L240.82 228.19 L241.32 228.31 L241.82 228.43 L242.32 228.56 L242.82 228.68 L243.32 228.81 L243.82 228.95 L244.32 229.08 L244.82 229.22 L245.32 229.36 L245.82 229.5 L246.32 229.65 L246.82 229.79 L247.32 229.94 L247.82 230.09 L248.32 230.25 L248.82 230.41 L249.32 230.57 L249.82 230.73 L250.32 230.89 L250.82 231.06 L251.32 231.23 L251.82 231.4 L252.32 231.58 L252.82 231.76 L253.32 231.94 L253.82 232.12 L254.32 232.3 L254.82 232.49 L255.32 232.68 L255.82 232.87 L256.32 233.07 L256.82 233.27 L257.32 233.47 L257.82 233.67 L258.32 233.88 L258.82 234.09 L259.32 234.3 L259.82 234.51 L260.32 234.73 L260.82 234.95 L261.32 235.17 L261.82 235.39 L262.32 235.62 L262.82 235.85 L263.32 236.08 L263.82 236.32 L264.32 236.56 L264.82 236.8 L265.32 237.04 L265.82 237.29 L266.32 237.54 L266.82 237.79 L267.32 238.04 L267.82 238.3 L268.32 238.56 L268.82 238.82 L269.32 239.09 L269.82 239.36 L270.32 239.63 L270.82 239.9 L271.32 240.18 L271.82 240.46 L272.32 240.74 L272.82 241.02 L273.32 241.31 L273.82 241.6 L274.32 241.9 L274.82 242.19 L275.32 242.49 L275.82 242.79 L276.32 243.1 L276.82 243.41 L277.32 243.72 L277.82 244.03 L278.32 244.35 L278.82 244.67 L279.32 244.99 L279.82 245.32 L280.32 245.65 L280.82 245.98 L281.32 246.31 L281.82 246.65 L282.32 246.99 L282.82 247.34 L283.32 247.69 L283.82 248.04 L284.32 248.4 L284.82 248.75 L285.32 249.12 L285.82 249.48 L286.32 249.85 L286.82 250.23 L287.32 250.6 L287.82 250.98 L288.32 251.37 L288.82 251.76 L289.32 252.15 L289.82 252.55 L290.32 252.95 L290.82 253.35 L291.32 253.76 L291.82 254.17 L292.32 254.59 L292.82 255.01 L293.32 255.44 L293.82 255.86 L294.32 256.3 L294.82 256.74 L295.32 257.18 L295.82 257.63 L296.32 258.08 L296.82 258.53 L297.32 258.99 L297.82 259.46 L298.32 259.93 L298.82 260.4 L299.32 260.88 L299.82 261.36 L300.32 261.85 L300.82 262.35 L301.32 262.84 L301.82 263.35 L302.32 263.86 L302.82 264.37 L303.32 264.89 L303.82 265.41 L304.32 265.94 L304.82 266.47 L305.32 267.01 L305.82 267.56 L306.32 268.11 L306.82 268.66 L307.32 269.22 L307.82 269.79 L308.32 270.36 L308.82 270.93 L309.32 271.52 L309.82 272.1 L310.32 272.7 L310.82 273.3 L311.32 273.9 L311.82 274.51 L312.32 275.13 L312.82 275.75 L313.32 276.38 L313.82 277.01 L314.32 277.65 L314.82 278.28 L315.32 278.92 L315.82 279.56 L316.32 280.19 L316.82 280.83 L317.32 281.45 L317.82 282.07 L318.32 282.69 L318.82 283.29 L319.32 283.88 L319.82 284.47 L320.32 285.04 L320.82 285.59 L321.32 286.13 L321.82 286.66 L322.32 287.16 L322.82 287.65 L323.32 288.12 L323.82 288.58 L324.32 289.01 L324.82 289.44 L325.32 289.84 L325.82 290.24 L326.32 290.62 L326.82 290.99 L327.32 291.35 L327.82 291.69 L328.32 292.03 L328.82 292.36 L329.32 292.67 L329.82 292.98 L330.32 293.29 L330.82 293.58 L331.32 293.87 L331.82 294.15 L332.32 294.42 L332.82 294.69 L333.32 294.95 L333.82 295.2 L334.32 295.44 L334.82 295.68 L335.32 295.91 L335.82 296.14 L336.32 296.36 L336.82 296.57 L337.32 296.78 L337.82 296.98 L338.32 297.17 L338.82 297.36 L339.32 297.55 L339.82 297.73 L340.32 297.9 L340.82 298.07 L341.32 298.24" fill="none" stroke="#008000" stroke-width="1.3" stroke-linejoin="round" stroke-linecap="butt" clip-path="url(#cr2)"/>
<path d="M216.82 225.07 L217.32 225.09 L217.82 225.11 L218.32 225.13 L218.82 225.16 L219.32 225.18 L219.82 225.21 L220.32 225.24 L220.82 225.27 L221.32 225.3 L221.82 225.34 L222.32 225.37 L222.82 225.41 L223.32 225.45 L223.82 225.5 L224.32 225.54 L224.82 225.59 L225.32 225.63 L225.82 225.68 L226.32 225.74 L226.82 225.79 L227.32 225.85 L227.82 225.9 L228.32 225.97 L228.82 226.03 L229.32 226.09 L229.82 226.16 L230.32 226.23 L230.82 226.3 L231.32 226.37 L231.82 226.44 L232.32 226.52 L232.82 226.6 L233.32 226.68 L233.82 226.77 L234.32 226.85 L234.82 226.94 L235.32 227.03 L235.82 227.12 L236.32 227.22 L236.82 227.31 L237.32 227.41 L237.82 227.51 L238.32 227.62 L238.82 227.72 L239.32 227.83 L239.82 227.94 L240.32 228.06 L240.82 228.17 L241.32 228.29 L241.82 228.41 L242.32 228.53 L242.82 228.66 L243.32 228.79 L243.82 228.92 L244.32 229.05 L244.82 229.18 L245.32 229.32 L245.82 229.46 L246.32 229.6 L246.82 229.75 L247.32 229.9 L247.82 230.05 L248.32 230.2 L248.82 230.36 L249.32 230.51 L249.82 230.67 L250.32 230.84 L250.82 231 L251.32 231.17 L251.82 231.34 L252.32 231.52 L252.82 231.69 L253.32 231.87 L253.82 232.05 L254.32 232.24 L254.82 232.42 L255.32 232.61 L255.82 232.81 L256.32 233 L256.82 233.2 L257.32 233.4 L257.82 233.61 L258.32 233.81 L258.82 234.02 L259.32 234.23 L259.82 234.45 L260.32 234.67 L260.82 234.89 L261.32 235.11 L261.82 235.34 L262.32 235.57 L262.82 235.8 L263.32 236.04 L263.82 236.28 L264.32 236.52 L264.82 236.76 L265.32 237.01 L265.82 237.26 L266.32 237.52 L266.82 237.77 L267.32 238.03 L267.82 238.3 L268.32 238.56 L268.82 238.83 L269.32 239.1 L269.82 239.38 L270.32 239.66 L270.82 239.94 L271.32 240.22 L271.82 240.51 L272.32 240.8 L272.82 241.1 L273.32 241.39 L273.82 241.69 L274.32 242 L274.82 242.31 L275.32 242.62 L275.82 242.93 L276.32 243.24 L276.82 243.56 L277.32 243.89 L277.82 244.21 L278.32 244.54 L278.82 244.87 L279.32 245.2 L279.82 245.54 L280.32 245.87 L280.82 246.21 L281.32 246.56 L281.82 246.9 L282.32 247.25 L282.82 247.6 L283.32 247.95 L283.82 248.31 L284.32 248.67 L284.82 249.03 L285.32 249.39 L285.82 249.75 L286.32 250.12 L286.82 250.48 L287.32 250.85 L287.82 251.23 L288.32 251.6 L288.82 251.97 L289.32 252.35 L289.82 252.73 L290.32 253.11 L290.82 253.49 L291.32 253.87 L291.82 254.26 L292.32 254.64 L292.82 255.02 L293.32 255.41 L293.82 255.79 L294.32 256.18 L294.82 256.56 L295.32 256.94 L295.82 257.32 L296.32 257.7 L296.82 258.08 L297.32 258.46 L297.82 258.83 L298.32 259.21 L298.82 259.58 L299.32 259.95 L299.82 260.31 L300.32 260.68 L300.82 261.04 L301.32 261.39 L301.82 261.75 L302.32 262.1 L302.82 262.44 L303.32 262.78 L303.82 263.12 L304.32 263.45 L304.82 263.78 L305.32 264.11 L305.82 264.42 L306.32 264.74 L306.82 265.05 L307.32 265.35 L307.82 265.65 L308.32 265.94 L308.82 266.23 L309.32 266.51 L309.82 266.79 L310.32 267.07 L310.82 267.34 L311.32 267.6 L311.82 267.86 L312.32 268.12 L312.82 268.37 L313.32 268.61 L313.82 268.85 L314.32 269.08 L314.82 269.31 L315.32 269.54 L315.82 269.76 L316.32 269.97 L316.82 270.18 L317.32 270.39 L317.82 270.59 L318.32 270.78 L318.82 270.97 L319.32 271.15 L319.82 271.33 L320.32 271.51 L320.82 271.68 L321.32 271.84 L321.82 272 L322.32 272.15 L322.82 272.3 L323.32 272.44 L323.82 272.58 L324.32 272.72 L324.82 272.84 L325.32 272.97 L325.82 273.09 L326.32 273.21 L326.82 273.32 L327.32 273.42 L327.82 273.53 L328.32 273.63 L328.82 273.72 L329.32 273.82 L329.82 273.91 L330.32 273.99 L330.82 274.08 L331.32 274.16 L331.82 274.24 L332.32 274.31 L332.82 274.38 L333.32 274.45 L333.82 274.52 L334.32 274.59 L334.82 274.65 L335.32 274.71 L335.82 274.77 L336.32 274.83 L336.82 274.89 L337.32 274.94 L337.82 275 L338.32 275.05 L338.82 275.11 L339.32 275.16 L339.82 275.21 L340.32 275.26 L340.82 275.31 L341.32 275.36" fill="none" stroke="#0000ff" stroke-width="1.3" stroke-linejoin="round" stroke-linecap="butt" clip-path="url(#cr2)"/>
<path d="M216.82 225.07 L217.32 225.09 L217.82 225.11 L218.32 225.13 L218.82 225.15 L219.32 225.18 L219.82 225.21 L220.32 225.24 L220.82 225.27 L221.32 225.3 L221.82 225.34 L222.32 225.38 L222.82 225.42 L223.32 225.46 L223.82 225.5 L224.32 225.55 L224.82 225.59 L225.32 225.64 L225.82 225.69 L226.32 225.74 L226.82 225.8 L227.32 225.85 L227.82 225.91 L228.32 225.97 L228.82 226.03 L229.32 226.1 L229.82 226.17 L230.32 226.23 L230.82 226.3 L231.32 226.38 L231.82 226.45 L232.32 226.53 L232.82 226.61 L233.32 226.69 L233.82 226.77 L234.32 226.86 L234.82 226.95 L235.32 227.04 L235.82 227.13 L236.32 227.22 L236.82 227.32 L237.32 227.42 L237.82 227.52 L238.32 227.62 L238.82 227.73 L239.32 227.83 L239.82 227.95 L240.32 228.06 L240.82 228.17 L241.32 228.29 L241.82 228.41 L242.32 228.53 L242.82 228.66 L243.32 228.78 L243.82 228.91 L244.32 229.05 L244.82 229.18 L245.32 229.32 L245.82 229.46 L246.32 229.6 L246.82 229.74 L247.32 229.89 L247.82 230.04 L248.32 230.19 L248.82 230.35 L249.32 230.5 L249.82 230.66 L250.32 230.83 L250.82 230.99 L251.32 231.16 L251.82 231.33 L252.32 231.5 L252.82 231.68 L253.32 231.86 L253.82 232.04 L254.32 232.23 L254.82 232.41 L255.32 232.6 L255.82 232.8 L256.32 232.99 L256.82 233.19 L257.32 233.39 L257.82 233.59 L258.32 233.8 L258.82 234.01 L259.32 234.22 L259.82 234.44 L260.32 234.66 L260.82 234.88 L261.32 235.1 L261.82 235.33 L262.32 235.56 L262.82 235.79 L263.32 236.03 L263.82 236.27 L264.32 236.51 L264.82 236.76 L265.32 237.01 L265.82 237.26 L266.32 237.51 L266.82 237.77 L267.32 238.03 L267.82 238.3 L268.32 238.56 L268.82 238.83 L269.32 239.11 L269.82 239.39 L270.32 239.67 L270.82 239.95 L271.32 240.24 L271.82 240.53 L272.32 240.82 L272.82 241.12 L273.32 241.42 L273.82 241.72 L274.32 242.02 L274.82 242.33 L275.32 242.65 L275.82 242.96 L276.32 243.28 L276.82 243.6 L277.32 243.92 L277.82 244.25 L278.32 244.58 L278.82 244.91 L279.32 245.25 L279.82 245.58 L280.32 245.92 L280.82 246.26 L281.32 246.61 L281.82 246.95 L282.32 247.3 L282.82 247.65 L283.32 248 L283.82 248.36 L284.32 248.71 L284.82 249.07 L285.32 249.43 L285.82 249.79 L286.32 250.15 L286.82 250.52 L287.32 250.88 L287.82 251.25 L288.32 251.62 L288.82 251.98 L289.32 252.36 L289.82 252.73 L290.32 253.1 L290.82 253.47 L291.32 253.84 L291.82 254.21 L292.32 254.59 L292.82 254.96 L293.32 255.33 L293.82 255.69 L294.32 256.06 L294.82 256.42 L295.32 256.79 L295.82 257.15 L296.32 257.5 L296.82 257.86 L297.32 258.21 L297.82 258.55 L298.32 258.9 L298.82 259.23 L299.32 259.57 L299.82 259.9 L300.32 260.22 L300.82 260.54 L301.32 260.85 L301.82 261.16 L302.32 261.46 L302.82 261.75 L303.32 262.04 L303.82 262.32 L304.32 262.59 L304.82 262.86 L305.32 263.12 L305.82 263.37 L306.32 263.61 L306.82 263.85 L307.32 264.07 L307.82 264.3 L308.32 264.51 L308.82 264.72 L309.32 264.92 L309.82 265.11 L310.32 265.3 L310.82 265.49 L311.32 265.66 L311.82 265.84 L312.32 266 L312.82 266.16 L313.32 266.32 L313.82 266.47 L314.32 266.61 L314.82 266.75 L315.32 266.89 L315.82 267.02 L316.32 267.14 L316.82 267.27 L317.32 267.38 L317.82 267.5 L318.32 267.61 L318.82 267.72 L319.32 267.82 L319.82 267.92 L320.32 268.02 L320.82 268.11 L321.32 268.2 L321.82 268.29 L322.32 268.38 L322.82 268.46 L323.32 268.54 L323.82 268.62 L324.32 268.7 L324.82 268.77 L325.32 268.84 L325.82 268.92 L326.32 268.99 L326.82 269.05 L327.32 269.12 L327.82 269.19 L328.32 269.26 L328.82 269.32 L329.32 269.39 L329.82 269.45 L330.32 269.52 L330.82 269.58 L331.32 269.65 L331.82 269.71 L332.32 269.78 L332.82 269.84 L333.32 269.91 L333.82 269.98 L334.32 270.05 L334.82 270.11 L335.32 270.19 L335.82 270.26 L336.32 270.33 L336.82 270.41 L337.32 270.49 L337.82 270.57 L338.32 270.65 L338.82 270.73 L339.32 270.82 L339.82 270.91 L340.32 271 L340.82 271.1 L341.32 271.19" fill="none" stroke="#ff0000" stroke-width="1.3" stroke-linejoin="round" stroke-linecap="butt" clip-path="url(#cr2)"/>
<path d="M216.82 225.1 L217.32 225.12 L217.82 225.13 L218.32 225.15 L218.82 225.17 L219.32 225.19 L219.82 225.22 L220.32 225.25 L220.82 225.27 L221.32 225.3 L221.82 225.34 L222.32 225.37 L222.82 225.41 L223.32 225.45 L223.82 225.49 L224.32 225.53 L224.82 225.57 L225.32 225.62 L225.82 225.67 L226.32 225.72 L226.82 225.77 L227.32 225.83 L227.82 225.89 L228.32 225.95 L228.82 226.01 L229.32 226.07 L229.82 226.14 L230.32 226.21 L230.82 226.28 L231.32 226.35 L231.82 226.42 L232.32 226.5 L232.82 226.58 L233.32 226.66 L233.82 226.74 L234.32 226.83 L234.82 226.92 L235.32 227.01 L235.82 227.1 L236.32 227.2 L236.82 227.29 L237.32 227.39 L237.82 227.5 L238.32 227.6 L238.82 227.71 L239.32 227.82 L239.82 227.93 L240.32 228.04 L240.82 228.16 L241.32 228.28 L241.82 228.4 L242.32 228.52 L242.82 228.65 L243.32 228.78 L243.82 228.91 L244.32 229.04 L244.82 229.18 L245.32 229.32 L245.82 229.46 L246.32 229.6 L246.82 229.75 L247.32 229.9 L247.82 230.05 L248.32 230.2 L248.82 230.36 L249.32 230.52 L249.82 230.68 L250.32 230.85 L250.82 231.01 L251.32 231.18 L251.82 231.36 L252.32 231.53 L252.82 231.71 L253.32 231.89 L253.82 232.07 L254.32 232.26 L254.82 232.45 L255.32 232.64 L255.82 232.83 L256.32 233.03 L256.82 233.23 L257.32 233.43 L257.82 233.64 L258.32 233.84 L258.82 234.05 L259.32 234.27 L259.82 234.48 L260.32 234.7 L260.82 234.92 L261.32 235.15 L261.82 235.38 L262.32 235.61 L262.82 235.84 L263.32 236.08 L263.82 236.32 L264.32 236.56 L264.82 236.81 L265.32 237.05 L265.82 237.3 L266.32 237.56 L266.82 237.82 L267.32 238.08 L267.82 238.34 L268.32 238.61 L268.82 238.87 L269.32 239.15 L269.82 239.42 L270.32 239.7 L270.82 239.98 L271.32 240.27 L271.82 240.55 L272.32 240.84 L272.82 241.14 L273.32 241.43 L273.82 241.73 L274.32 242.04 L274.82 242.34 L275.32 242.65 L275.82 242.96 L276.32 243.28 L276.82 243.6 L277.32 243.92 L277.82 244.24 L278.32 244.56 L278.82 244.89 L279.32 245.22 L279.82 245.55 L280.32 245.89 L280.82 246.22 L281.32 246.56 L281.82 246.91 L282.32 247.25 L282.82 247.59 L283.32 247.94 L283.82 248.29 L284.32 248.64 L284.82 248.99 L285.32 249.35 L285.82 249.71 L286.32 250.06 L286.82 250.42 L287.32 250.78 L287.82 251.15 L288.32 251.51 L288.82 251.88 L289.32 252.24 L289.82 252.61 L290.32 252.98 L290.82 253.35 L291.32 253.71 L291.82 254.08 L292.32 254.45 L292.82 254.81 L293.32 255.18 L293.82 255.54 L294.32 255.9 L294.82 256.26 L295.32 256.61 L295.82 256.96 L296.32 257.31 L296.82 257.65 L297.32 257.99 L297.82 258.32 L298.32 258.65 L298.82 258.97 L299.32 259.29 L299.82 259.6 L300.32 259.9 L300.82 260.2 L301.32 260.48 L301.82 260.77 L302.32 261.04 L302.82 261.3 L303.32 261.56 L303.82 261.81 L304.32 262.04 L304.82 262.27 L305.32 262.49 L305.82 262.7 L306.32 262.89 L306.82 263.08 L307.32 263.26 L307.82 263.43 L308.32 263.6 L308.82 263.75 L309.32 263.9 L309.82 264.04 L310.32 264.17 L310.82 264.3 L311.32 264.42 L311.82 264.53 L312.32 264.64 L312.82 264.74 L313.32 264.83 L313.82 264.92 L314.32 265.01 L314.82 265.09 L315.32 265.16 L315.82 265.23 L316.32 265.3 L316.82 265.36 L317.32 265.42 L317.82 265.47 L318.32 265.52 L318.82 265.57 L319.32 265.62 L319.82 265.67 L320.32 265.71 L320.82 265.75 L321.32 265.79 L321.82 265.83 L322.32 265.86 L322.82 265.9 L323.32 265.93 L323.82 265.97 L324.32 266.01 L324.82 266.04 L325.32 266.08 L325.82 266.12 L326.32 266.15 L326.82 266.19 L327.32 266.24 L327.82 266.28 L328.32 266.32 L328.82 266.37 L329.32 266.42 L329.82 266.48 L330.32 266.53 L330.82 266.59 L331.32 266.66 L331.82 266.72 L332.32 266.8 L332.82 266.87 L333.32 266.95 L333.82 267.04 L334.32 267.13 L334.82 267.23 L335.32 267.33 L335.82 267.44 L336.32 267.56 L336.82 267.68 L337.32 267.81 L337.82 267.94 L338.32 268.09 L338.82 268.24 L339.32 268.4 L339.82 268.56 L340.32 268.74 L340.82 268.92 L341.32 269.12" fill="none" stroke="#000" stroke-width="1.3" stroke-linejoin="round" stroke-linecap="butt" clip-path="url(#cr2)"/>
<rect x="210.6" y="221.9" width="136.79999999999998" height="80.3" fill="none" stroke="#666" stroke-width="0.9"/>
<line x1="216.82" y1="302.2" x2="216.82" y2="304.8" stroke="#666" stroke-width="0.9"/>
<text x="216.82" y="313" text-anchor="middle" class="t">0.0</text>
<line x1="252.3" y1="302.2" x2="252.3" y2="304.8" stroke="#666" stroke-width="0.9"/>
<text x="252.3" y="313" text-anchor="middle" class="t">0.2</text>
<line x1="287.78" y1="302.2" x2="287.78" y2="304.8" stroke="#666" stroke-width="0.9"/>
<text x="287.78" y="313" text-anchor="middle" class="t">0.4</text>
<line x1="323.26" y1="302.2" x2="323.26" y2="304.8" stroke="#666" stroke-width="0.9"/>
<text x="323.26" y="313" text-anchor="middle" class="t">0.6</text>
<line x1="208.9" y1="301.26" x2="210.6" y2="301.26" stroke="#555" stroke-width="0.8"/>
<line x1="208.9" y1="297.24" x2="210.6" y2="297.24" stroke="#555" stroke-width="0.8"/>
<line x1="208.9" y1="293.96" x2="210.6" y2="293.96" stroke="#555" stroke-width="0.8"/>
<line x1="208.9" y1="291.18" x2="210.6" y2="291.18" stroke="#555" stroke-width="0.8"/>
<line x1="208.9" y1="288.77" x2="210.6" y2="288.77" stroke="#555" stroke-width="0.8"/>
<line x1="208.9" y1="286.65" x2="210.6" y2="286.65" stroke="#555" stroke-width="0.8"/>
<line x1="208" y1="284.75" x2="210.6" y2="284.75" stroke="#666" stroke-width="0.9"/>
<text x="190.1" y="287.95" class="t">10<tspan font-size="6.9" dy="-2.9">−4</tspan></text>
<line x1="208.9" y1="272.26" x2="210.6" y2="272.26" stroke="#555" stroke-width="0.8"/>
<line x1="208.9" y1="264.95" x2="210.6" y2="264.95" stroke="#555" stroke-width="0.8"/>
<line x1="208.9" y1="259.76" x2="210.6" y2="259.76" stroke="#555" stroke-width="0.8"/>
<line x1="208.9" y1="255.74" x2="210.6" y2="255.74" stroke="#555" stroke-width="0.8"/>
<line x1="208.9" y1="252.46" x2="210.6" y2="252.46" stroke="#555" stroke-width="0.8"/>
<line x1="208.9" y1="249.68" x2="210.6" y2="249.68" stroke="#555" stroke-width="0.8"/>
<line x1="208.9" y1="247.27" x2="210.6" y2="247.27" stroke="#555" stroke-width="0.8"/>
<line x1="208.9" y1="245.15" x2="210.6" y2="245.15" stroke="#555" stroke-width="0.8"/>
<line x1="208" y1="243.25" x2="210.6" y2="243.25" stroke="#666" stroke-width="0.9"/>
<text x="190.1" y="246.45" class="t">10<tspan font-size="6.9" dy="-2.9">−3</tspan></text>
<line x1="208.9" y1="230.76" x2="210.6" y2="230.76" stroke="#555" stroke-width="0.8"/>
<line x1="208.9" y1="223.45" x2="210.6" y2="223.45" stroke="#555" stroke-width="0.8"/>
<text transform="translate(182.3 263.8) rotate(-90)" text-anchor="middle" class="l" style="font-size:10.9px">Amplitude</text>
<text x="278.7" y="324" text-anchor="middle" class="l" style="font-size:11.1px">Spatial frequency</text>
<rect x="302.4" y="224.9" width="42.4" height="32.4" rx="1.5" fill="#fff" stroke="#d6d6d6" stroke-width="0.8"/>
<line x1="304.5" y1="229" x2="316.2" y2="229" stroke="#008000" stroke-width="1.3"/>
<text x="320" y="230.98" font-size="6.0" class="lg" style="stroke-width:0.14px"><tspan font-size="5.6">Time zero</tspan></text>
<line x1="304.5" y1="236.95" x2="316.2" y2="236.95" stroke="#0000ff" stroke-width="1.3"/>
<text x="320" y="238.93" font-size="6.0" class="lg" style="stroke-width:0.14px"><tspan font-style="italic">a</tspan><tspan font-size="4.32" dy="1.2">0</tspan><tspan dy="-1.2"> = 0.2</tspan></text>
<line x1="304.5" y1="244.9" x2="316.2" y2="244.9" stroke="#ff0000" stroke-width="1.3"/>
<text x="320" y="246.88" font-size="6.0" class="lg" style="stroke-width:0.14px"><tspan font-style="italic">a</tspan><tspan font-size="4.32" dy="1.2">0</tspan><tspan dy="-1.2"> = 0.4</tspan></text>
<line x1="304.5" y1="252.85" x2="316.2" y2="252.85" stroke="#000" stroke-width="1.3"/>
<text x="320" y="254.83" font-size="6.0" class="lg" style="stroke-width:0.14px"><tspan font-style="italic">a</tspan><tspan font-size="4.32" dy="1.2">0</tspan><tspan dy="-1.2"> = 0.6</tspan></text>
</svg></body></html>
